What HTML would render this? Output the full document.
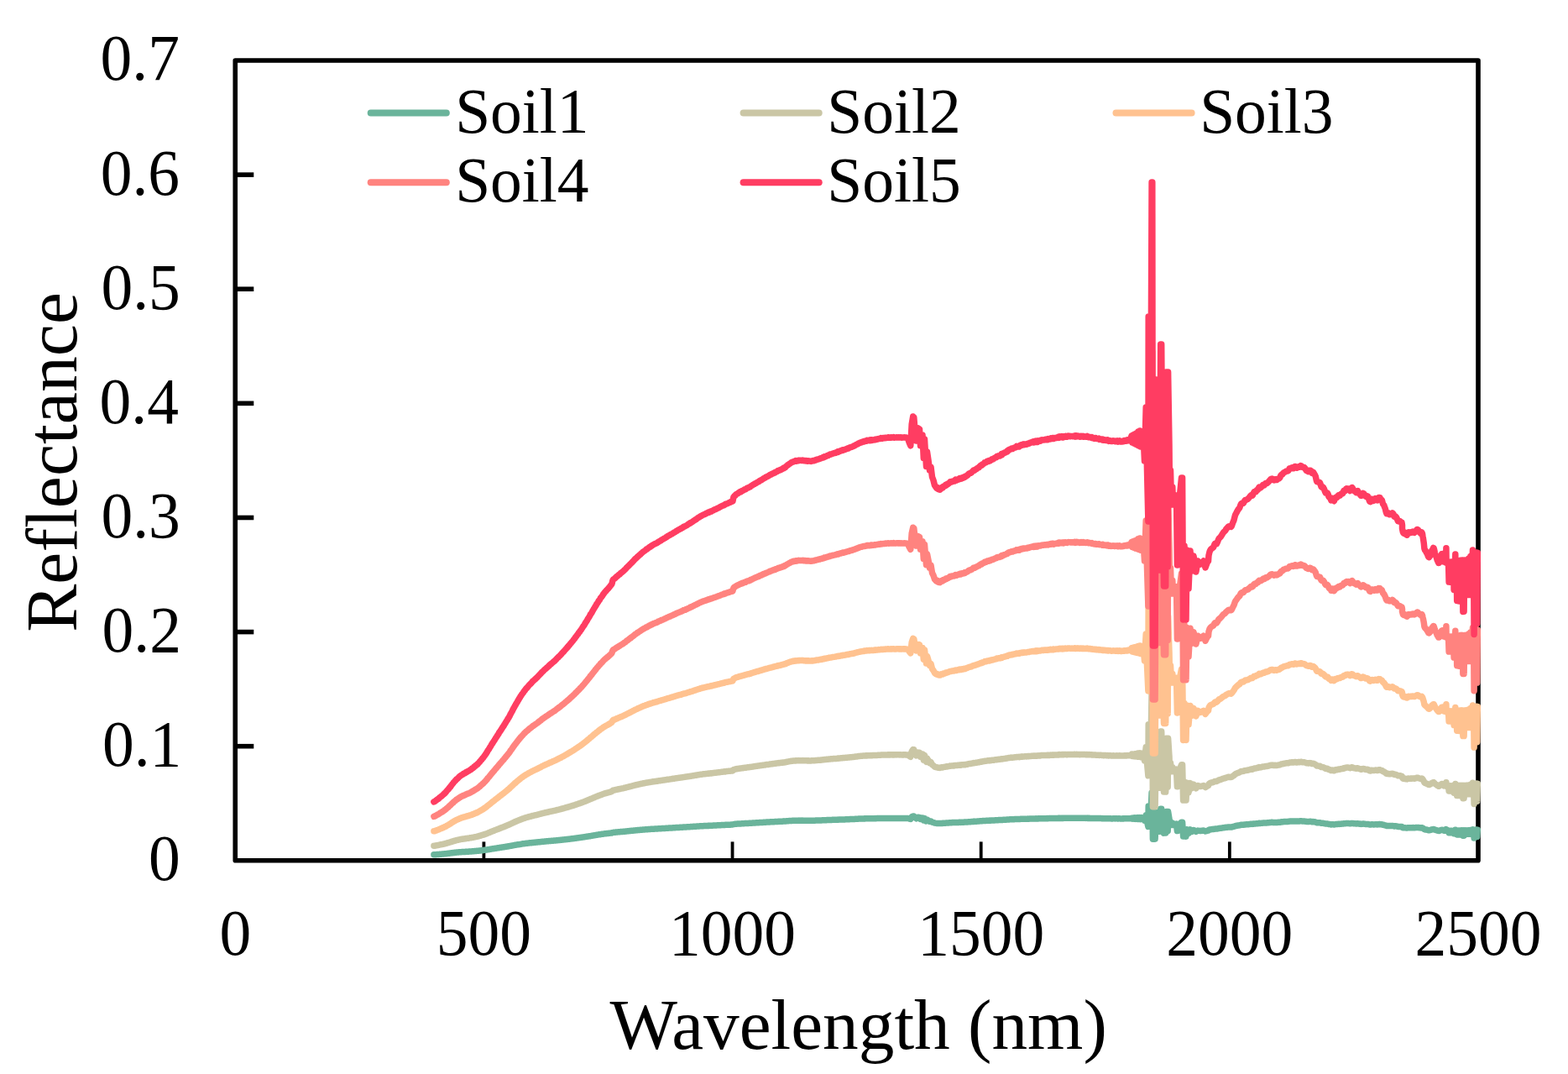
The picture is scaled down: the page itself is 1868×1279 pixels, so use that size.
<!DOCTYPE html><html><head><meta charset="utf-8"><title>Soil reflectance</title><style>html,body{margin:0;padding:0;background:#fff;overflow:hidden}svg{display:block}</style></head><body><svg width="1868" height="1279" viewBox="0 0 1868 1279"><rect x="0" y="0" width="1868" height="1279" fill="#fff"/><rect x="280.25" y="72.0" width="1480.75" height="952.80" fill="none" stroke="#000" stroke-width="5.6" stroke-linejoin="round"/><line x1="280.25" y1="888.69" x2="302.3" y2="888.69" stroke="#000" stroke-width="5.6"/><line x1="280.25" y1="752.57" x2="302.3" y2="752.57" stroke="#000" stroke-width="5.6"/><line x1="280.25" y1="616.46" x2="302.3" y2="616.46" stroke="#000" stroke-width="5.6"/><line x1="280.25" y1="480.34" x2="302.3" y2="480.34" stroke="#000" stroke-width="5.6"/><line x1="280.25" y1="344.23" x2="302.3" y2="344.23" stroke="#000" stroke-width="5.6"/><line x1="280.25" y1="208.11" x2="302.3" y2="208.11" stroke="#000" stroke-width="5.6"/><line x1="576.40" y1="1024.8" x2="576.40" y2="1002.4" stroke="#000" stroke-width="3.8"/><line x1="872.55" y1="1024.8" x2="872.55" y2="1002.4" stroke="#000" stroke-width="3.8"/><line x1="1168.70" y1="1024.8" x2="1168.70" y2="1002.4" stroke="#000" stroke-width="3.8"/><line x1="1464.85" y1="1024.8" x2="1464.85" y2="1002.4" stroke="#000" stroke-width="3.8"/><line x1="441.7" y1="134.6" x2="531.8" y2="134.6" stroke="#6AB49B" stroke-width="8" stroke-linecap="round"/><line x1="885.6" y1="134.6" x2="975.7" y2="134.6" stroke="#CAC6A5" stroke-width="8" stroke-linecap="round"/><line x1="1329.5" y1="134.6" x2="1419.6" y2="134.6" stroke="#FFC290" stroke-width="8" stroke-linecap="round"/><line x1="441.7" y1="217.3" x2="531.8" y2="217.3" stroke="#FF837F" stroke-width="8" stroke-linecap="round"/><line x1="885.6" y1="217.3" x2="975.7" y2="217.3" stroke="#FF3D62" stroke-width="8" stroke-linecap="round"/><path d="M516.9 1017.8L517.2 1017.8L517.7 1017.8L518.2 1017.7L518.7 1017.7L519.3 1017.7L520.0 1017.6L520.6 1017.6L521.3 1017.5L522.0 1017.5L522.6 1017.4L523.2 1017.4L523.8 1017.3L524.4 1017.2L525.0 1017.2L525.6 1017.2L526.2 1017.1L526.7 1017.1L527.3 1017.0L527.9 1017.0L528.4 1016.9L529.0 1016.9L529.5 1016.8L530.0 1016.8L530.6 1016.7L531.2 1016.7L531.8 1016.6L532.3 1016.5L532.9 1016.4L533.4 1016.4L534.0 1016.3L534.5 1016.3L535.0 1016.2L535.6 1016.1L536.1 1016.1L536.7 1016.0L537.2 1015.9L537.8 1015.8L538.3 1015.8L538.9 1015.7L539.4 1015.6L539.9 1015.6L540.5 1015.5L541.0 1015.4L541.6 1015.4L542.1 1015.3L542.7 1015.3L543.2 1015.2L543.8 1015.1L544.3 1015.1L544.8 1015.0L545.4 1015.0L545.9 1015.0L546.5 1014.9L547.0 1014.8L547.6 1014.8L548.2 1014.8L548.8 1014.7L549.3 1014.7L549.9 1014.6L550.4 1014.6L551.0 1014.5L551.6 1014.5L552.2 1014.5L552.8 1014.4L553.4 1014.4L553.9 1014.4L554.5 1014.4L555.0 1014.3L555.6 1014.3L556.2 1014.3L556.8 1014.2L557.3 1014.2L557.9 1014.2L558.4 1014.1L559.0 1014.1L559.5 1014.0L560.0 1014.0L560.6 1014.0L561.1 1013.9L561.7 1013.9L562.2 1013.9L562.7 1013.8L563.3 1013.8L563.8 1013.8L564.4 1013.7L564.9 1013.6L565.5 1013.6L566.0 1013.6L566.6 1013.5L567.2 1013.5L567.8 1013.4L568.3 1013.3L568.9 1013.3L569.4 1013.3L570.0 1013.2L570.5 1013.1L571.1 1013.1L571.6 1013.0L572.2 1013.0L572.7 1012.9L573.3 1012.8L573.8 1012.8L574.4 1012.7L574.9 1012.6L575.5 1012.6L576.0 1012.5L576.6 1012.4L577.1 1012.3L577.7 1012.3L578.2 1012.2L578.7 1012.1L579.3 1012.1L579.8 1011.9L580.3 1011.9L580.8 1011.8L581.4 1011.7L581.9 1011.6L582.5 1011.5L583.0 1011.4L583.5 1011.4L584.0 1011.3L584.5 1011.2L585.0 1011.1L585.5 1011.0L586.1 1010.9L586.8 1010.8L587.5 1010.7L588.0 1010.6L588.5 1010.6L589.0 1010.5L589.6 1010.4L590.2 1010.3L590.8 1010.2L591.4 1010.1L592.0 1010.0L592.6 1009.9L593.2 1009.8L593.9 1009.7L594.5 1009.6L595.1 1009.5L595.7 1009.4L596.3 1009.3L596.9 1009.2L597.5 1009.1L598.0 1009.1L598.6 1009.0L599.2 1008.9L599.8 1008.8L600.4 1008.7L600.9 1008.6L601.5 1008.5L602.1 1008.4L602.7 1008.3L603.3 1008.2L603.8 1008.1L604.4 1008.1L605.0 1007.9L605.6 1007.8L606.2 1007.8L606.8 1007.6L607.4 1007.5L608.0 1007.4L608.6 1007.3L609.2 1007.2L609.8 1007.1L610.4 1007.0L611.0 1006.8L611.5 1006.8L612.1 1006.6L612.7 1006.5L613.3 1006.4L613.8 1006.3L614.4 1006.2L615.0 1006.1L615.6 1006.0L616.2 1005.9L616.7 1005.8L617.3 1005.7L617.8 1005.7L618.4 1005.6L618.9 1005.4L619.5 1005.4L620.1 1005.2L620.7 1005.2L621.3 1005.1L621.8 1005.0L622.4 1004.9L623.0 1004.8L623.5 1004.8L624.1 1004.7L624.7 1004.6L625.3 1004.5L625.8 1004.4L626.4 1004.4L627.0 1004.3L627.6 1004.3L628.2 1004.2L628.9 1004.1L629.5 1004.0L630.1 1004.0L630.7 1003.9L631.2 1003.8L631.8 1003.8L632.4 1003.7L633.0 1003.7L633.5 1003.6L634.1 1003.5L634.7 1003.4L635.3 1003.4L635.9 1003.4L636.5 1003.3L637.1 1003.2L637.7 1003.2L638.3 1003.1L638.9 1003.1L639.5 1003.0L640.1 1003.0L640.7 1002.9L641.3 1002.8L641.9 1002.8L642.5 1002.7L643.0 1002.7L643.6 1002.6L644.2 1002.6L644.8 1002.5L645.4 1002.4L646.0 1002.3L646.6 1002.3L647.2 1002.2L647.7 1002.2L648.3 1002.1L648.9 1002.1L649.5 1002.0L650.1 1002.0L650.7 1001.9L651.3 1001.8L651.9 1001.8L652.5 1001.8L653.0 1001.7L653.6 1001.6L654.2 1001.6L654.8 1001.5L655.4 1001.5L656.0 1001.4L656.6 1001.4L657.2 1001.3L657.7 1001.3L658.3 1001.2L658.9 1001.2L659.5 1001.1L660.1 1001.1L660.7 1001.0L661.3 1001.0L661.9 1000.9L662.5 1000.9L663.1 1000.8L663.7 1000.7L664.3 1000.7L664.9 1000.6L665.5 1000.5L666.1 1000.5L666.7 1000.4L667.3 1000.4L667.8 1000.3L668.4 1000.3L669.0 1000.2L669.5 1000.1L670.1 1000.0L670.7 1000.0L671.3 1000.0L671.9 999.9L672.5 999.8L673.1 999.7L673.7 999.7L674.2 999.6L674.8 999.5L675.4 999.5L675.9 999.4L676.5 999.4L677.1 999.3L677.7 999.2L678.2 999.2L678.8 999.1L679.4 999.0L680.0 998.9L680.5 998.9L681.1 998.8L681.7 998.7L682.3 998.7L682.9 998.6L683.4 998.5L684.0 998.4L684.6 998.4L685.2 998.3L685.8 998.2L686.3 998.1L686.9 998.1L687.5 998.0L688.1 997.9L688.7 997.8L689.3 997.7L689.9 997.6L690.5 997.6L691.1 997.5L691.7 997.4L692.3 997.3L692.9 997.2L693.5 997.1L694.0 997.1L694.6 996.9L695.2 996.9L695.8 996.8L696.3 996.7L696.9 996.6L697.5 996.5L698.1 996.4L698.7 996.3L699.3 996.2L699.8 996.1L700.4 996.0L701.0 995.9L701.5 995.9L702.1 995.8L702.7 995.7L703.2 995.5L703.8 995.5L704.4 995.4L705.0 995.3L705.5 995.2L706.1 995.1L706.7 995.0L707.3 994.8L707.8 994.8L708.4 994.7L709.0 994.6L709.6 994.5L710.1 994.4L710.7 994.3L711.3 994.2L711.9 994.1L712.5 994.0L713.0 993.9L713.6 993.8L714.2 993.8L714.8 993.7L715.3 993.6L715.9 993.5L716.5 993.4L717.1 993.3L717.6 993.3L718.2 993.2L718.8 993.1L719.4 993.0L720.0 992.9L720.6 992.8L721.3 992.8L721.9 992.7L722.5 992.6L723.2 992.6L723.8 992.5L724.4 992.4L724.9 992.4L725.4 992.3L725.9 992.2L726.3 992.2L727.1 992.1L727.7 992.0L728.1 992.0L728.5 991.9L728.8 991.9L729.3 991.7L729.6 991.6L730.0 991.4L730.4 991.4L730.8 991.3L731.5 991.3L731.9 991.3L732.3 991.2L732.7 991.2L733.2 991.1L733.7 991.1L734.4 991.0L735.1 991.0L735.5 990.9L736.0 990.9L736.6 990.8L737.1 990.8L737.7 990.7L738.3 990.7L738.9 990.6L739.5 990.6L740.2 990.5L740.8 990.5L741.4 990.4L742.0 990.4L742.6 990.3L743.2 990.3L743.7 990.2L744.3 990.2L744.8 990.1L745.4 990.1L745.9 990.0L746.5 989.9L747.0 989.9L747.6 989.8L748.2 989.8L748.8 989.7L749.4 989.6L750.1 989.6L750.6 989.5L751.1 989.5L751.7 989.4L752.2 989.3L752.8 989.3L753.3 989.3L753.9 989.2L754.5 989.1L755.1 989.1L755.7 989.0L756.3 988.9L756.9 988.9L757.5 988.8L758.2 988.8L758.8 988.7L759.4 988.6L760.1 988.6L760.6 988.5L761.2 988.5L761.8 988.4L762.3 988.4L762.9 988.3L763.5 988.3L764.1 988.2L764.7 988.2L765.3 988.1L765.9 988.1L766.5 988.0L767.1 988.0L767.7 987.9L768.3 987.9L769.0 987.8L769.6 987.8L770.2 987.7L770.8 987.7L771.4 987.7L772.0 987.6L772.6 987.6L773.2 987.5L773.8 987.5L774.4 987.5L775.0 987.4L775.6 987.3L776.2 987.3L776.8 987.3L777.4 987.2L778.0 987.2L778.6 987.2L779.1 987.2L779.7 987.1L780.3 987.1L780.9 987.1L781.5 987.0L782.1 987.0L782.7 987.0L783.3 986.9L783.9 986.9L784.5 986.8L785.1 986.8L785.7 986.8L786.3 986.7L786.9 986.7L787.5 986.7L788.1 986.6L788.7 986.6L789.3 986.6L789.9 986.5L790.5 986.5L791.1 986.5L791.6 986.4L792.2 986.4L792.8 986.4L793.4 986.3L794.0 986.3L794.6 986.2L795.2 986.2L795.8 986.2L796.4 986.1L797.0 986.1L797.6 986.1L798.2 986.0L798.8 986.0L799.4 986.0L800.0 985.9L800.6 985.9L801.2 985.9L801.8 985.8L802.4 985.8L803.0 985.7L803.6 985.7L804.2 985.7L804.8 985.6L805.4 985.6L806.0 985.5L806.6 985.5L807.2 985.5L807.7 985.4L808.3 985.4L808.9 985.4L809.5 985.4L810.1 985.3L810.7 985.3L811.3 985.3L811.8 985.2L812.4 985.2L813.0 985.2L813.5 985.1L814.1 985.1L814.6 985.0L815.2 985.0L815.8 985.0L816.3 985.0L816.9 984.9L817.5 984.9L818.0 984.9L818.6 984.8L819.2 984.8L819.8 984.8L820.4 984.7L821.0 984.7L821.6 984.7L822.2 984.6L822.7 984.6L823.3 984.6L823.9 984.5L824.4 984.5L825.0 984.5L825.6 984.4L826.2 984.3L826.8 984.3L827.3 984.3L827.9 984.3L828.5 984.2L829.1 984.2L829.7 984.1L830.3 984.1L830.9 984.0L831.5 984.0L832.1 984.0L832.7 983.9L833.3 983.9L833.9 983.8L834.5 983.8L835.1 983.8L835.7 983.8L836.3 983.7L836.9 983.7L837.5 983.7L838.1 983.6L838.7 983.6L839.2 983.6L839.8 983.5L840.4 983.5L841.0 983.5L841.6 983.5L842.2 983.4L842.8 983.4L843.4 983.4L843.9 983.3L844.5 983.4L845.1 983.3L845.7 983.3L846.3 983.2L846.9 983.2L847.5 983.2L848.1 983.2L848.6 983.2L849.2 983.1L849.8 983.1L850.4 983.1L851.0 983.0L851.6 983.0L852.2 983.0L852.8 983.0L853.4 982.9L854.0 982.9L854.7 982.8L855.3 982.8L855.9 982.8L856.5 982.8L857.1 982.7L857.8 982.7L858.4 982.7L859.0 982.6L859.6 982.6L860.1 982.6L860.7 982.6L861.3 982.5L861.8 982.5L862.4 982.5L862.9 982.4L863.4 982.4L863.9 982.4L864.4 982.3L865.1 982.3L865.9 982.3L866.6 982.3L867.3 982.2L868.0 982.2L868.6 982.2L869.2 982.2L869.8 982.2L870.4 982.1L870.9 982.1L871.4 982.1L871.8 982.0L872.2 982.0L872.6 982.0L872.9 982.0L873.9 981.5L874.2 981.5L874.5 981.5L874.9 981.4L875.3 981.4L875.9 981.3L876.6 981.2L877.4 981.2L878.5 981.1L878.9 981.1L879.3 981.1L879.8 981.0L880.3 981.0L880.8 981.0L881.4 980.9L881.9 980.9L882.5 980.9L883.1 980.9L883.7 980.8L884.3 980.8L885.0 980.7L885.6 980.7L886.2 980.7L886.9 980.6L887.5 980.6L888.2 980.6L888.9 980.5L889.5 980.5L890.1 980.4L890.8 980.4L891.4 980.4L892.0 980.4L892.6 980.3L893.2 980.3L893.8 980.3L894.4 980.2L895.0 980.2L895.5 980.2L896.1 980.1L896.7 980.1L897.3 980.0L897.9 980.0L898.5 980.0L899.1 979.9L899.7 979.9L900.2 979.9L900.8 979.8L901.4 979.8L902.0 979.8L902.6 979.7L903.2 979.7L903.8 979.7L904.4 979.6L904.9 979.6L905.5 979.5L906.1 979.5L906.7 979.5L907.3 979.5L907.9 979.4L908.5 979.4L909.1 979.4L909.7 979.3L910.3 979.3L910.9 979.2L911.5 979.2L912.1 979.2L912.7 979.1L913.3 979.1L913.9 979.1L914.5 979.0L915.1 979.0L915.7 979.0L916.2 978.9L916.8 978.9L917.4 978.9L918.0 978.8L918.5 978.8L919.1 978.8L919.6 978.8L920.2 978.7L920.7 978.7L921.4 978.7L922.0 978.7L922.7 978.6L923.4 978.6L924.1 978.5L924.8 978.5L925.4 978.5L926.1 978.5L926.7 978.4L927.4 978.3L928.0 978.4L928.6 978.3L929.2 978.3L929.7 978.3L930.2 978.2L930.7 978.2L931.2 978.2L931.6 978.2L932.0 978.2L933.0 978.1L933.5 978.1L933.7 978.0L934.0 978.1L934.8 978.0L935.2 978.0L935.6 978.0L936.1 977.9L936.6 977.9L937.2 977.8L937.8 977.8L938.3 977.7L938.9 977.7L939.6 977.6L940.2 977.6L940.8 977.5L941.4 977.5L942.0 977.5L942.6 977.4L943.2 977.4L943.8 977.4L944.3 977.3L944.9 977.3L945.5 977.3L946.1 977.3L946.6 977.3L947.2 977.2L947.8 977.2L948.4 977.2L948.9 977.2L949.5 977.2L950.1 977.2L950.6 977.2L951.2 977.1L951.7 977.2L952.3 977.2L952.9 977.1L953.5 977.2L954.1 977.1L954.6 977.2L955.2 977.1L955.8 977.2L956.3 977.1L956.9 977.2L957.5 977.2L958.1 977.2L958.7 977.2L959.3 977.2L959.8 977.2L960.4 977.2L960.9 977.2L961.5 977.2L962.0 977.2L962.6 977.2L963.1 977.2L963.7 977.2L964.3 977.2L964.8 977.2L965.4 977.2L966.0 977.3L966.6 977.2L967.3 977.2L967.9 977.2L968.4 977.2L969.0 977.2L969.6 977.2L970.1 977.2L970.7 977.2L971.3 977.1L971.9 977.1L972.5 977.1L973.1 977.1L973.7 977.0L974.4 977.0L975.0 977.0L975.6 977.0L976.2 976.9L976.8 976.9L977.4 976.9L977.9 976.9L978.5 976.9L979.1 976.9L979.7 976.8L980.3 976.8L980.8 976.8L981.4 976.8L982.0 976.7L982.6 976.7L983.1 976.7L983.7 976.7L984.3 976.7L984.8 976.6L985.4 976.6L985.9 976.6L986.5 976.6L987.1 976.5L987.6 976.5L988.2 976.5L988.8 976.4L989.4 976.4L990.0 976.4L990.6 976.4L991.2 976.4L991.8 976.3L992.4 976.3L993.0 976.3L993.6 976.3L994.2 976.3L994.8 976.3L995.4 976.3L996.0 976.2L996.6 976.2L997.2 976.2L997.8 976.1L998.4 976.2L998.9 976.1L999.5 976.1L1000.1 976.1L1000.6 976.0L1001.2 976.0L1001.8 976.0L1002.4 976.0L1002.9 976.0L1003.5 976.0L1004.1 975.9L1004.7 975.9L1005.2 975.9L1005.8 975.9L1006.4 975.9L1006.9 975.9L1007.5 975.8L1008.1 975.8L1008.6 975.8L1009.2 975.8L1009.8 975.7L1010.4 975.7L1011.0 975.7L1011.6 975.7L1012.1 975.6L1012.7 975.6L1013.3 975.6L1013.9 975.6L1014.4 975.6L1015.0 975.5L1015.5 975.5L1016.1 975.5L1016.6 975.5L1017.1 975.4L1017.8 975.4L1018.4 975.4L1019.0 975.3L1019.6 975.3L1020.2 975.3L1020.8 975.2L1021.4 975.2L1021.9 975.2L1022.5 975.1L1023.1 975.1L1023.6 975.1L1024.2 975.0L1024.8 975.1L1025.4 975.0L1026.0 975.0L1026.6 975.0L1027.1 975.0L1027.7 974.9L1028.3 974.9L1028.9 974.9L1029.5 974.9L1030.1 974.8L1030.7 974.9L1031.3 974.8L1031.9 974.8L1032.5 974.8L1033.0 974.8L1033.6 974.8L1034.2 974.8L1034.7 974.8L1035.3 974.7L1035.9 974.8L1036.4 974.8L1037.0 974.7L1037.6 974.8L1038.2 974.7L1038.8 974.8L1039.4 974.7L1040.0 974.7L1040.6 974.7L1041.2 974.7L1041.8 974.7L1042.4 974.6L1042.9 974.7L1043.5 974.7L1044.1 974.6L1044.7 974.6L1045.3 974.6L1045.9 974.6L1046.6 974.6L1047.2 974.6L1047.8 974.6L1048.4 974.6L1049.0 974.6L1049.6 974.5L1050.2 974.5L1050.8 974.5L1051.4 974.5L1051.9 974.5L1052.5 974.5L1053.1 974.5L1053.6 974.5L1054.2 974.5L1054.7 974.5L1055.3 974.4L1055.9 974.5L1056.4 974.4L1057.0 974.4L1057.6 974.4L1058.1 974.4L1058.7 974.4L1059.3 974.4L1059.8 974.4L1060.4 974.4L1061.0 974.4L1061.5 974.4L1062.1 974.4L1062.7 974.4L1063.2 974.4L1063.8 974.4L1064.4 974.4L1065.0 974.4L1065.5 974.4L1066.1 974.4L1066.7 974.4L1067.3 974.4L1067.8 974.4L1068.4 974.4L1069.0 974.4L1069.5 974.4L1070.1 974.4L1070.7 974.4L1071.3 974.4L1071.9 974.4L1072.6 974.4L1073.2 974.4L1073.9 974.4L1074.5 974.4L1075.2 974.4L1075.8 974.4L1076.4 974.4L1077.0 974.4L1077.6 974.4L1078.1 974.4L1078.6 974.4L1079.0 974.4L1079.4 974.4L1079.7 974.4L1081.5 974.5L1083.2 975.0L1084.8 975.4L1086.2 972.8L1087.7 971.9L1088.8 972.0L1090.2 973.8L1091.6 974.8L1092.6 973.5L1094.0 973.3L1095.5 973.4L1096.5 975.4L1097.5 974.1L1099.0 974.1L1100.3 976.9L1101.5 974.6L1102.5 976.3L1103.5 977.9L1104.5 976.1L1106.0 977.1L1107.5 978.3L1109.0 977.9L1110.5 979.1L1112.0 979.5L1113.5 980.1L1115.5 980.4L1116.5 980.4L1116.8 980.5L1117.1 980.5L1117.7 980.6L1118.6 980.6L1119.0 980.6L1119.5 980.6L1120.0 980.6L1120.5 980.5L1121.1 980.5L1121.7 980.4L1122.4 980.4L1123.0 980.4L1123.7 980.2L1124.3 980.3L1125.0 980.3L1125.6 980.2L1126.1 980.2L1126.7 980.1L1127.2 980.1L1127.8 980.1L1128.3 980.0L1128.8 980.0L1129.4 980.0L1130.0 979.9L1130.5 979.9L1131.1 979.8L1131.7 979.7L1132.3 979.8L1132.9 979.7L1133.5 979.7L1134.0 979.6L1134.6 979.6L1135.2 979.6L1135.8 979.6L1136.3 979.6L1136.9 979.6L1137.5 979.5L1138.1 979.4L1138.8 979.5L1139.4 979.5L1140.0 979.5L1140.5 979.5L1141.1 979.4L1141.7 979.4L1142.3 979.4L1142.8 979.3L1143.4 979.3L1144.0 979.3L1144.6 979.4L1145.2 979.3L1145.7 979.2L1146.3 979.2L1146.8 979.2L1147.4 979.2L1147.9 979.2L1148.5 979.1L1149.0 979.1L1149.6 979.1L1150.1 979.0L1150.7 979.0L1151.3 979.0L1151.9 979.0L1152.5 978.9L1153.1 978.9L1153.7 978.8L1154.3 978.7L1154.9 978.7L1155.5 978.7L1156.1 978.7L1156.7 978.6L1157.3 978.6L1157.9 978.5L1158.5 978.5L1159.1 978.4L1159.7 978.3L1160.3 978.4L1161.0 978.3L1161.6 978.3L1162.2 978.2L1162.8 978.2L1163.4 978.2L1164.0 978.1L1164.6 978.1L1165.2 978.0L1165.8 978.0L1166.3 978.0L1166.9 977.9L1167.5 977.8L1168.1 977.8L1168.6 977.7L1169.1 977.8L1169.7 977.7L1170.2 977.6L1170.7 977.6L1171.3 977.6L1171.9 977.5L1172.5 977.5L1173.0 977.4L1173.5 977.4L1174.1 977.4L1174.6 977.4L1175.2 977.3L1175.8 977.3L1176.4 977.3L1176.9 977.2L1177.5 977.2L1178.1 977.2L1178.7 977.1L1179.3 977.1L1179.8 977.2L1180.4 977.1L1181.0 977.1L1181.6 977.0L1182.2 977.0L1182.8 977.0L1183.4 977.0L1184.0 976.9L1184.6 976.9L1185.2 976.9L1185.8 976.8L1186.4 976.8L1187.0 976.8L1187.6 976.7L1188.2 976.7L1188.8 976.7L1189.4 976.6L1190.0 976.6L1190.6 976.6L1191.2 976.6L1191.8 976.5L1192.4 976.5L1193.0 976.4L1193.6 976.5L1194.2 976.4L1194.8 976.4L1195.4 976.3L1196.0 976.3L1196.6 976.2L1197.2 976.2L1197.8 976.2L1198.4 976.2L1199.0 976.1L1199.6 976.0L1200.2 976.1L1200.8 976.0L1201.4 975.9L1202.0 975.9L1202.6 975.9L1203.2 975.8L1203.8 975.8L1204.4 975.8L1205.0 975.7L1205.6 975.7L1206.2 975.8L1206.8 975.7L1207.4 975.7L1208.0 975.7L1208.6 975.6L1209.2 975.6L1209.8 975.6L1210.4 975.6L1211.0 975.5L1211.6 975.5L1212.2 975.5L1212.7 975.5L1213.3 975.4L1213.9 975.5L1214.4 975.5L1215.0 975.4L1215.5 975.4L1216.1 975.3L1216.7 975.3L1217.2 975.3L1217.8 975.3L1218.4 975.3L1218.9 975.2L1219.5 975.2L1220.1 975.3L1220.7 975.2L1221.3 975.2L1221.9 975.2L1222.5 975.2L1223.1 975.2L1223.7 975.2L1224.3 975.1L1224.9 975.1L1225.5 975.2L1226.1 975.1L1226.7 975.1L1227.3 975.1L1227.9 975.0L1228.5 975.0L1229.0 975.0L1229.6 974.9L1230.2 975.0L1230.8 974.9L1231.3 975.0L1231.9 975.0L1232.5 974.9L1233.1 975.0L1233.8 974.9L1234.4 974.8L1235.1 975.0L1235.6 974.9L1236.1 974.9L1236.7 974.8L1237.2 974.9L1237.8 974.8L1238.3 974.8L1238.9 974.8L1239.5 974.8L1240.1 974.7L1240.7 974.7L1241.3 974.7L1241.9 974.7L1242.5 974.7L1243.0 974.7L1243.6 974.7L1244.2 974.7L1244.8 974.7L1245.4 974.7L1246.0 974.7L1246.6 974.7L1247.1 974.6L1247.7 974.6L1248.3 974.7L1248.9 974.6L1249.5 974.6L1250.1 974.6L1250.6 974.6L1251.2 974.6L1251.8 974.5L1252.4 974.6L1253.0 974.6L1253.6 974.5L1254.2 974.6L1254.7 974.5L1255.3 974.6L1255.9 974.5L1256.5 974.5L1257.1 974.5L1257.6 974.5L1258.2 974.5L1258.8 974.4L1259.4 974.5L1259.9 974.4L1260.5 974.4L1261.1 974.3L1261.7 974.4L1262.3 974.4L1262.8 974.3L1263.4 974.4L1264.0 974.4L1264.6 974.4L1265.1 974.3L1265.7 974.4L1266.3 974.3L1266.9 974.4L1267.5 974.3L1268.0 974.3L1268.6 974.3L1269.2 974.3L1269.8 974.3L1270.4 974.3L1271.0 974.3L1271.5 974.3L1272.1 974.3L1272.7 974.2L1273.3 974.3L1273.9 974.3L1274.5 974.2L1275.1 974.3L1275.6 974.3L1276.2 974.3L1276.8 974.3L1277.4 974.3L1278.0 974.3L1278.5 974.3L1279.1 974.3L1279.7 974.2L1280.3 974.2L1280.9 974.3L1281.4 974.3L1282.0 974.3L1282.6 974.2L1283.2 974.3L1283.7 974.3L1284.3 974.2L1284.9 974.3L1285.5 974.3L1286.0 974.3L1286.6 974.3L1287.2 974.3L1287.8 974.2L1288.4 974.3L1289.0 974.3L1289.6 974.3L1290.2 974.3L1290.8 974.3L1291.4 974.3L1292.0 974.3L1292.6 974.3L1293.2 974.3L1293.8 974.4L1294.4 974.3L1295.0 974.3L1295.5 974.4L1296.1 974.4L1296.6 974.3L1297.1 974.4L1297.6 974.3L1298.3 974.4L1299.0 974.4L1299.6 974.4L1300.2 974.5L1300.8 974.4L1301.3 974.5L1301.9 974.5L1302.4 974.5L1302.9 974.5L1303.5 974.5L1304.0 974.5L1304.6 974.5L1305.2 974.5L1305.8 974.5L1306.3 974.6L1306.9 974.6L1307.5 974.6L1308.0 974.6L1308.6 974.6L1309.2 974.5L1309.8 974.6L1310.3 974.6L1310.9 974.6L1311.5 974.6L1312.1 974.6L1312.7 974.7L1313.2 974.7L1313.8 974.6L1314.4 974.7L1315.0 974.7L1315.6 974.7L1316.2 974.7L1316.7 974.7L1317.3 974.7L1317.9 974.8L1318.5 974.8L1319.1 974.7L1319.7 974.8L1320.3 974.7L1320.8 974.8L1321.4 974.8L1322.0 974.8L1322.6 974.8L1323.2 974.8L1323.8 974.9L1324.3 974.9L1324.9 974.9L1325.5 974.9L1326.1 974.8L1326.7 974.8L1327.2 974.8L1327.8 974.8L1328.4 974.9L1329.0 974.8L1329.5 974.8L1330.1 974.8L1330.7 974.8L1331.2 974.9L1331.8 974.9L1332.4 974.9L1333.0 974.8L1333.6 974.8L1334.2 974.9L1334.9 974.9L1335.5 974.9L1336.1 974.9L1336.7 974.9L1337.3 974.9L1337.9 974.8L1338.4 974.9L1338.9 974.9L1339.4 974.8L1340.2 974.8L1340.8 974.8L1341.4 974.8L1341.8 974.8L1342.3 974.8L1342.9 974.7L1343.5 974.8L1344.1 974.8L1344.7 974.8L1345.3 974.7L1345.8 974.7L1346.3 974.8L1346.6 974.7L1348.0 974.2L1349.0 975.0L1350.0 974.1L1351.0 975.1L1352.0 974.0L1353.0 975.2L1354.0 973.9L1355.0 975.3L1356.0 973.7L1357.0 975.4L1358.0 973.6L1359.0 975.5L1360.0 973.7L1361.0 975.3L1362.0 973.9L1363.5 977.2L1365.2 970.8L1366.5 978.3L1367.9 984.4L1368.2 960.0L1369.5 972.3L1370.5 982.3L1372.1 944.0L1372.8 944.0L1373.4 999.2L1374.5 982.3L1375.0 999.2L1376.1 999.2L1377.5 967.5L1378.5 987.3L1379.5 969.3L1381.3 990.2L1382.7 963.3L1383.7 963.3L1385.0 982.3L1386.5 992.1L1387.5 967.3L1388.7 992.1L1389.7 966.6L1390.5 982.3L1391.2 989.8L1391.6 966.6L1393.0 975.2L1393.6 982.4L1394.5 978.3L1395.5 982.4L1396.8 980.3L1397.6 982.4L1398.6 981.3L1399.6 982.4L1401.5 981.3L1402.4 989.6L1403.0 989.6L1404.5 982.3L1407.5 979.2L1408.6 979.2L1409.6 996.1L1411.0 987.3L1413.0 996.1L1414.0 987.8L1416.0 992.4L1418.0 987.9L1420.0 990.3L1422.0 988.5L1424.9 990.4L1427.0 989.1L1430.0 989.5L1433.8 989.1L1436.0 989.9L1438.2 989.3L1439.5 989.1L1439.7 988.9L1440.0 988.4L1440.9 988.1L1441.3 988.0L1441.8 987.8L1442.3 987.8L1442.9 987.7L1443.5 987.6L1444.2 987.6L1444.9 987.6L1445.6 987.5L1446.2 987.3L1446.9 987.2L1447.5 987.1L1448.1 987.1L1448.7 987.1L1449.3 987.1L1449.9 987.0L1450.5 986.9L1451.1 986.7L1451.7 986.5L1452.3 986.4L1452.9 986.4L1453.5 986.3L1454.1 986.3L1454.7 986.2L1455.3 986.1L1455.9 986.0L1456.6 985.9L1457.2 985.8L1457.8 985.7L1458.4 985.6L1459.0 985.6L1459.5 985.5L1460.1 985.4L1460.6 985.3L1461.3 985.3L1461.9 985.2L1462.5 985.1L1463.1 985.1L1463.6 985.0L1464.1 985.0L1464.6 985.0L1465.0 985.0L1465.7 985.0L1466.3 985.1L1466.8 985.0L1467.2 985.0L1467.7 984.9L1468.0 984.8L1468.5 984.6L1468.9 984.5L1469.4 984.4L1469.9 984.3L1470.5 984.1L1471.0 983.9L1471.5 983.7L1472.0 983.6L1472.6 983.5L1473.2 983.3L1473.8 983.2L1474.3 983.1L1474.8 983.0L1475.3 983.0L1475.8 982.9L1476.3 982.9L1476.9 982.8L1477.5 982.6L1478.2 982.4L1478.7 982.3L1479.3 982.3L1479.8 982.2L1480.4 982.2L1481.0 982.3L1481.6 982.2L1482.2 982.1L1482.9 981.9L1483.5 981.9L1484.1 981.9L1484.7 981.8L1485.3 981.8L1485.9 981.8L1486.5 981.8L1487.1 981.7L1487.7 981.6L1488.3 981.5L1488.9 981.5L1489.5 981.4L1490.1 981.3L1490.7 981.3L1491.3 981.3L1491.8 981.4L1492.4 981.3L1492.9 981.2L1493.4 981.0L1493.9 980.9L1494.5 980.9L1495.0 980.9L1495.5 980.9L1496.1 980.9L1496.7 980.8L1497.3 980.7L1497.9 980.7L1498.4 980.7L1499.0 980.6L1499.5 980.4L1500.1 980.3L1500.7 980.4L1501.3 980.4L1501.9 980.4L1502.6 980.3L1503.2 980.3L1503.8 980.2L1504.4 980.1L1505.0 980.0L1505.5 980.0L1506.1 980.1L1506.6 980.1L1507.2 980.0L1507.8 979.9L1508.4 979.9L1508.9 979.9L1509.4 979.9L1510.0 979.8L1510.5 979.8L1511.0 979.7L1511.5 979.7L1512.1 979.6L1512.6 979.5L1513.2 979.5L1513.8 979.4L1514.3 979.4L1514.9 979.3L1515.5 979.3L1516.1 979.4L1516.7 979.4L1517.3 979.5L1517.9 979.5L1518.5 979.5L1519.1 979.4L1519.7 979.4L1520.3 979.5L1520.9 979.5L1521.5 979.4L1522.1 979.4L1522.7 979.3L1523.2 979.3L1523.8 979.3L1524.4 979.2L1525.0 979.2L1525.6 979.0L1526.2 978.9L1526.7 978.8L1527.3 978.9L1527.9 978.8L1528.5 978.7L1529.1 978.6L1529.7 978.6L1530.3 978.6L1530.9 978.5L1531.5 978.5L1532.1 978.5L1532.6 978.4L1533.2 978.4L1533.8 978.4L1534.4 978.4L1535.0 978.3L1535.6 978.2L1536.2 978.1L1536.8 978.1L1537.4 978.1L1538.0 978.1L1538.5 978.0L1539.1 978.0L1539.7 978.0L1540.3 978.1L1540.9 978.1L1541.5 978.1L1542.0 978.0L1542.6 977.9L1543.2 977.9L1543.8 978.0L1544.4 978.0L1545.0 978.0L1545.6 978.0L1546.2 977.9L1546.8 977.9L1547.3 977.9L1547.9 978.0L1548.5 977.9L1549.1 977.8L1549.7 977.8L1550.3 977.8L1550.9 977.9L1551.5 978.0L1552.1 978.0L1552.7 978.0L1553.3 978.0L1553.9 978.0L1554.6 978.1L1555.2 978.2L1555.8 978.3L1556.4 978.4L1557.0 978.4L1557.6 978.4L1558.1 978.4L1558.7 978.5L1559.2 978.4L1559.9 978.4L1560.6 978.3L1561.2 978.3L1561.9 978.4L1562.5 978.5L1563.0 978.7L1563.6 978.7L1564.1 978.6L1564.6 978.6L1565.3 978.7L1565.8 978.8L1566.3 978.8L1566.8 978.9L1567.3 979.1L1567.9 979.3L1568.4 979.6L1568.9 979.7L1569.4 979.7L1569.9 979.7L1570.5 979.7L1571.1 979.8L1571.8 979.8L1572.5 979.8L1573.0 979.9L1573.5 980.1L1574.0 980.3L1574.6 980.3L1575.2 980.3L1575.8 980.3L1576.4 980.4L1577.0 980.5L1577.6 980.6L1578.2 980.8L1578.8 980.9L1579.4 981.0L1580.0 981.0L1580.6 981.0L1581.2 981.0L1581.7 981.1L1582.3 981.2L1582.9 981.4L1583.5 981.6L1584.0 981.5L1584.6 981.6L1585.2 981.7L1585.8 981.9L1586.3 981.9L1586.9 981.8L1587.5 981.7L1588.1 981.8L1588.7 981.9L1589.3 982.0L1589.9 981.9L1590.5 981.7L1591.1 981.6L1591.7 981.5L1592.3 981.6L1592.9 981.6L1593.4 981.5L1594.0 981.4L1594.5 981.3L1595.0 981.3L1595.6 981.4L1596.2 981.3L1596.6 981.3L1597.0 981.2L1597.5 981.2L1598.0 981.1L1598.5 981.1L1599.2 981.1L1600.0 981.0L1600.4 980.9L1600.9 980.8L1601.5 980.7L1602.0 980.8L1602.6 980.8L1603.2 980.6L1603.8 980.5L1604.4 980.5L1605.1 980.5L1605.7 980.5L1606.4 980.5L1607.1 980.6L1607.7 980.7L1608.4 980.8L1609.0 980.7L1609.6 980.5L1610.2 980.4L1610.8 980.4L1611.3 980.4L1612.0 980.6L1612.6 980.7L1613.3 980.8L1613.9 980.8L1614.5 980.8L1615.1 980.9L1615.7 981.0L1616.3 980.9L1616.9 980.8L1617.5 980.8L1618.0 980.9L1618.5 981.0L1619.0 981.0L1619.5 981.1L1620.0 981.1L1620.7 981.3L1621.3 981.4L1621.8 981.3L1622.3 981.3L1622.8 981.2L1623.3 981.1L1623.8 981.1L1624.4 981.1L1625.0 981.1L1625.5 981.2L1626.0 981.3L1626.5 981.4L1627.0 981.4L1627.6 981.5L1628.2 981.4L1628.7 981.4L1629.3 981.4L1629.9 981.5L1630.5 981.7L1631.2 981.9L1631.8 982.0L1632.5 982.1L1633.0 982.0L1633.6 981.8L1634.2 981.8L1634.8 981.8L1635.4 981.8L1636.0 981.9L1636.7 981.9L1637.3 981.9L1638.0 981.8L1638.6 981.7L1639.2 981.7L1639.8 981.8L1640.4 981.9L1641.0 981.9L1641.5 981.8L1642.0 981.7L1642.5 981.6L1643.3 981.6L1644.0 981.6L1644.7 981.8L1645.3 981.8L1645.8 981.8L1646.3 981.9L1646.7 982.0L1647.2 982.2L1647.6 982.3L1648.2 982.4L1648.5 982.4L1648.8 982.5L1649.2 982.6L1650.0 982.8L1650.4 982.9L1650.9 983.1L1651.4 983.3L1652.0 983.5L1652.6 983.4L1653.2 983.4L1653.9 983.4L1654.5 983.5L1655.2 983.6L1655.8 983.6L1656.5 983.5L1657.0 983.5L1657.6 983.5L1658.2 983.5L1658.8 983.4L1659.4 983.5L1660.0 983.5L1660.5 983.7L1661.1 983.9L1661.6 983.9L1662.1 983.8L1662.7 983.8L1663.2 983.9L1663.8 984.0L1664.4 984.1L1665.0 984.3L1665.6 984.4L1666.3 984.4L1666.9 984.4L1667.5 984.4L1668.1 984.4L1668.7 984.5L1669.2 984.5L1669.6 984.5L1670.0 984.6L1670.5 984.8L1670.5 985.3L1671.3 985.7L1671.7 985.8L1672.1 985.8L1672.6 985.8L1673.1 985.8L1673.6 985.7L1674.2 985.8L1674.9 985.9L1675.5 986.0L1676.2 986.0L1676.8 985.9L1677.5 985.7L1678.1 985.7L1678.8 985.8L1679.4 985.8L1680.0 985.7L1680.6 985.7L1681.2 985.7L1681.8 985.7L1682.4 985.7L1683.1 985.6L1683.7 985.6L1684.3 985.7L1684.9 985.8L1685.5 985.7L1686.1 985.6L1686.7 985.6L1687.3 985.5L1687.8 985.4L1688.3 985.4L1688.8 985.4L1689.5 985.4L1690.2 985.5L1690.8 985.7L1691.4 985.7L1692.0 985.8L1692.5 985.9L1692.9 985.9L1693.4 985.7L1693.8 985.7L1694.5 985.9L1695.0 986.2L1695.5 986.5L1695.9 986.7L1696.3 987.0L1696.7 987.4L1696.9 987.6L1697.6 987.9L1698.0 987.9L1698.5 987.9L1699.0 988.1L1699.6 988.1L1700.2 988.3L1700.8 988.4L1701.4 988.6L1702.0 988.7L1702.6 988.7L1703.1 988.6L1703.7 988.5L1704.2 988.4L1704.8 988.2L1705.3 988.0L1705.8 987.9L1706.4 987.8L1707.0 987.7L1707.6 987.6L1708.1 987.6L1708.7 987.8L1709.3 988.1L1709.9 988.3L1710.5 988.5L1711.1 988.6L1711.7 988.8L1712.2 989.0L1712.8 989.1L1713.3 989.3L1713.8 989.4L1714.5 989.4L1715.1 989.2L1715.7 988.9L1716.3 988.7L1716.8 988.5L1717.2 988.4L1717.6 988.3L1718.3 988.3L1718.7 988.4L1719.0 988.5L1719.5 988.8L1720.1 989.2L1720.7 989.1L1721.3 989.2L1721.9 989.1L1722.5 989.3L1722.9 987.6L1723.1 989.1L1723.7 989.3L1724.3 989.2L1724.9 989.4L1725.5 989.2L1726.1 991.6L1726.7 989.2L1727.3 991.6L1727.9 989.3L1728.5 991.6L1729.1 989.2L1729.7 991.6L1730.3 989.3L1730.9 991.6L1731.5 989.2L1732.1 992.6L1732.7 989.2L1733.3 992.6L1733.8 988.3L1733.9 989.1L1734.5 992.6L1735.1 989.2L1735.7 993.9L1736.3 989.1L1736.9 993.9L1737.5 989.1L1738.1 993.9L1738.7 989.1L1739.3 993.9L1739.9 989.0L1740.5 993.9L1741.1 989.0L1741.7 993.8L1742.3 989.0L1742.9 995.2L1743.5 989.1L1744.1 995.2L1744.7 989.0L1745.3 993.1L1745.9 989.0L1746.5 993.1L1747.1 989.0L1747.7 993.2L1748.3 989.0L1748.9 993.1L1749.5 988.8L1750.1 993.2L1750.7 988.8L1751.3 993.1L1751.9 988.6L1752.5 993.2L1753.1 988.5L1753.7 993.2L1754.3 988.4L1754.5 987.8L1754.9 993.1L1755.5 988.3L1756.1 997.9L1756.7 988.2L1757.3 996.6L1757.9 988.2L1758.5 996.5L1759.1 988.1L1759.7 996.6L1760.3 988.2" fill="none" stroke="#6AB49B" stroke-width="7.5" stroke-linejoin="round" stroke-linecap="round"/><path d="M516.9 1007.3L517.2 1007.3L517.7 1007.3L518.2 1007.1L518.7 1007.1L519.3 1006.9L520.0 1006.8L520.6 1006.7L521.3 1006.5L522.0 1006.5L522.6 1006.4L523.2 1006.2L523.8 1006.0L524.4 1005.9L525.0 1005.8L525.6 1005.7L526.2 1005.6L526.7 1005.5L527.3 1005.4L527.9 1005.2L528.4 1005.1L529.0 1005.0L529.5 1004.8L530.0 1004.8L530.6 1004.6L531.2 1004.4L531.8 1004.2L532.3 1004.1L532.9 1003.9L533.4 1003.8L534.0 1003.6L534.5 1003.5L535.0 1003.3L535.6 1003.1L536.1 1002.9L536.7 1002.8L537.2 1002.6L537.8 1002.4L538.3 1002.3L538.9 1002.0L539.4 1001.9L539.9 1001.8L540.5 1001.5L541.0 1001.4L541.6 1001.3L542.1 1001.1L542.7 1001.0L543.2 1000.8L543.8 1000.6L544.3 1000.6L544.8 1000.4L545.4 1000.3L545.9 1000.2L546.5 1000.0L547.0 999.9L547.6 999.7L548.2 999.7L548.8 999.5L549.3 999.4L549.9 999.3L550.4 999.2L551.0 999.2L551.6 999.1L552.2 998.9L552.8 998.9L553.4 998.9L553.9 998.8L554.5 998.7L555.0 998.5L555.6 998.4L556.2 998.4L556.8 998.3L557.3 998.2L557.9 998.2L558.4 998.1L559.0 998.0L559.5 997.9L560.0 997.8L560.6 997.8L561.1 997.7L561.7 997.6L562.2 997.5L562.7 997.3L563.3 997.3L563.8 997.2L564.4 997.1L564.9 996.9L565.5 996.8L566.0 996.7L566.6 996.5L567.2 996.5L567.8 996.4L568.3 996.2L568.9 996.1L569.4 996.0L570.0 995.8L570.5 995.7L571.1 995.5L571.6 995.3L572.2 995.2L572.7 995.0L573.3 994.8L573.8 994.7L574.4 994.5L574.9 994.3L575.5 994.2L576.0 994.1L576.6 993.8L577.1 993.6L577.7 993.5L578.2 993.3L578.7 993.1L579.3 993.0L579.8 992.7L580.3 992.5L580.8 992.2L581.4 992.0L581.9 991.8L582.5 991.6L583.0 991.4L583.5 991.2L584.0 991.0L584.5 990.8L585.0 990.6L585.5 990.3L586.1 990.1L586.8 989.9L587.5 989.6L588.0 989.4L588.5 989.2L589.0 989.0L589.6 988.7L590.2 988.5L590.8 988.3L591.4 988.0L592.0 987.8L592.6 987.6L593.2 987.3L593.9 987.1L594.5 986.8L595.1 986.6L595.7 986.4L596.3 986.1L596.9 985.9L597.5 985.7L598.0 985.5L598.6 985.2L599.2 985.0L599.8 984.9L600.4 984.6L600.9 984.3L601.5 984.1L602.1 983.9L602.7 983.6L603.3 983.3L603.8 983.1L604.4 983.0L605.0 982.6L605.6 982.4L606.2 982.2L606.8 981.9L607.4 981.7L608.0 981.3L608.6 981.0L609.2 980.8L609.8 980.5L610.4 980.2L611.0 979.9L611.5 979.7L612.1 979.3L612.7 979.1L613.3 978.8L613.8 978.6L614.4 978.4L615.0 978.1L615.6 977.8L616.2 977.6L616.7 977.3L617.3 977.1L617.8 976.9L618.4 976.7L618.9 976.4L619.5 976.3L620.1 975.9L620.7 975.8L621.3 975.5L621.8 975.3L622.4 975.1L623.0 974.9L623.5 974.7L624.1 974.5L624.7 974.3L625.3 974.2L625.8 973.9L626.4 973.7L627.0 973.5L627.6 973.4L628.2 973.2L628.9 973.1L629.5 972.8L630.1 972.7L630.7 972.5L631.2 972.4L631.8 972.3L632.4 972.0L633.0 972.0L633.5 971.8L634.1 971.6L634.7 971.4L635.3 971.4L635.9 971.2L636.5 971.0L637.1 970.9L637.7 970.8L638.3 970.7L638.9 970.4L639.5 970.4L640.1 970.2L640.7 970.1L641.3 969.9L641.9 969.7L642.5 969.6L643.0 969.4L643.6 969.3L644.2 969.2L644.8 969.0L645.4 968.8L646.0 968.7L646.6 968.5L647.2 968.4L647.7 968.3L648.3 968.1L648.9 968.0L649.5 967.8L650.1 967.7L650.7 967.6L651.3 967.4L651.9 967.3L652.5 967.2L653.0 967.1L653.6 966.9L654.2 966.8L654.8 966.6L655.4 966.5L656.0 966.3L656.6 966.3L657.2 966.1L657.7 966.0L658.3 965.9L658.9 965.7L659.5 965.6L660.1 965.5L660.7 965.4L661.3 965.2L661.9 965.1L662.5 964.9L663.1 964.8L663.7 964.6L664.3 964.4L664.9 964.4L665.5 964.1L666.1 964.0L666.7 963.9L667.3 963.7L667.8 963.6L668.4 963.4L669.0 963.3L669.5 963.1L670.1 962.9L670.7 962.8L671.3 962.7L671.9 962.5L672.5 962.3L673.1 962.1L673.7 961.9L674.2 961.8L674.8 961.6L675.4 961.5L675.9 961.3L676.5 961.2L677.1 961.0L677.7 960.8L678.2 960.7L678.8 960.5L679.4 960.2L680.0 960.1L680.5 960.0L681.1 959.8L681.7 959.6L682.3 959.4L682.9 959.3L683.4 959.1L684.0 958.9L684.6 958.7L685.2 958.5L685.8 958.2L686.3 958.1L686.9 957.9L687.5 957.7L688.1 957.5L688.7 957.4L689.3 957.0L689.9 956.9L690.5 956.8L691.1 956.4L691.7 956.3L692.3 956.1L692.9 955.8L693.5 955.6L694.0 955.4L694.6 955.2L695.2 955.0L695.8 954.8L696.3 954.6L696.9 954.3L697.5 954.1L698.1 953.8L698.7 953.6L699.3 953.4L699.8 953.1L700.4 952.8L701.0 952.6L701.5 952.5L702.1 952.2L702.7 951.9L703.2 951.6L703.8 951.4L704.4 951.2L705.0 951.0L705.5 950.7L706.1 950.5L706.7 950.2L707.3 949.9L707.8 949.8L708.4 949.5L709.0 949.2L709.6 949.0L710.1 948.8L710.7 948.5L711.3 948.3L711.9 948.1L712.5 947.9L713.0 947.6L713.6 947.4L714.2 947.2L714.8 947.0L715.3 946.7L715.9 946.5L716.5 946.4L717.1 946.1L717.6 946.0L718.2 945.7L718.8 945.5L719.4 945.3L720.0 945.0L720.6 944.9L721.3 944.7L721.9 944.6L722.5 944.3L723.2 944.2L723.8 944.0L724.4 943.9L724.9 943.7L725.4 943.6L725.9 943.4L726.3 943.3L727.1 943.1L727.7 942.9L728.1 942.7L728.5 942.6L728.8 942.5L729.3 942.1L729.6 941.7L730.0 941.4L730.4 941.2L730.8 941.1L731.5 941.0L731.9 940.9L732.3 940.8L732.7 940.7L733.2 940.6L733.7 940.5L734.4 940.3L735.1 940.2L735.5 940.1L736.0 940.1L736.6 939.9L737.1 939.7L737.7 939.6L738.3 939.6L738.9 939.4L739.5 939.2L740.2 939.1L740.8 939.0L741.4 938.9L742.0 938.7L742.6 938.7L743.2 938.5L743.7 938.3L744.3 938.2L744.8 938.1L745.4 938.0L745.9 937.8L746.5 937.6L747.0 937.5L747.6 937.4L748.2 937.2L748.8 937.1L749.4 936.9L750.1 936.8L750.6 936.6L751.1 936.5L751.7 936.4L752.2 936.2L752.8 936.0L753.3 936.0L753.9 935.7L754.5 935.6L755.1 935.5L755.7 935.3L756.3 935.1L756.9 935.0L757.5 934.8L758.2 934.7L758.8 934.6L759.4 934.4L760.1 934.3L760.6 934.1L761.2 934.0L761.8 933.9L762.3 933.7L762.9 933.6L763.5 933.5L764.1 933.3L764.7 933.2L765.3 933.1L765.9 933.0L766.5 932.8L767.1 932.7L767.7 932.7L768.3 932.5L769.0 932.4L769.6 932.3L770.2 932.1L770.8 932.1L771.4 932.0L772.0 931.9L772.6 931.7L773.2 931.6L773.8 931.5L774.4 931.5L775.0 931.4L775.6 931.2L776.2 931.1L776.8 931.1L777.4 930.9L778.0 930.8L778.6 930.8L779.1 930.7L779.7 930.6L780.3 930.5L780.9 930.5L781.5 930.4L782.1 930.3L782.7 930.3L783.3 930.2L783.9 930.0L784.5 929.9L785.1 929.8L785.7 929.7L786.3 929.7L786.9 929.6L787.5 929.5L788.1 929.3L788.7 929.3L789.3 929.2L789.9 929.1L790.5 929.0L791.1 929.0L791.6 928.8L792.2 928.8L792.8 928.7L793.4 928.6L794.0 928.5L794.6 928.4L795.2 928.3L795.8 928.2L796.4 928.2L797.0 928.0L797.6 928.0L798.2 927.9L798.8 927.7L799.4 927.7L800.0 927.6L800.6 927.5L801.2 927.5L801.8 927.3L802.4 927.2L803.0 927.2L803.6 927.1L804.2 927.0L804.8 926.9L805.4 926.8L806.0 926.7L806.6 926.6L807.2 926.5L807.7 926.4L808.3 926.4L808.9 926.3L809.5 926.2L810.1 926.1L810.7 926.0L811.3 926.0L811.8 925.8L812.4 925.8L813.0 925.7L813.5 925.6L814.1 925.5L814.6 925.4L815.2 925.4L815.8 925.3L816.3 925.3L816.9 925.1L817.5 925.1L818.0 925.0L818.6 924.9L819.2 924.8L819.8 924.7L820.4 924.6L821.0 924.5L821.6 924.5L822.2 924.3L822.7 924.3L823.3 924.3L823.9 924.1L824.4 924.0L825.0 923.9L825.6 923.8L826.2 923.7L826.8 923.6L827.3 923.5L827.9 923.4L828.5 923.3L829.1 923.3L829.7 923.2L830.3 923.0L830.9 922.9L831.5 922.8L832.1 922.8L832.7 922.6L833.3 922.5L833.9 922.4L834.5 922.3L835.1 922.3L835.7 922.2L836.3 922.1L836.9 922.0L837.5 921.9L838.1 921.8L838.7 921.8L839.2 921.8L839.8 921.7L840.4 921.5L841.0 921.6L841.6 921.4L842.2 921.4L842.8 921.3L843.4 921.2L843.9 921.1L844.5 921.2L845.1 921.1L845.7 920.9L846.3 920.9L846.9 920.8L847.5 920.9L848.1 920.7L848.6 920.7L849.2 920.6L849.8 920.5L850.4 920.4L851.0 920.4L851.6 920.3L852.2 920.3L852.8 920.2L853.4 920.1L854.0 920.0L854.7 919.9L855.3 919.9L855.9 919.8L856.5 919.8L857.1 919.7L857.8 919.6L858.4 919.5L859.0 919.4L859.6 919.3L860.1 919.2L860.7 919.2L861.3 919.1L861.8 919.1L862.4 919.0L862.9 918.9L863.4 918.8L863.9 918.9L864.4 918.7L865.1 918.6L865.9 918.6L866.6 918.5L867.3 918.4L868.0 918.3L868.6 918.3L869.2 918.2L869.8 918.2L870.4 918.0L870.9 918.0L871.4 918.0L871.8 917.9L872.2 917.9L872.6 917.9L872.9 917.8L873.9 916.6L874.2 916.5L874.5 916.5L874.9 916.3L875.3 916.2L875.9 916.1L876.6 915.9L877.4 915.7L878.5 915.5L878.9 915.6L879.3 915.4L879.8 915.4L880.3 915.3L880.8 915.2L881.4 915.1L881.9 915.0L882.5 915.0L883.1 914.9L883.7 914.7L884.3 914.8L885.0 914.6L885.6 914.6L886.2 914.5L886.9 914.3L887.5 914.3L888.2 914.3L888.9 914.1L889.5 914.0L890.1 913.9L890.8 913.8L891.4 913.8L892.0 913.8L892.6 913.6L893.2 913.6L893.8 913.5L894.4 913.3L895.0 913.3L895.5 913.2L896.1 913.1L896.7 913.0L897.3 912.9L897.9 912.9L898.5 912.8L899.1 912.6L899.7 912.6L900.2 912.5L900.8 912.4L901.4 912.3L902.0 912.2L902.6 912.1L903.2 912.1L903.8 912.0L904.4 911.9L904.9 911.8L905.5 911.7L906.1 911.6L906.7 911.6L907.3 911.5L907.9 911.3L908.5 911.3L909.1 911.2L909.7 911.0L910.3 911.0L910.9 910.9L911.5 910.9L912.1 910.7L912.7 910.6L913.3 910.6L913.9 910.5L914.5 910.4L915.1 910.4L915.7 910.2L916.2 910.2L916.8 910.1L917.4 909.9L918.0 909.9L918.5 909.9L919.1 909.8L919.6 909.7L920.2 909.7L920.7 909.5L921.4 909.5L922.0 909.5L922.7 909.3L923.4 909.3L924.1 909.1L924.8 909.1L925.4 909.0L926.1 908.9L926.7 908.8L927.4 908.6L928.0 908.7L928.6 908.6L929.2 908.5L929.7 908.5L930.2 908.4L930.7 908.3L931.2 908.3L931.6 908.2L932.0 908.2L933.0 908.0L933.5 908.0L933.7 907.9L934.0 908.0L934.8 907.8L935.2 907.8L935.6 907.8L936.1 907.6L936.6 907.5L937.2 907.3L937.8 907.2L938.3 907.1L938.9 907.0L939.6 906.9L940.2 906.7L940.8 906.6L941.4 906.6L942.0 906.4L942.6 906.3L943.2 906.3L943.8 906.2L944.3 906.1L944.9 906.1L945.5 906.0L946.1 905.9L946.6 906.0L947.2 905.9L947.8 905.8L948.4 905.9L948.9 905.8L949.5 905.8L950.1 905.8L950.6 905.7L951.2 905.6L951.7 905.7L952.3 905.7L952.9 905.7L953.5 905.7L954.1 905.7L954.6 905.7L955.2 905.7L955.8 905.7L956.3 905.6L956.9 905.7L957.5 905.8L958.1 905.8L958.7 905.7L959.3 905.7L959.8 905.8L960.4 905.8L960.9 905.8L961.5 905.9L962.0 905.8L962.6 905.9L963.1 905.8L963.7 905.9L964.3 905.9L964.8 905.9L965.4 905.9L966.0 906.0L966.6 905.8L967.3 905.8L967.9 905.8L968.4 905.8L969.0 905.8L969.6 905.8L970.1 905.7L970.7 905.7L971.3 905.5L971.9 905.6L972.5 905.4L973.1 905.4L973.7 905.4L974.4 905.3L975.0 905.3L975.6 905.2L976.2 905.2L976.8 905.2L977.4 905.2L977.9 905.0L978.5 905.0L979.1 905.0L979.7 904.9L980.3 904.8L980.8 904.8L981.4 904.8L982.0 904.6L982.6 904.6L983.1 904.5L983.7 904.5L984.3 904.4L984.8 904.3L985.4 904.3L985.9 904.2L986.5 904.2L987.1 904.1L987.6 904.0L988.2 904.0L988.8 903.9L989.4 903.9L990.0 903.8L990.6 903.8L991.2 903.7L991.8 903.7L992.4 903.6L993.0 903.6L993.6 903.5L994.2 903.5L994.8 903.5L995.4 903.4L996.0 903.4L996.6 903.2L997.2 903.2L997.8 903.1L998.4 903.2L998.9 903.0L999.5 903.0L1000.1 903.0L1000.6 902.9L1001.2 902.9L1001.8 902.8L1002.4 902.7L1002.9 902.7L1003.5 902.7L1004.1 902.5L1004.7 902.6L1005.2 902.5L1005.8 902.5L1006.4 902.4L1006.9 902.4L1007.5 902.3L1008.1 902.3L1008.6 902.2L1009.2 902.2L1009.8 902.1L1010.4 902.0L1011.0 902.1L1011.6 902.0L1012.1 901.9L1012.7 901.8L1013.3 901.7L1013.9 901.7L1014.4 901.7L1015.0 901.6L1015.5 901.6L1016.1 901.5L1016.6 901.5L1017.1 901.4L1017.8 901.3L1018.4 901.3L1019.0 901.1L1019.6 901.1L1020.2 901.0L1020.8 900.9L1021.4 900.9L1021.9 900.8L1022.5 900.6L1023.1 900.6L1023.6 900.5L1024.2 900.4L1024.8 900.4L1025.4 900.3L1026.0 900.3L1026.6 900.3L1027.1 900.2L1027.7 900.1L1028.3 900.1L1028.9 900.0L1029.5 900.1L1030.1 899.9L1030.7 900.0L1031.3 899.8L1031.9 899.9L1032.5 899.9L1033.0 899.7L1033.6 899.7L1034.2 899.8L1034.7 899.7L1035.3 899.7L1035.9 899.8L1036.4 899.7L1037.0 899.6L1037.6 899.7L1038.2 899.6L1038.8 899.7L1039.4 899.6L1040.0 899.6L1040.6 899.6L1041.2 899.6L1041.8 899.5L1042.4 899.4L1042.9 899.5L1043.5 899.5L1044.1 899.4L1044.7 899.4L1045.3 899.4L1045.9 899.3L1046.6 899.2L1047.2 899.2L1047.8 899.3L1048.4 899.2L1049.0 899.2L1049.6 899.0L1050.2 899.1L1050.8 899.1L1051.4 899.1L1051.9 899.0L1052.5 899.0L1053.1 899.0L1053.6 899.0L1054.2 898.9L1054.7 899.0L1055.3 898.9L1055.9 898.9L1056.4 898.9L1057.0 898.9L1057.6 898.9L1058.1 898.8L1058.7 898.9L1059.3 898.9L1059.8 898.8L1060.4 898.9L1061.0 898.9L1061.5 898.8L1062.1 898.8L1062.7 898.9L1063.2 898.9L1063.8 898.8L1064.4 898.7L1065.0 898.9L1065.5 898.9L1066.1 898.8L1066.7 898.8L1067.3 898.9L1067.8 898.8L1068.4 898.8L1069.0 898.8L1069.5 898.8L1070.1 898.8L1070.7 898.8L1071.3 898.9L1071.9 898.8L1072.6 898.9L1073.2 898.8L1073.9 898.9L1074.5 898.9L1075.2 898.9L1075.8 898.8L1076.4 898.9L1077.0 898.9L1077.6 898.8L1078.1 898.8L1078.6 898.9L1079.0 898.8L1079.4 898.9L1079.7 898.9L1081.5 899.1L1083.2 900.3L1084.8 901.3L1086.2 894.8L1087.7 892.6L1088.8 892.8L1090.2 897.3L1091.6 899.8L1092.6 896.6L1094.0 896.1L1095.5 896.3L1096.5 901.3L1097.5 898.1L1099.0 898.1L1100.3 905.0L1101.5 899.3L1102.5 903.6L1103.5 907.4L1104.5 903.1L1106.0 905.6L1107.5 908.6L1109.0 907.6L1110.5 910.6L1112.0 911.6L1113.5 913.1L1115.5 913.8L1116.5 913.7L1116.8 913.9L1117.1 914.2L1117.7 914.2L1118.6 914.3L1119.0 914.3L1119.5 914.2L1120.0 914.4L1120.5 913.9L1121.1 914.0L1121.7 913.8L1122.4 913.9L1123.0 913.9L1123.7 913.4L1124.3 913.5L1125.0 913.4L1125.6 913.3L1126.1 913.2L1126.7 912.9L1127.2 913.1L1127.8 913.0L1128.3 912.8L1128.8 912.7L1129.4 912.7L1130.0 912.5L1130.5 912.5L1131.1 912.3L1131.7 912.1L1132.3 912.2L1132.9 912.1L1133.5 912.1L1134.0 911.9L1134.6 911.9L1135.2 911.9L1135.8 911.8L1136.3 911.9L1136.9 911.9L1137.5 911.6L1138.1 911.4L1138.8 911.6L1139.4 911.6L1140.0 911.5L1140.5 911.5L1141.1 911.3L1141.7 911.2L1142.3 911.3L1142.8 911.1L1143.4 911.0L1144.0 911.0L1144.6 911.2L1145.2 911.1L1145.7 910.8L1146.3 910.8L1146.8 910.8L1147.4 910.7L1147.9 910.8L1148.5 910.7L1149.0 910.5L1149.6 910.7L1150.1 910.4L1150.7 910.4L1151.3 910.3L1151.9 910.2L1152.5 910.2L1153.1 910.0L1153.7 909.7L1154.3 909.6L1154.9 909.6L1155.5 909.5L1156.1 909.5L1156.7 909.4L1157.3 909.3L1157.9 909.1L1158.5 909.0L1159.1 908.9L1159.7 908.6L1160.3 908.7L1161.0 908.6L1161.6 908.5L1162.2 908.4L1162.8 908.3L1163.4 908.2L1164.0 908.1L1164.6 908.0L1165.2 907.9L1165.8 907.8L1166.3 907.8L1166.9 907.5L1167.5 907.4L1168.1 907.2L1168.6 907.1L1169.1 907.2L1169.7 907.1L1170.2 906.9L1170.7 906.8L1171.3 906.8L1171.9 906.6L1172.5 906.6L1173.0 906.3L1173.5 906.3L1174.1 906.3L1174.6 906.3L1175.2 906.1L1175.8 906.0L1176.4 905.9L1176.9 905.8L1177.5 905.8L1178.1 905.9L1178.7 905.6L1179.3 905.6L1179.8 905.7L1180.4 905.6L1181.0 905.5L1181.6 905.3L1182.2 905.3L1182.8 905.3L1183.4 905.2L1184.0 905.2L1184.6 905.0L1185.2 904.9L1185.8 904.8L1186.4 904.8L1187.0 904.8L1187.6 904.5L1188.2 904.5L1188.8 904.5L1189.4 904.3L1190.0 904.3L1190.6 904.3L1191.2 904.3L1191.8 904.1L1192.4 904.0L1193.0 903.8L1193.6 904.0L1194.2 903.8L1194.8 903.7L1195.4 903.5L1196.0 903.5L1196.6 903.4L1197.2 903.4L1197.8 903.3L1198.4 903.2L1199.0 903.1L1199.6 902.9L1200.2 903.0L1200.8 902.7L1201.4 902.5L1202.0 902.6L1202.6 902.5L1203.2 902.4L1203.8 902.3L1204.4 902.3L1205.0 902.1L1205.6 902.2L1206.2 902.2L1206.8 902.1L1207.4 902.0L1208.0 901.9L1208.6 901.9L1209.2 901.8L1209.8 901.8L1210.4 901.7L1211.0 901.5L1211.6 901.6L1212.2 901.5L1212.7 901.6L1213.3 901.4L1213.9 901.4L1214.4 901.6L1215.0 901.2L1215.5 901.2L1216.1 901.1L1216.7 901.0L1217.2 901.0L1217.8 901.2L1218.4 901.0L1218.9 900.9L1219.5 900.9L1220.1 901.0L1220.7 900.8L1221.3 900.8L1221.9 900.8L1222.5 900.9L1223.1 900.9L1223.7 900.8L1224.3 900.6L1224.9 900.6L1225.5 900.7L1226.1 900.6L1226.7 900.4L1227.3 900.5L1227.9 900.4L1228.5 900.4L1229.0 900.3L1229.6 900.2L1230.2 900.2L1230.8 900.1L1231.3 900.3L1231.9 900.2L1232.5 900.0L1233.1 900.2L1233.8 900.2L1234.4 899.9L1235.1 900.2L1235.6 900.1L1236.1 900.1L1236.7 899.8L1237.2 900.0L1237.8 899.9L1238.3 899.9L1238.9 899.8L1239.5 899.9L1240.1 899.6L1240.7 899.6L1241.3 899.6L1241.9 899.6L1242.5 899.6L1243.0 899.6L1243.6 899.6L1244.2 899.5L1244.8 899.4L1245.4 899.4L1246.0 899.5L1246.6 899.5L1247.1 899.4L1247.7 899.3L1248.3 899.5L1248.9 899.3L1249.5 899.4L1250.1 899.4L1250.6 899.2L1251.2 899.3L1251.8 899.1L1252.4 899.3L1253.0 899.2L1253.6 899.0L1254.2 899.2L1254.7 899.0L1255.3 899.2L1255.9 899.0L1256.5 899.0L1257.1 899.0L1257.6 898.9L1258.2 899.0L1258.8 898.9L1259.4 899.0L1259.9 898.9L1260.5 898.9L1261.1 898.6L1261.7 898.9L1262.3 898.8L1262.8 898.6L1263.4 898.7L1264.0 898.7L1264.6 898.8L1265.1 898.6L1265.7 898.8L1266.3 898.6L1266.9 898.8L1267.5 898.6L1268.0 898.6L1268.6 898.5L1269.2 898.5L1269.8 898.6L1270.4 898.6L1271.0 898.7L1271.5 898.6L1272.1 898.5L1272.7 898.4L1273.3 898.4L1273.9 898.4L1274.5 898.4L1275.1 898.5L1275.6 898.5L1276.2 898.5L1276.8 898.5L1277.4 898.5L1278.0 898.5L1278.5 898.5L1279.1 898.5L1279.7 898.4L1280.3 898.3L1280.9 898.6L1281.4 898.5L1282.0 898.6L1282.6 898.3L1283.2 898.5L1283.7 898.5L1284.3 898.4L1284.9 898.5L1285.5 898.6L1286.0 898.6L1286.6 898.7L1287.2 898.4L1287.8 898.4L1288.4 898.6L1289.0 898.6L1289.6 898.6L1290.2 898.4L1290.8 898.6L1291.4 898.6L1292.0 898.6L1292.6 898.6L1293.2 898.6L1293.8 898.7L1294.4 898.6L1295.0 898.5L1295.5 898.7L1296.1 898.7L1296.6 898.7L1297.1 898.8L1297.6 898.6L1298.3 898.7L1299.0 898.7L1299.6 898.8L1300.2 898.9L1300.8 898.8L1301.3 899.0L1301.9 899.0L1302.4 899.0L1302.9 899.0L1303.5 899.1L1304.0 899.0L1304.6 899.0L1305.2 899.0L1305.8 899.2L1306.3 899.3L1306.9 899.2L1307.5 899.2L1308.0 899.2L1308.6 899.3L1309.2 899.2L1309.8 899.4L1310.3 899.3L1310.9 899.3L1311.5 899.3L1312.1 899.4L1312.7 899.5L1313.2 899.6L1313.8 899.4L1314.4 899.6L1315.0 899.7L1315.6 899.6L1316.2 899.5L1316.7 899.6L1317.3 899.6L1317.9 899.8L1318.5 899.7L1319.1 899.6L1319.7 899.8L1320.3 899.7L1320.8 899.9L1321.4 899.7L1322.0 899.8L1322.6 899.8L1323.2 899.8L1323.8 900.0L1324.3 900.0L1324.9 900.0L1325.5 900.0L1326.1 899.8L1326.7 899.9L1327.2 899.9L1327.8 899.9L1328.4 900.0L1329.0 899.9L1329.5 899.9L1330.1 899.9L1330.7 899.8L1331.2 900.1L1331.8 900.1L1332.4 900.0L1333.0 899.9L1333.6 899.8L1334.2 900.0L1334.9 900.1L1335.5 900.0L1336.1 900.1L1336.7 900.1L1337.3 900.1L1337.9 899.9L1338.4 900.0L1338.9 900.0L1339.4 899.8L1340.2 899.9L1340.8 899.7L1341.4 899.8L1341.8 899.9L1342.3 899.7L1342.9 899.6L1343.5 899.8L1344.1 899.7L1344.7 899.8L1345.3 899.5L1345.8 899.6L1346.3 899.7L1346.6 899.7L1348.0 898.3L1349.0 900.3L1350.0 898.1L1351.0 900.6L1352.0 897.8L1353.0 900.8L1354.0 897.6L1355.0 901.1L1356.0 897.1L1357.0 901.3L1358.0 896.8L1359.0 901.6L1360.0 897.1L1361.0 901.1L1362.0 897.6L1363.5 905.8L1365.2 889.8L1366.5 908.6L1367.9 923.8L1368.2 862.8L1369.5 893.6L1370.5 918.6L1372.1 822.8L1372.8 822.8L1373.4 960.8L1374.5 918.6L1375.0 960.8L1376.1 960.8L1377.5 881.6L1378.5 931.1L1379.5 886.1L1381.3 938.3L1382.7 871.1L1383.7 871.1L1385.0 918.6L1386.5 943.1L1387.5 881.1L1388.7 943.1L1389.7 879.3L1390.5 918.6L1391.2 937.3L1391.6 879.3L1393.0 900.8L1393.6 918.8L1394.5 908.6L1395.5 918.8L1396.8 913.6L1397.6 918.8L1398.6 916.1L1399.6 918.8L1401.5 916.1L1402.4 936.8L1403.0 936.8L1404.5 918.6L1407.5 910.8L1408.6 910.8L1409.6 953.1L1411.0 931.1L1413.0 953.1L1414.0 932.3L1416.0 943.8L1418.0 932.6L1420.0 938.6L1422.0 934.1L1424.9 938.8L1427.0 935.6L1430.0 936.6L1433.8 935.6L1436.0 937.6L1438.2 936.1L1439.5 935.6L1439.7 935.0L1440.0 933.9L1440.9 933.0L1441.3 932.7L1441.8 932.4L1442.3 932.2L1442.9 932.1L1443.5 931.9L1444.2 931.8L1444.9 931.7L1445.6 931.5L1446.2 931.1L1446.9 930.7L1447.5 930.4L1448.1 930.5L1448.7 930.6L1449.3 930.5L1449.9 930.2L1450.5 929.9L1451.1 929.5L1451.7 929.1L1452.3 928.9L1452.9 928.7L1453.5 928.6L1454.1 928.4L1454.7 928.2L1455.3 928.0L1455.9 927.7L1456.6 927.4L1457.2 927.2L1457.8 927.0L1458.4 926.9L1459.0 926.8L1459.5 926.6L1460.1 926.4L1460.6 926.2L1461.3 926.0L1461.9 925.8L1462.5 925.6L1463.1 925.4L1463.6 925.3L1464.1 925.3L1464.6 925.3L1465.0 925.4L1465.7 925.4L1466.3 925.5L1466.8 925.4L1467.2 925.3L1467.7 925.0L1468.0 924.7L1468.5 924.4L1468.9 924.1L1469.4 923.8L1469.9 923.5L1470.5 923.0L1471.0 922.4L1471.5 922.0L1472.0 921.7L1472.6 921.4L1473.2 921.2L1473.8 920.9L1474.3 920.6L1474.8 920.4L1475.3 920.2L1475.8 920.1L1476.3 920.0L1476.9 919.7L1477.5 919.2L1478.2 918.8L1478.7 918.6L1479.3 918.5L1479.8 918.4L1480.4 918.4L1481.0 918.4L1481.6 918.3L1482.2 917.9L1482.9 917.7L1483.5 917.5L1484.1 917.5L1484.7 917.4L1485.3 917.4L1485.9 917.3L1486.5 917.2L1487.1 917.0L1487.7 916.9L1488.3 916.7L1488.9 916.5L1489.5 916.3L1490.1 916.1L1490.7 916.0L1491.3 916.1L1491.8 916.2L1492.4 916.0L1492.9 915.7L1493.4 915.4L1493.9 915.1L1494.5 915.0L1495.0 915.0L1495.5 915.1L1496.1 915.0L1496.7 914.7L1497.3 914.5L1497.9 914.4L1498.4 914.5L1499.0 914.3L1499.5 913.8L1500.1 913.6L1500.7 913.7L1501.3 913.9L1501.9 913.8L1502.6 913.6L1503.2 913.5L1503.8 913.3L1504.4 913.0L1505.0 912.9L1505.5 912.9L1506.1 913.0L1506.6 912.9L1507.2 912.7L1507.8 912.4L1508.4 912.5L1508.9 912.5L1509.4 912.5L1510.0 912.3L1510.5 912.2L1511.0 912.1L1511.5 912.0L1512.1 911.8L1512.6 911.6L1513.2 911.4L1513.8 911.3L1514.3 911.2L1514.9 911.2L1515.5 911.1L1516.1 911.2L1516.7 911.3L1517.3 911.5L1517.9 911.6L1518.5 911.5L1519.1 911.3L1519.7 911.3L1520.3 911.5L1520.9 911.5L1521.5 911.4L1522.1 911.2L1522.7 911.1L1523.2 911.1L1523.8 911.0L1524.4 910.9L1525.0 910.7L1525.6 910.3L1526.2 910.0L1526.7 909.9L1527.3 909.9L1527.9 909.8L1528.5 909.5L1529.1 909.3L1529.7 909.3L1530.3 909.2L1530.9 909.1L1531.5 909.0L1532.1 908.9L1532.6 908.8L1533.2 908.8L1533.8 908.8L1534.4 908.8L1535.0 908.7L1535.6 908.4L1536.2 908.1L1536.8 908.0L1537.4 908.0L1538.0 908.1L1538.5 907.9L1539.1 907.8L1539.7 907.8L1540.3 908.0L1540.9 908.0L1541.5 907.9L1542.0 907.7L1542.6 907.4L1543.2 907.5L1543.8 907.7L1544.4 907.9L1545.0 907.9L1545.6 907.7L1546.2 907.6L1546.8 907.5L1547.3 907.6L1547.9 907.7L1548.5 907.7L1549.1 907.4L1549.7 907.2L1550.3 907.3L1550.9 907.6L1551.5 907.7L1552.1 907.7L1552.7 907.7L1553.3 907.7L1553.9 907.8L1554.6 908.0L1555.2 908.2L1555.8 908.5L1556.4 908.7L1557.0 908.8L1557.6 908.8L1558.1 908.9L1558.7 909.0L1559.2 908.8L1559.9 908.7L1560.6 908.6L1561.2 908.7L1561.9 908.9L1562.5 909.2L1563.0 909.5L1563.6 909.5L1564.1 909.3L1564.6 909.2L1565.3 909.5L1565.8 909.7L1566.3 909.9L1566.8 910.2L1567.3 910.4L1567.9 911.1L1568.4 911.7L1568.9 912.0L1569.4 912.0L1569.9 912.0L1570.5 912.1L1571.1 912.2L1571.8 912.2L1572.5 912.3L1573.0 912.6L1573.5 913.1L1574.0 913.5L1574.6 913.6L1575.2 913.5L1575.8 913.6L1576.4 913.7L1577.0 914.0L1577.6 914.2L1578.2 914.7L1578.8 915.1L1579.4 915.4L1580.0 915.4L1580.6 915.4L1581.2 915.3L1581.7 915.5L1582.3 915.8L1582.9 916.4L1583.5 916.7L1584.0 916.6L1584.6 916.7L1585.2 917.1L1585.8 917.6L1586.3 917.5L1586.9 917.2L1587.5 917.0L1588.1 917.2L1588.7 917.7L1589.3 917.8L1589.9 917.5L1590.5 917.0L1591.1 916.7L1591.7 916.6L1592.3 916.7L1592.9 916.7L1593.4 916.5L1594.0 916.2L1594.5 916.1L1595.0 916.1L1595.6 916.2L1596.2 916.2L1596.6 916.0L1597.0 915.8L1597.5 915.7L1598.0 915.6L1598.5 915.5L1599.2 915.6L1600.0 915.4L1600.4 915.1L1600.9 914.7L1601.5 914.6L1602.0 914.7L1602.6 914.7L1603.2 914.3L1603.8 914.1L1604.4 914.0L1605.1 914.1L1605.7 914.1L1606.4 914.1L1607.1 914.2L1607.7 914.5L1608.4 914.7L1609.0 914.5L1609.6 914.1L1610.2 913.8L1610.8 913.7L1611.3 913.9L1612.0 914.2L1612.6 914.6L1613.3 914.7L1613.9 914.8L1614.5 914.8L1615.1 915.1L1615.7 915.2L1616.3 915.1L1616.9 914.8L1617.5 914.7L1618.0 915.0L1618.5 915.3L1619.0 915.4L1619.5 915.4L1620.0 915.7L1620.7 916.0L1621.3 916.2L1621.8 916.2L1622.3 916.0L1622.8 915.7L1623.3 915.6L1623.8 915.4L1624.4 915.5L1625.0 915.7L1625.5 915.8L1626.0 916.0L1626.5 916.2L1627.0 916.4L1627.6 916.5L1628.2 916.4L1628.7 916.3L1629.3 916.3L1629.9 916.5L1630.5 917.0L1631.2 917.6L1631.8 917.9L1632.5 918.0L1633.0 917.7L1633.6 917.3L1634.2 917.2L1634.8 917.2L1635.4 917.4L1636.0 917.5L1636.7 917.6L1637.3 917.5L1638.0 917.3L1638.6 917.0L1639.2 917.1L1639.8 917.3L1640.4 917.5L1641.0 917.6L1641.5 917.4L1642.0 917.1L1642.5 916.7L1643.3 916.7L1644.0 916.8L1644.7 917.2L1645.3 917.4L1645.8 917.4L1646.3 917.4L1646.7 917.8L1647.2 918.4L1647.6 918.6L1648.2 918.9L1648.5 918.9L1648.8 919.0L1649.2 919.4L1650.0 919.8L1650.4 920.1L1650.9 920.7L1651.4 921.2L1652.0 921.5L1652.6 921.4L1653.2 921.3L1653.9 921.3L1654.5 921.6L1655.2 921.8L1655.8 921.8L1656.5 921.6L1657.0 921.6L1657.6 921.6L1658.2 921.5L1658.8 921.3L1659.4 921.5L1660.0 921.6L1660.5 922.1L1661.1 922.4L1661.6 922.4L1662.1 922.3L1662.7 922.4L1663.2 922.5L1663.8 922.7L1664.4 923.1L1665.0 923.5L1665.6 923.8L1666.3 923.8L1666.9 923.8L1667.5 923.7L1668.1 923.8L1668.7 924.0L1669.2 924.1L1669.6 924.2L1670.0 924.2L1670.5 924.9L1670.5 926.0L1671.3 926.9L1671.7 927.2L1672.1 927.3L1672.6 927.4L1673.1 927.3L1673.6 927.1L1674.2 927.3L1674.9 927.7L1675.5 927.8L1676.2 927.9L1676.8 927.5L1677.5 927.1L1678.1 927.1L1678.8 927.2L1679.4 927.3L1680.0 927.1L1680.6 927.0L1681.2 927.1L1681.8 927.2L1682.4 927.0L1683.1 926.9L1683.7 926.9L1684.3 927.1L1684.9 927.2L1685.5 927.1L1686.1 926.9L1686.7 926.7L1687.3 926.6L1687.8 926.3L1688.3 926.2L1688.8 926.2L1689.5 926.4L1690.2 926.7L1690.8 927.0L1691.4 927.1L1692.0 927.3L1692.5 927.4L1692.9 927.5L1693.4 927.2L1693.8 927.1L1694.5 927.5L1695.0 928.3L1695.5 929.0L1695.9 929.7L1696.3 930.4L1696.7 931.4L1696.9 931.9L1697.6 932.5L1698.0 932.5L1698.5 932.7L1699.0 933.0L1699.6 933.2L1700.2 933.4L1700.8 933.8L1701.4 934.2L1702.0 934.4L1702.6 934.5L1703.1 934.3L1703.7 934.1L1704.2 933.7L1704.8 933.3L1705.3 932.8L1705.8 932.5L1706.4 932.3L1707.0 932.0L1707.6 931.7L1708.1 931.8L1708.7 932.3L1709.3 933.1L1709.9 933.6L1710.5 934.0L1711.1 934.4L1711.7 934.9L1712.2 935.3L1712.8 935.6L1713.3 935.9L1713.8 936.2L1714.5 936.2L1715.1 935.7L1715.7 935.1L1716.3 934.6L1716.8 934.1L1717.2 933.8L1717.6 933.5L1718.3 933.5L1718.7 933.7L1719.0 934.1L1719.5 934.7L1720.1 935.8L1720.7 935.4L1721.3 935.7L1721.9 935.7L1722.5 936.2L1722.9 931.8L1723.1 935.6L1723.7 936.0L1724.3 935.8L1724.9 936.2L1725.5 935.9L1726.1 941.9L1726.7 935.9L1727.3 941.9L1727.9 936.0L1728.5 941.9L1729.1 935.9L1729.7 941.8L1730.3 936.0L1730.9 941.8L1731.5 935.8L1732.1 944.2L1732.7 935.8L1733.3 944.2L1733.8 933.6L1733.9 935.6L1734.5 944.2L1735.1 935.7L1735.7 947.5L1736.3 935.5L1736.9 947.5L1737.5 935.5L1738.1 947.6L1738.7 935.6L1739.3 947.5L1739.9 935.4L1740.5 947.6L1741.1 935.4L1741.7 947.4L1742.3 935.4L1742.9 950.7L1743.5 935.5L1744.1 950.7L1744.7 935.4L1745.3 945.6L1745.9 935.4L1746.5 945.6L1747.1 935.3L1747.7 945.7L1748.3 935.2L1748.9 945.5L1749.5 934.9L1750.1 945.7L1750.7 934.7L1751.3 945.6L1751.9 934.2L1752.5 945.7L1753.1 934.0L1753.7 945.7L1754.3 933.8L1754.5 932.3L1754.9 945.5L1755.5 933.5L1756.1 957.5L1756.7 933.4L1757.3 954.3L1757.9 933.2L1758.5 954.1L1759.1 933.1L1759.7 954.2L1760.3 933.2" fill="none" stroke="#CAC6A5" stroke-width="7.5" stroke-linejoin="round" stroke-linecap="round"/><path d="M516.9 989.8L517.2 989.8L517.7 989.7L518.2 989.5L518.7 989.3L519.3 989.1L520.0 988.9L520.6 988.6L521.3 988.2L522.0 988.2L522.6 987.9L523.2 987.7L523.8 987.3L524.4 987.0L525.0 986.8L525.6 986.6L526.2 986.4L526.7 986.1L527.3 985.9L527.9 985.6L528.4 985.4L529.0 985.1L529.5 984.8L530.0 984.7L530.6 984.3L531.2 984.1L531.8 983.6L532.3 983.3L532.9 983.0L533.4 982.7L534.0 982.5L534.5 982.1L535.0 981.8L535.6 981.4L536.1 981.1L536.7 980.8L537.2 980.3L537.8 980.0L538.3 979.7L538.9 979.2L539.4 979.0L539.9 978.8L540.5 978.2L541.0 978.0L541.6 977.7L542.1 977.3L542.7 977.1L543.2 976.8L543.8 976.4L544.3 976.3L544.8 976.0L545.4 975.8L545.9 975.6L546.5 975.3L547.0 975.0L547.6 974.7L548.2 974.6L548.8 974.3L549.3 974.1L549.9 973.8L550.4 973.7L551.0 973.5L551.6 973.5L552.2 973.1L552.8 972.9L553.4 972.9L553.9 972.8L554.5 972.6L555.0 972.3L555.6 972.1L556.2 972.1L556.8 971.8L557.3 971.6L557.9 971.6L558.4 971.4L559.0 971.2L559.5 971.0L560.0 970.9L560.6 970.8L561.1 970.5L561.7 970.3L562.2 970.2L562.7 969.8L563.3 969.8L563.8 969.6L564.4 969.3L564.9 968.9L565.5 968.8L566.0 968.7L566.6 968.2L567.2 968.1L567.8 968.0L568.3 967.5L568.9 967.5L569.4 967.1L570.0 966.8L570.5 966.5L571.1 966.2L571.6 965.9L572.2 965.7L572.7 965.2L573.3 964.9L573.8 964.7L574.4 964.3L574.9 963.9L575.5 963.7L576.0 963.4L576.6 962.9L577.1 962.4L577.7 962.2L578.2 961.8L578.7 961.4L579.3 961.1L579.8 960.5L580.3 960.2L580.8 959.6L581.4 959.2L581.9 958.9L582.5 958.4L583.0 958.0L583.5 957.6L584.0 957.2L584.5 956.8L585.0 956.4L585.5 955.9L586.1 955.4L586.8 954.9L587.5 954.3L588.0 954.0L588.5 953.6L589.0 953.3L589.6 952.7L590.2 952.2L590.8 951.7L591.4 951.3L592.0 950.9L592.6 950.3L593.2 949.9L593.9 949.5L594.5 948.7L595.1 948.3L595.7 947.9L596.3 947.5L596.9 947.0L597.5 946.5L598.0 946.1L598.6 945.7L599.2 945.2L599.8 944.9L600.4 944.3L600.9 943.8L601.5 943.4L602.1 942.9L602.7 942.5L603.3 941.9L603.8 941.5L604.4 941.1L605.0 940.5L605.6 940.0L606.2 939.6L606.8 939.0L607.4 938.5L608.0 937.7L608.6 937.3L609.2 936.7L609.8 936.2L610.4 935.7L611.0 934.9L611.5 934.6L612.1 933.9L612.7 933.5L613.3 932.8L613.8 932.5L614.4 932.0L615.0 931.4L615.6 930.9L616.2 930.4L616.7 929.9L617.3 929.4L617.8 929.1L618.4 928.6L618.9 928.0L619.5 927.7L620.1 927.0L620.7 926.7L621.3 926.2L621.8 925.8L622.4 925.5L623.0 925.0L623.5 924.7L624.1 924.1L624.7 923.8L625.3 923.5L625.8 923.0L626.4 922.7L627.0 922.3L627.6 922.1L628.2 921.7L628.9 921.4L629.5 920.8L630.1 920.6L630.7 920.2L631.2 920.0L631.8 919.7L632.4 919.3L633.0 919.1L633.5 918.8L634.1 918.4L634.7 918.0L635.3 918.0L635.9 917.6L636.5 917.2L637.1 917.0L637.7 916.7L638.3 916.5L638.9 916.1L639.5 915.9L640.1 915.7L640.7 915.4L641.3 914.9L641.9 914.6L642.5 914.4L643.0 914.1L643.6 913.8L644.2 913.6L644.8 913.1L645.4 912.7L646.0 912.5L646.6 912.1L647.2 912.0L647.7 911.7L648.3 911.4L648.9 911.1L649.5 910.9L650.1 910.6L650.7 910.4L651.3 910.0L651.9 909.8L652.5 909.6L653.0 909.4L653.6 908.9L654.2 908.8L654.8 908.3L655.4 908.1L656.0 907.8L656.6 907.8L657.2 907.4L657.7 907.2L658.3 906.9L658.9 906.7L659.5 906.4L660.1 906.2L660.7 906.0L661.3 905.6L661.9 905.3L662.5 905.1L663.1 904.7L663.7 904.3L664.3 904.1L664.9 903.9L665.5 903.4L666.1 903.2L666.7 903.0L667.3 902.7L667.8 902.3L668.4 902.1L669.0 901.8L669.5 901.4L670.1 901.0L670.7 900.8L671.3 900.6L671.9 900.1L672.5 899.8L673.1 899.5L673.7 899.1L674.2 898.9L674.8 898.5L675.4 898.3L675.9 897.7L676.5 897.6L677.1 897.2L677.7 896.7L678.2 896.6L678.8 896.2L679.4 895.7L680.0 895.4L680.5 895.2L681.1 894.7L681.7 894.5L682.3 894.1L682.9 893.7L683.4 893.3L684.0 893.0L684.6 892.6L685.2 892.2L685.8 891.6L686.3 891.5L686.9 891.1L687.5 890.6L688.1 890.2L688.7 889.9L689.3 889.3L689.9 889.0L690.5 888.7L691.1 888.1L691.7 887.8L692.3 887.4L692.9 886.8L693.5 886.5L694.0 886.1L694.6 885.5L695.2 885.1L695.8 884.7L696.3 884.4L696.9 883.8L697.5 883.3L698.1 882.8L698.7 882.3L699.3 882.0L699.8 881.4L700.4 880.9L701.0 880.4L701.5 880.1L702.1 879.6L702.7 879.1L703.2 878.4L703.8 878.1L704.4 877.6L705.0 877.2L705.5 876.6L706.1 876.1L706.7 875.7L707.3 875.0L707.8 874.7L708.4 874.2L709.0 873.6L709.6 873.3L710.1 872.9L710.7 872.2L711.3 871.8L711.9 871.4L712.5 870.9L713.0 870.4L713.6 869.9L714.2 869.7L714.8 869.2L715.3 868.6L715.9 868.1L716.5 867.9L717.1 867.5L717.6 867.1L718.2 866.7L718.8 866.1L719.4 865.8L720.0 865.3L720.6 865.0L721.3 864.7L721.9 864.3L722.5 863.9L723.2 863.6L723.8 863.3L724.4 862.9L724.9 862.7L725.4 862.3L725.9 862.0L726.3 861.9L727.1 861.3L727.7 860.9L728.1 860.7L728.5 860.5L728.8 860.1L729.3 859.4L729.6 858.6L730.0 857.9L730.4 857.6L730.8 857.3L731.5 857.2L731.9 857.1L732.3 856.9L732.7 856.6L733.2 856.5L733.7 856.2L734.4 855.8L735.1 855.7L735.5 855.4L736.0 855.3L736.6 854.9L737.1 854.6L737.7 854.5L738.3 854.4L738.9 854.0L739.5 853.7L740.2 853.4L740.8 853.3L741.4 853.0L742.0 852.7L742.6 852.5L743.2 852.2L743.7 851.9L744.3 851.6L744.8 851.4L745.4 851.1L745.9 850.9L746.5 850.4L747.0 850.2L747.6 850.0L748.2 849.6L748.8 849.4L749.4 849.0L750.1 848.7L750.6 848.4L751.1 848.3L751.7 847.9L752.2 847.5L752.8 847.3L753.3 847.1L753.9 846.7L754.5 846.4L755.1 846.1L755.7 845.8L756.3 845.4L756.9 845.2L757.5 844.9L758.2 844.6L758.8 844.3L759.4 843.9L760.1 843.7L760.6 843.5L761.2 843.2L761.8 842.9L762.3 842.7L762.9 842.5L763.5 842.1L764.1 841.9L764.7 841.7L765.3 841.3L765.9 841.2L766.5 840.8L767.1 840.7L767.7 840.5L768.3 840.3L769.0 840.0L769.6 839.7L770.2 839.4L770.8 839.4L771.4 839.1L772.0 838.9L772.6 838.6L773.2 838.4L773.8 838.1L774.4 838.1L775.0 837.9L775.6 837.5L776.2 837.5L776.8 837.4L777.4 837.0L778.0 836.8L778.6 836.7L779.1 836.6L779.7 836.3L780.3 836.3L780.9 836.1L781.5 836.0L782.1 835.8L782.7 835.7L783.3 835.5L783.9 835.2L784.5 835.0L785.1 834.8L785.7 834.6L786.3 834.5L786.9 834.4L787.5 834.2L788.1 833.9L788.7 833.7L789.3 833.6L789.9 833.5L790.5 833.3L791.1 833.1L791.6 832.9L792.2 832.8L792.8 832.6L793.4 832.4L794.0 832.2L794.6 832.0L795.2 831.7L795.8 831.6L796.4 831.5L797.0 831.2L797.6 831.2L798.2 831.0L798.8 830.7L799.4 830.6L800.0 830.4L800.6 830.3L801.2 830.1L801.8 829.9L802.4 829.6L803.0 829.5L803.6 829.3L804.2 829.2L804.8 829.0L805.4 828.8L806.0 828.5L806.6 828.4L807.2 828.2L807.7 828.0L808.3 827.9L808.9 827.7L809.5 827.6L810.1 827.4L810.7 827.2L811.3 827.2L811.8 826.9L812.4 826.8L813.0 826.6L813.5 826.5L814.1 826.1L814.6 826.0L815.2 826.0L815.8 825.8L816.3 825.8L816.9 825.5L817.5 825.4L818.0 825.2L818.6 825.0L819.2 824.8L819.8 824.6L820.4 824.5L821.0 824.2L821.6 824.2L822.2 823.8L822.7 823.7L823.3 823.7L823.9 823.4L824.4 823.2L825.0 823.1L825.6 822.8L826.2 822.5L826.8 822.4L827.3 822.3L827.9 822.1L828.5 821.8L829.1 821.7L829.7 821.5L830.3 821.2L830.9 821.0L831.5 820.8L832.1 820.7L832.7 820.4L833.3 820.3L833.9 820.0L834.5 819.8L835.1 819.7L835.7 819.6L836.3 819.3L836.9 819.1L837.5 819.1L838.1 818.9L838.7 818.8L839.2 818.7L839.8 818.5L840.4 818.3L841.0 818.3L841.6 818.1L842.2 818.0L842.8 817.8L843.4 817.7L843.9 817.4L844.5 817.6L845.1 817.4L845.7 817.1L846.3 817.0L846.9 816.8L847.5 816.9L848.1 816.7L848.6 816.6L849.2 816.4L849.8 816.3L850.4 816.1L851.0 816.0L851.6 815.8L852.2 815.7L852.8 815.6L853.4 815.4L854.0 815.2L854.7 815.0L855.3 815.0L855.9 814.7L856.5 814.7L857.1 814.5L857.8 814.3L858.4 814.1L859.0 813.9L859.6 813.8L860.1 813.7L860.7 813.6L861.3 813.4L861.8 813.3L862.4 813.3L862.9 813.0L863.4 812.9L863.9 812.9L864.4 812.5L865.1 812.4L865.9 812.3L866.6 812.2L867.3 812.0L868.0 811.9L868.6 811.8L869.2 811.6L869.8 811.6L870.4 811.2L870.9 811.2L871.4 811.2L871.8 811.0L872.2 811.0L872.6 811.0L872.9 810.9L873.9 808.4L874.2 808.2L874.5 808.1L874.9 807.8L875.3 807.6L875.9 807.5L876.6 806.9L877.4 806.7L878.5 806.3L878.9 806.3L879.3 806.1L879.8 806.0L880.3 805.7L880.8 805.6L881.4 805.5L881.9 805.2L882.5 805.3L883.1 805.1L883.7 804.7L884.3 804.7L885.0 804.5L885.6 804.4L886.2 804.2L886.9 803.9L887.5 803.8L888.2 803.8L888.9 803.4L889.5 803.2L890.1 803.0L890.8 802.9L891.4 802.8L892.0 802.8L892.6 802.5L893.2 802.3L893.8 802.3L894.4 801.9L895.0 801.7L895.5 801.6L896.1 801.5L896.7 801.2L897.3 801.0L897.9 800.9L898.5 800.7L899.1 800.4L899.7 800.3L900.2 800.1L900.8 800.0L901.4 799.8L902.0 799.6L902.6 799.4L903.2 799.4L903.8 799.2L904.4 798.9L904.9 798.8L905.5 798.5L906.1 798.4L906.7 798.3L907.3 798.2L907.9 797.9L908.5 797.7L909.1 797.6L909.7 797.3L910.3 797.2L910.9 797.0L911.5 796.9L912.1 796.6L912.7 796.4L913.3 796.4L913.9 796.2L914.5 796.0L915.1 796.0L915.7 795.7L916.2 795.5L916.8 795.4L917.4 795.1L918.0 795.0L918.5 794.9L919.1 794.9L919.6 794.6L920.2 794.5L920.7 794.3L921.4 794.2L922.0 794.1L922.7 793.8L923.4 793.8L924.1 793.4L924.8 793.3L925.4 793.2L926.1 793.1L926.7 792.7L927.4 792.5L928.0 792.6L928.6 792.5L929.2 792.3L929.7 792.3L930.2 792.0L930.7 791.9L931.2 791.8L931.6 791.7L932.0 791.7L933.0 791.2L933.5 791.2L933.7 791.0L934.0 791.2L934.8 790.8L935.2 790.8L935.6 790.7L936.1 790.3L936.6 790.1L937.2 789.9L937.8 789.6L938.3 789.4L938.9 789.2L939.6 788.9L940.2 788.7L940.8 788.4L941.4 788.3L942.0 788.1L942.6 787.8L943.2 787.8L943.8 787.6L944.3 787.3L944.9 787.5L945.5 787.3L946.1 787.1L946.6 787.2L947.2 787.0L947.8 786.8L948.4 787.0L948.9 786.8L949.5 786.8L950.1 786.7L950.6 786.7L951.2 786.5L951.7 786.7L952.3 786.6L952.9 786.5L953.5 786.6L954.1 786.5L954.6 786.6L955.2 786.5L955.8 786.6L956.3 786.4L956.9 786.6L957.5 786.7L958.1 786.8L958.7 786.7L959.3 786.7L959.8 786.9L960.4 786.7L960.9 786.8L961.5 786.9L962.0 786.8L962.6 787.0L963.1 786.8L963.7 786.9L964.3 786.9L964.8 786.9L965.4 787.0L966.0 787.1L966.6 786.9L967.3 786.8L967.9 786.9L968.4 786.7L969.0 786.8L969.6 786.7L970.1 786.6L970.7 786.6L971.3 786.3L971.9 786.4L972.5 786.1L973.1 786.1L973.7 786.0L974.4 785.9L975.0 785.9L975.6 785.7L976.2 785.5L976.8 785.5L977.4 785.5L977.9 785.3L978.5 785.2L979.1 785.2L979.7 785.0L980.3 784.7L980.8 784.9L981.4 784.8L982.0 784.3L982.6 784.4L983.1 784.3L983.7 784.2L984.3 784.1L984.8 783.9L985.4 783.7L985.9 783.7L986.5 783.7L987.1 783.4L987.6 783.3L988.2 783.2L988.8 783.0L989.4 783.0L990.0 782.9L990.6 782.9L991.2 782.6L991.8 782.5L992.4 782.5L993.0 782.4L993.6 782.2L994.2 782.2L994.8 782.1L995.4 782.1L996.0 782.0L996.6 781.7L997.2 781.6L997.8 781.4L998.4 781.6L998.9 781.3L999.5 781.2L1000.1 781.2L1000.6 780.9L1001.2 781.0L1001.8 780.9L1002.4 780.6L1002.9 780.7L1003.5 780.7L1004.1 780.3L1004.7 780.4L1005.2 780.3L1005.8 780.2L1006.4 780.1L1006.9 780.1L1007.5 779.8L1008.1 779.8L1008.6 779.6L1009.2 779.6L1009.8 779.3L1010.4 779.3L1011.0 779.4L1011.6 779.1L1012.1 779.0L1012.7 778.8L1013.3 778.7L1013.9 778.6L1014.4 778.6L1015.0 778.4L1015.5 778.3L1016.1 778.2L1016.6 778.2L1017.1 777.9L1017.8 777.8L1018.4 777.7L1019.0 777.5L1019.6 777.3L1020.2 777.1L1020.8 777.0L1021.4 776.9L1021.9 776.7L1022.5 776.4L1023.1 776.4L1023.6 776.3L1024.2 776.0L1024.8 776.1L1025.4 775.9L1026.0 775.7L1026.6 775.7L1027.1 775.7L1027.7 775.4L1028.3 775.4L1028.9 775.2L1029.5 775.4L1030.1 775.0L1030.7 775.1L1031.3 774.9L1031.9 774.9L1032.5 775.0L1033.0 774.6L1033.6 774.7L1034.2 774.7L1034.7 774.6L1035.3 774.5L1035.9 774.8L1036.4 774.6L1037.0 774.4L1037.6 774.6L1038.2 774.3L1038.8 774.6L1039.4 774.4L1040.0 774.4L1040.6 774.5L1041.2 774.3L1041.8 774.1L1042.4 774.0L1042.9 774.2L1043.5 774.1L1044.1 773.9L1044.7 774.0L1045.3 773.9L1045.9 773.9L1046.6 773.6L1047.2 773.7L1047.8 773.7L1048.4 773.6L1049.0 773.6L1049.6 773.3L1050.2 773.4L1050.8 773.4L1051.4 773.5L1051.9 773.2L1052.5 773.2L1053.1 773.2L1053.6 773.2L1054.2 773.1L1054.7 773.2L1055.3 773.0L1055.9 773.1L1056.4 773.0L1057.0 773.0L1057.6 772.9L1058.1 772.8L1058.7 773.0L1059.3 773.0L1059.8 772.9L1060.4 772.9L1061.0 773.0L1061.5 772.8L1062.1 772.9L1062.7 772.9L1063.2 772.9L1063.8 772.8L1064.4 772.7L1065.0 773.0L1065.5 772.9L1066.1 772.9L1066.7 772.9L1067.3 772.9L1067.8 772.9L1068.4 772.8L1069.0 772.8L1069.5 772.8L1070.1 772.8L1070.7 772.8L1071.3 773.0L1071.9 772.8L1072.6 773.0L1073.2 772.8L1073.9 772.9L1074.5 773.0L1075.2 772.9L1075.8 772.8L1076.4 772.9L1077.0 772.9L1077.6 772.7L1078.1 772.8L1078.6 772.9L1079.0 772.9L1079.4 772.9L1079.7 773.0L1081.5 773.4L1083.2 775.9L1084.8 777.8L1086.2 764.9L1087.7 760.4L1088.8 760.9L1090.2 769.9L1091.6 774.9L1092.6 768.4L1094.0 767.4L1095.5 767.9L1096.5 777.8L1097.5 771.4L1099.0 771.4L1100.3 785.2L1101.5 773.9L1102.5 782.4L1103.5 790.1L1104.5 781.4L1106.0 786.4L1107.5 792.4L1109.0 790.4L1110.5 796.4L1112.0 798.4L1113.5 801.4L1115.5 802.9L1116.5 802.6L1116.8 803.1L1117.1 803.5L1117.7 803.6L1118.6 803.9L1119.0 803.9L1119.5 803.7L1120.0 803.9L1120.5 803.1L1121.1 803.2L1121.7 802.7L1122.4 803.0L1123.0 803.0L1123.7 802.0L1124.3 802.2L1125.0 802.1L1125.6 801.7L1126.1 801.7L1126.7 801.1L1127.2 801.4L1127.8 801.1L1128.3 800.9L1128.8 800.6L1129.4 800.6L1130.0 800.2L1130.5 800.2L1131.1 799.8L1131.7 799.4L1132.3 799.6L1132.9 799.5L1133.5 799.4L1134.0 799.0L1134.6 799.0L1135.2 799.0L1135.8 798.8L1136.3 798.9L1136.9 798.9L1137.5 798.3L1138.1 798.0L1138.8 798.4L1139.4 798.5L1140.0 798.3L1140.5 798.1L1141.1 797.8L1141.7 797.6L1142.3 797.8L1142.8 797.4L1143.4 797.1L1144.0 797.1L1144.6 797.6L1145.2 797.5L1145.7 796.9L1146.3 796.8L1146.8 796.9L1147.4 796.6L1147.9 796.9L1148.5 796.5L1149.0 796.2L1149.6 796.5L1150.1 796.0L1150.7 796.0L1151.3 795.8L1151.9 795.6L1152.5 795.5L1153.1 795.1L1153.7 794.7L1154.3 794.5L1154.9 794.4L1155.5 794.2L1156.1 794.1L1156.7 793.9L1157.3 793.8L1157.9 793.5L1158.5 793.1L1159.1 792.9L1159.7 792.5L1160.3 792.6L1161.0 792.5L1161.6 792.3L1162.2 791.9L1162.8 791.7L1163.4 791.7L1164.0 791.3L1164.6 791.2L1165.2 791.0L1165.8 790.7L1166.3 790.7L1166.9 790.2L1167.5 790.0L1168.1 789.7L1168.6 789.5L1169.1 789.7L1169.7 789.5L1170.2 789.0L1170.7 788.9L1171.3 788.8L1171.9 788.5L1172.5 788.4L1173.0 787.8L1173.5 787.7L1174.1 787.8L1174.6 787.8L1175.2 787.4L1175.8 787.1L1176.4 787.1L1176.9 786.9L1177.5 786.7L1178.1 787.0L1178.7 786.5L1179.3 786.5L1179.8 786.7L1180.4 786.4L1181.0 786.1L1181.6 785.8L1182.2 785.8L1182.8 785.9L1183.4 785.6L1184.0 785.5L1184.6 785.2L1185.2 785.1L1185.8 784.8L1186.4 784.8L1187.0 784.8L1187.6 784.1L1188.2 784.2L1188.8 784.1L1189.4 783.9L1190.0 783.8L1190.6 783.8L1191.2 783.9L1191.8 783.5L1192.4 783.3L1193.0 782.8L1193.6 783.3L1194.2 782.8L1194.8 782.6L1195.4 782.3L1196.0 782.3L1196.6 781.9L1197.2 782.0L1197.8 781.9L1198.4 781.6L1199.0 781.4L1199.6 781.0L1200.2 781.3L1200.8 780.7L1201.4 780.3L1202.0 780.4L1202.6 780.1L1203.2 779.9L1203.8 779.9L1204.4 779.9L1205.0 779.5L1205.6 779.5L1206.2 779.7L1206.8 779.4L1207.4 779.1L1208.0 779.1L1208.6 778.9L1209.2 778.8L1209.8 778.8L1210.4 778.6L1211.0 778.1L1211.6 778.4L1212.2 778.1L1212.7 778.3L1213.3 778.0L1213.9 778.1L1214.4 778.3L1215.0 777.7L1215.5 777.6L1216.1 777.4L1216.7 777.3L1217.2 777.2L1217.8 777.5L1218.4 777.3L1218.9 776.9L1219.5 776.9L1220.1 777.2L1220.7 776.9L1221.3 776.9L1221.9 776.9L1222.5 777.0L1223.1 777.0L1223.7 776.7L1224.3 776.5L1224.9 776.4L1225.5 776.6L1226.1 776.5L1226.7 776.1L1227.3 776.1L1227.9 776.0L1228.5 775.9L1229.0 775.8L1229.6 775.5L1230.2 775.6L1230.8 775.4L1231.3 775.8L1231.9 775.7L1232.5 775.3L1233.1 775.7L1233.8 775.5L1234.4 775.0L1235.1 775.6L1235.6 775.3L1236.1 775.5L1236.7 774.9L1237.2 775.1L1237.8 775.0L1238.3 774.9L1238.9 774.9L1239.5 774.9L1240.1 774.4L1240.7 774.4L1241.3 774.3L1241.9 774.4L1242.5 774.3L1243.0 774.4L1243.6 774.4L1244.2 774.3L1244.8 774.1L1245.4 774.1L1246.0 774.3L1246.6 774.2L1247.1 774.0L1247.7 773.9L1248.3 774.2L1248.9 773.7L1249.5 773.9L1250.1 773.9L1250.6 773.6L1251.2 773.8L1251.8 773.4L1252.4 773.7L1253.0 773.6L1253.6 773.2L1254.2 773.6L1254.7 773.2L1255.3 773.6L1255.9 773.2L1256.5 773.2L1257.1 773.2L1257.6 773.1L1258.2 773.1L1258.8 772.9L1259.4 773.1L1259.9 772.9L1260.5 772.9L1261.1 772.5L1261.7 773.0L1262.3 772.7L1262.8 772.4L1263.4 772.7L1264.0 772.7L1264.6 772.7L1265.1 772.3L1265.7 772.8L1266.3 772.4L1266.9 772.8L1267.5 772.4L1268.0 772.5L1268.6 772.3L1269.2 772.1L1269.8 772.5L1270.4 772.4L1271.0 772.5L1271.5 772.4L1272.1 772.1L1272.7 771.9L1273.3 772.1L1273.9 772.1L1274.5 772.0L1275.1 772.3L1275.6 772.2L1276.2 772.1L1276.8 772.2L1277.4 772.1L1278.0 772.2L1278.5 772.3L1279.1 772.3L1279.7 772.0L1280.3 771.8L1280.9 772.4L1281.4 772.2L1282.0 772.3L1282.6 771.9L1283.2 772.1L1283.7 772.2L1284.3 771.9L1284.9 772.1L1285.5 772.3L1286.0 772.4L1286.6 772.5L1287.2 772.1L1287.8 772.0L1288.4 772.4L1289.0 772.5L1289.6 772.3L1290.2 772.1L1290.8 772.5L1291.4 772.5L1292.0 772.5L1292.6 772.3L1293.2 772.5L1293.8 772.6L1294.4 772.3L1295.0 772.1L1295.5 772.6L1296.1 772.6L1296.6 772.5L1297.1 772.7L1297.6 772.5L1298.3 772.6L1299.0 772.6L1299.6 772.9L1300.2 773.1L1300.8 772.8L1301.3 773.3L1301.9 773.3L1302.4 773.2L1302.9 773.2L1303.5 773.5L1304.0 773.2L1304.6 773.3L1305.2 773.2L1305.8 773.5L1306.3 773.7L1306.9 773.6L1307.5 773.7L1308.0 773.6L1308.6 773.7L1309.2 773.5L1309.8 774.0L1310.3 773.8L1310.9 773.7L1311.5 773.9L1312.1 773.9L1312.7 774.3L1313.2 774.4L1313.8 774.0L1314.4 774.5L1315.0 774.5L1315.6 774.3L1316.2 774.2L1316.7 774.4L1317.3 774.5L1317.9 774.7L1318.5 774.6L1319.1 774.4L1319.7 774.8L1320.3 774.5L1320.8 775.0L1321.4 774.7L1322.0 774.8L1322.6 774.8L1323.2 774.9L1323.8 775.2L1324.3 775.2L1324.9 775.1L1325.5 775.1L1326.1 774.8L1326.7 775.0L1327.2 775.0L1327.8 774.9L1328.4 775.2L1329.0 775.0L1329.5 775.0L1330.1 775.0L1330.7 774.8L1331.2 775.3L1331.8 775.4L1332.4 775.2L1333.0 775.0L1333.6 774.8L1334.2 775.2L1334.9 775.4L1335.5 775.2L1336.1 775.3L1336.7 775.4L1337.3 775.3L1337.9 775.0L1338.4 775.3L1338.9 775.2L1339.4 774.8L1340.2 774.9L1340.8 774.7L1341.4 774.9L1341.8 774.9L1342.3 774.6L1342.9 774.3L1343.5 774.9L1344.1 774.6L1344.7 774.7L1345.3 774.1L1345.8 774.5L1346.3 774.6L1346.6 774.5L1348.0 771.9L1349.0 775.9L1350.0 771.4L1351.0 776.4L1352.0 770.9L1353.0 776.9L1354.0 770.4L1355.0 777.4L1356.0 769.4L1357.0 777.9L1358.0 768.9L1359.0 778.4L1360.0 769.4L1361.0 777.4L1362.0 770.4L1363.5 786.9L1365.2 754.9L1366.5 792.4L1367.9 822.9L1368.2 700.9L1369.5 762.4L1370.5 812.4L1372.1 620.9L1372.8 620.9L1373.4 896.9L1374.5 812.4L1375.0 896.9L1376.1 896.9L1377.5 738.4L1378.5 837.4L1379.5 747.4L1381.3 851.9L1382.7 717.4L1383.7 717.4L1385.0 812.4L1386.5 861.4L1387.5 737.4L1388.7 861.4L1389.7 733.9L1390.5 812.4L1391.2 849.9L1391.6 733.9L1393.0 776.9L1393.6 812.9L1394.5 792.4L1395.5 812.9L1396.8 802.4L1397.6 812.9L1398.6 807.4L1399.6 812.9L1401.5 807.4L1402.4 848.9L1403.0 848.9L1404.5 812.4L1407.5 796.9L1408.6 796.9L1409.6 881.4L1411.0 837.4L1413.0 881.4L1414.0 839.9L1416.0 862.9L1418.0 840.4L1420.0 852.4L1422.0 843.4L1424.9 852.9L1427.0 846.4L1430.0 848.4L1433.8 846.4L1436.0 850.4L1438.2 847.4L1439.5 846.4L1439.7 845.1L1440.0 843.0L1440.9 841.2L1441.3 840.6L1441.8 840.0L1442.3 839.6L1442.9 839.3L1443.5 839.0L1444.2 838.8L1444.9 838.6L1445.6 838.3L1446.2 837.4L1446.9 836.6L1447.5 836.1L1448.1 836.2L1448.7 836.3L1449.3 836.2L1449.9 835.7L1450.5 835.1L1451.1 834.2L1451.7 833.5L1452.3 832.9L1452.9 832.7L1453.5 832.4L1454.1 832.1L1454.7 831.7L1455.3 831.2L1455.9 830.6L1456.6 830.1L1457.2 829.6L1457.8 829.2L1458.4 829.0L1459.0 828.8L1459.5 828.5L1460.1 828.0L1460.6 827.5L1461.3 827.1L1461.9 826.8L1462.5 826.5L1463.1 826.1L1463.6 825.9L1464.1 825.8L1464.6 825.8L1465.0 825.9L1465.7 825.9L1466.3 826.2L1466.8 826.0L1467.2 825.7L1467.7 825.1L1468.0 824.7L1468.5 824.0L1468.9 823.4L1469.4 822.8L1469.9 822.2L1470.5 821.1L1471.0 820.1L1471.5 819.2L1472.0 818.6L1472.6 818.1L1473.2 817.5L1473.8 816.9L1474.3 816.5L1474.8 816.0L1475.3 815.6L1475.8 815.4L1476.3 815.1L1476.9 814.6L1477.5 813.7L1478.2 812.7L1478.7 812.4L1479.3 812.1L1479.8 812.0L1480.4 812.0L1481.0 812.1L1481.6 811.8L1482.2 811.1L1482.9 810.5L1483.5 810.1L1484.1 810.2L1484.7 810.0L1485.3 809.9L1485.9 809.8L1486.5 809.6L1487.1 809.3L1487.7 808.9L1488.3 808.5L1488.9 808.3L1489.5 807.8L1490.1 807.4L1490.7 807.2L1491.3 807.5L1491.8 807.6L1492.4 807.2L1492.9 806.6L1493.4 806.0L1493.9 805.4L1494.5 805.2L1495.0 805.2L1495.5 805.4L1496.1 805.2L1496.7 804.7L1497.3 804.2L1497.9 804.1L1498.4 804.1L1499.0 803.7L1499.5 802.9L1500.1 802.4L1500.7 802.6L1501.3 802.9L1501.9 802.8L1502.6 802.5L1503.2 802.1L1503.8 801.8L1504.4 801.3L1505.0 801.0L1505.5 801.0L1506.1 801.3L1506.6 801.1L1507.2 800.6L1507.8 800.1L1508.4 800.1L1508.9 800.1L1509.4 800.1L1510.0 799.8L1510.5 799.6L1511.0 799.4L1511.5 799.2L1512.1 798.8L1512.6 798.5L1513.2 798.1L1513.8 797.7L1514.3 797.6L1514.9 797.5L1515.5 797.4L1516.1 797.6L1516.7 797.9L1517.3 798.3L1517.9 798.4L1518.5 798.1L1519.1 797.8L1519.7 797.8L1520.3 798.1L1520.9 798.2L1521.5 798.0L1522.1 797.6L1522.7 797.5L1523.2 797.3L1523.8 797.3L1524.4 797.0L1525.0 796.6L1525.6 795.8L1526.2 795.3L1526.7 795.0L1527.3 795.1L1527.9 794.7L1528.5 794.3L1529.1 793.9L1529.7 793.7L1530.3 793.6L1530.9 793.4L1531.5 793.2L1532.1 793.1L1532.6 792.9L1533.2 792.8L1533.8 792.8L1534.4 792.8L1535.0 792.5L1535.6 792.0L1536.2 791.4L1536.8 791.3L1537.4 791.3L1538.0 791.3L1538.5 790.9L1539.1 790.8L1539.7 790.9L1540.3 791.1L1540.9 791.3L1541.5 791.1L1542.0 790.6L1542.6 790.1L1543.2 790.1L1543.8 790.6L1544.4 790.9L1545.0 791.0L1545.6 790.7L1546.2 790.5L1546.8 790.3L1547.3 790.5L1547.9 790.6L1548.5 790.5L1549.1 790.0L1549.7 789.7L1550.3 789.8L1550.9 790.3L1551.5 790.6L1552.1 790.6L1552.7 790.6L1553.3 790.6L1553.9 790.7L1554.6 791.1L1555.2 791.6L1555.8 792.2L1556.4 792.6L1557.0 792.7L1557.6 792.9L1558.1 793.0L1558.7 793.2L1559.2 792.8L1559.9 792.6L1560.6 792.5L1561.2 792.5L1561.9 792.9L1562.5 793.5L1563.0 794.2L1563.6 794.1L1564.1 793.8L1564.6 793.6L1565.3 794.1L1565.8 794.7L1566.3 795.0L1566.8 795.5L1567.3 796.1L1567.9 797.5L1568.4 798.6L1568.9 799.3L1569.4 799.2L1569.9 799.3L1570.5 799.4L1571.1 799.6L1571.8 799.6L1572.5 799.8L1573.0 800.4L1573.5 801.4L1574.0 802.1L1574.6 802.4L1575.2 802.2L1575.8 802.3L1576.4 802.6L1577.0 803.1L1577.6 803.7L1578.2 804.7L1578.8 805.4L1579.4 805.9L1580.0 805.9L1580.6 806.0L1581.2 805.9L1581.7 806.2L1582.3 806.9L1582.9 808.0L1583.5 808.6L1584.0 808.5L1584.6 808.7L1585.2 809.5L1585.8 810.4L1586.3 810.3L1586.9 809.6L1587.5 809.1L1588.1 809.7L1588.7 810.5L1589.3 810.7L1589.9 810.1L1590.5 809.2L1591.1 808.6L1591.7 808.4L1592.3 808.7L1592.9 808.6L1593.4 808.2L1594.0 807.6L1594.5 807.4L1595.0 807.5L1595.6 807.6L1596.2 807.5L1596.6 807.1L1597.0 806.9L1597.5 806.6L1598.0 806.4L1598.5 806.2L1599.2 806.3L1600.0 806.0L1600.4 805.5L1600.9 804.6L1601.5 804.5L1602.0 804.6L1602.6 804.6L1603.2 803.9L1603.8 803.4L1604.4 803.2L1605.1 803.4L1605.7 803.4L1606.4 803.3L1607.1 803.6L1607.7 804.2L1608.4 804.7L1609.0 804.3L1609.6 803.5L1610.2 802.8L1610.8 802.7L1611.3 803.0L1612.0 803.7L1612.6 804.3L1613.3 804.7L1613.9 804.7L1614.5 804.9L1615.1 805.4L1615.7 805.7L1616.3 805.4L1616.9 804.7L1617.5 804.7L1618.0 805.2L1618.5 805.8L1619.0 806.0L1619.5 806.1L1620.0 806.5L1620.7 807.1L1621.3 807.6L1621.8 807.5L1622.3 807.3L1622.8 806.7L1623.3 806.3L1623.8 806.1L1624.4 806.3L1625.0 806.5L1625.5 806.8L1626.0 807.2L1626.5 807.6L1627.0 808.0L1627.6 808.1L1628.2 808.0L1628.7 807.8L1629.3 807.9L1629.9 808.3L1630.5 809.2L1631.2 810.3L1631.8 811.0L1632.5 811.2L1633.0 810.6L1633.6 809.7L1634.2 809.6L1634.8 809.6L1635.4 809.9L1636.0 810.1L1636.7 810.5L1637.3 810.2L1638.0 809.8L1638.6 809.3L1639.2 809.5L1639.8 809.9L1640.4 810.3L1641.0 810.3L1641.5 810.0L1642.0 809.4L1642.5 808.6L1643.3 808.7L1644.0 808.7L1644.7 809.6L1645.3 810.0L1645.8 810.0L1646.3 810.1L1646.7 810.9L1647.2 811.9L1647.6 812.5L1648.2 812.9L1648.5 813.0L1648.8 813.2L1649.2 813.9L1650.0 814.8L1650.4 815.5L1650.9 816.5L1651.4 817.5L1652.0 818.2L1652.6 818.0L1653.2 817.7L1653.9 817.8L1654.5 818.4L1655.2 818.8L1655.8 818.8L1656.5 818.4L1657.0 818.3L1657.6 818.3L1658.2 818.3L1658.8 817.9L1659.4 818.2L1660.0 818.5L1660.5 819.4L1661.1 820.1L1661.6 820.1L1662.1 819.8L1662.7 819.9L1663.2 820.2L1663.8 820.7L1664.4 821.3L1665.0 822.2L1665.6 822.8L1666.3 822.8L1666.9 822.7L1667.5 822.7L1668.1 822.9L1668.7 823.2L1669.2 823.5L1669.6 823.5L1670.0 823.6L1670.5 825.0L1670.5 827.1L1671.3 829.1L1671.7 829.6L1672.1 829.8L1672.6 830.0L1673.1 829.9L1673.6 829.4L1674.2 829.7L1674.9 830.5L1675.5 830.9L1676.2 831.0L1676.8 830.3L1677.5 829.4L1678.1 829.3L1678.8 829.6L1679.4 829.7L1680.0 829.4L1680.6 829.3L1681.2 829.4L1681.8 829.5L1682.4 829.3L1683.1 829.0L1683.7 829.0L1684.3 829.4L1684.9 829.6L1685.5 829.3L1686.1 829.0L1686.7 828.7L1687.3 828.3L1687.8 827.9L1688.3 827.7L1688.8 827.7L1689.5 828.0L1690.2 828.5L1690.8 829.2L1691.4 829.4L1692.0 829.7L1692.5 830.1L1692.9 830.1L1693.4 829.5L1693.8 829.3L1694.5 830.3L1695.0 831.8L1695.5 833.2L1695.9 834.5L1696.3 835.9L1696.7 838.0L1696.9 839.0L1697.6 840.1L1698.0 840.1L1698.5 840.5L1699.0 841.1L1699.6 841.5L1700.2 842.1L1700.8 842.8L1701.4 843.6L1702.0 844.1L1702.6 844.2L1703.1 843.8L1703.7 843.4L1704.2 842.7L1704.8 841.8L1705.3 840.8L1705.8 840.2L1706.4 839.8L1707.0 839.2L1707.6 838.7L1708.1 838.8L1708.7 839.8L1709.3 841.3L1709.9 842.5L1710.5 843.2L1711.1 844.0L1711.7 845.0L1712.2 845.9L1712.8 846.4L1713.3 847.1L1713.8 847.6L1714.5 847.6L1715.1 846.6L1715.7 845.4L1716.3 844.4L1716.8 843.4L1717.2 842.8L1717.6 842.2L1718.3 842.1L1718.7 842.6L1719.0 843.4L1719.5 844.6L1720.1 846.9L1720.7 846.1L1721.3 846.7L1721.9 846.5L1722.5 847.5L1722.9 838.8L1723.1 846.4L1723.7 847.2L1724.3 846.7L1724.9 847.6L1725.5 847.0L1726.1 859.0L1726.7 846.9L1727.3 859.0L1727.9 847.1L1728.5 859.0L1729.1 847.0L1729.7 858.9L1730.3 847.3L1730.9 858.8L1731.5 846.8L1732.1 863.6L1732.7 846.7L1733.3 863.6L1733.8 842.5L1733.9 846.4L1734.5 863.6L1735.1 846.6L1735.7 870.2L1736.3 846.3L1736.9 870.1L1737.5 846.2L1738.1 870.4L1738.7 846.4L1739.3 870.3L1739.9 846.0L1740.5 870.3L1741.1 846.0L1741.7 870.0L1742.3 845.9L1742.9 876.6L1743.5 846.2L1744.1 876.6L1744.7 845.9L1745.3 866.4L1745.9 846.0L1746.5 866.4L1747.1 845.8L1747.7 866.6L1748.3 845.7L1748.9 866.3L1749.5 845.0L1750.1 866.6L1750.7 844.6L1751.3 866.4L1751.9 843.6L1752.5 866.6L1753.1 843.2L1753.7 866.6L1754.3 842.8L1754.5 839.9L1754.9 866.2L1755.5 842.2L1756.1 890.1L1756.7 842.0L1757.3 883.8L1757.9 841.6L1758.5 883.4L1759.1 841.3L1759.7 883.7L1760.3 841.6" fill="none" stroke="#FFC290" stroke-width="7.5" stroke-linejoin="round" stroke-linecap="round"/><path d="M516.9 972.3L517.2 972.2L517.7 972.2L518.2 971.8L518.7 971.6L519.3 971.2L520.0 970.9L520.6 970.5L521.3 969.9L522.0 969.9L522.6 969.5L523.2 969.1L523.8 968.5L524.4 968.1L525.0 967.9L525.6 967.5L526.2 967.2L526.7 966.8L527.3 966.5L527.9 966.0L528.4 965.7L529.0 965.3L529.5 964.8L530.0 964.7L530.6 964.1L531.2 963.7L531.8 963.0L532.3 962.6L532.9 962.1L533.4 961.7L534.0 961.3L534.5 960.8L535.0 960.2L535.6 959.7L536.1 959.2L536.7 958.8L537.2 958.1L537.8 957.7L538.3 957.2L538.9 956.4L539.4 956.1L539.9 955.8L540.5 954.9L541.0 954.6L541.6 954.2L542.1 953.6L542.7 953.3L543.2 952.8L543.8 952.2L544.3 952.1L544.8 951.7L545.4 951.3L545.9 951.0L546.5 950.5L547.0 950.1L547.6 949.6L548.2 949.5L548.8 949.0L549.3 948.7L549.9 948.4L550.4 948.1L551.0 947.9L551.6 947.8L552.2 947.2L552.8 947.0L553.4 947.0L553.9 946.8L554.5 946.5L555.0 946.0L555.6 945.7L556.2 945.7L556.8 945.3L557.3 945.0L557.9 945.0L558.4 944.8L559.0 944.4L559.5 944.2L560.0 943.9L560.6 943.8L561.1 943.4L561.7 943.1L562.2 942.8L562.7 942.3L563.3 942.3L563.8 942.0L564.4 941.6L564.9 941.0L565.5 940.8L566.0 940.6L566.6 940.0L567.2 939.8L567.8 939.5L568.3 938.9L568.9 938.8L569.4 938.3L570.0 937.8L570.5 937.4L571.1 937.0L571.6 936.4L572.2 936.1L572.7 935.4L573.3 934.9L573.8 934.6L574.4 934.0L574.9 933.4L575.5 933.1L576.0 932.7L576.6 931.9L577.1 931.3L577.7 930.9L578.2 930.3L578.7 929.7L579.3 929.3L579.8 928.4L580.3 928.0L580.8 927.0L581.4 926.4L581.9 925.9L582.5 925.3L583.0 924.6L583.5 924.0L584.0 923.3L584.5 922.7L585.0 922.2L585.5 921.4L586.1 920.7L586.8 920.0L587.5 919.1L588.0 918.6L588.5 918.0L589.0 917.5L589.6 916.6L590.2 915.9L590.8 915.2L591.4 914.5L592.0 913.9L592.6 913.1L593.2 912.4L593.9 911.8L594.5 910.7L595.1 910.1L595.7 909.5L596.3 908.8L596.9 908.1L597.5 907.4L598.0 906.8L598.6 906.1L599.2 905.3L599.8 905.0L600.4 904.1L600.9 903.3L601.5 902.7L602.1 902.0L602.7 901.3L603.3 900.4L603.8 899.8L604.4 899.3L605.0 898.3L605.6 897.7L606.2 897.0L606.8 896.2L607.4 895.4L608.0 894.2L608.6 893.5L609.2 892.7L609.8 891.9L610.4 891.1L611.0 890.0L611.5 889.5L612.1 888.4L612.7 887.8L613.3 886.8L613.8 886.3L614.4 885.6L615.0 884.7L615.6 883.9L616.2 883.2L616.7 882.4L617.3 881.7L617.8 881.2L618.4 880.4L618.9 879.6L619.5 879.2L620.1 878.1L620.7 877.7L621.3 876.9L621.8 876.3L622.4 875.8L623.0 875.2L623.5 874.6L624.1 873.8L624.7 873.2L625.3 872.9L625.8 872.2L626.4 871.6L627.0 871.0L627.6 870.7L628.2 870.1L628.9 869.7L629.5 868.9L630.1 868.4L630.7 867.8L631.2 867.6L631.8 867.2L632.4 866.5L633.0 866.3L633.5 865.8L634.1 865.2L634.7 864.6L635.3 864.6L635.9 864.0L636.5 863.5L637.1 863.1L637.7 862.7L638.3 862.4L638.9 861.7L639.5 861.5L640.1 861.1L640.7 860.6L641.3 860.0L641.9 859.5L642.5 859.3L643.0 858.7L643.6 858.3L644.2 858.0L644.8 857.3L645.4 856.7L646.0 856.4L646.6 855.8L647.2 855.7L647.7 855.2L648.3 854.6L648.9 854.3L649.5 853.9L650.1 853.4L650.7 853.2L651.3 852.6L651.9 852.3L652.5 852.0L653.0 851.6L653.6 851.0L654.2 850.8L654.8 850.1L655.4 849.8L656.0 849.3L656.6 849.3L657.2 848.7L657.7 848.4L658.3 848.0L658.9 847.6L659.5 847.2L660.1 846.9L660.7 846.6L661.3 846.0L661.9 845.6L662.5 845.2L663.1 844.7L663.7 844.1L664.3 843.7L664.9 843.5L665.5 842.7L666.1 842.4L666.7 842.1L667.3 841.6L667.8 841.1L668.4 840.7L669.0 840.2L669.5 839.6L670.1 839.1L670.7 838.8L671.3 838.4L671.9 837.8L672.5 837.3L673.1 836.8L673.7 836.2L674.2 835.9L674.8 835.3L675.4 835.0L675.9 834.2L676.5 834.0L677.1 833.4L677.7 832.7L678.2 832.5L678.8 831.9L679.4 831.1L680.0 830.7L680.5 830.3L681.1 829.7L681.7 829.3L682.3 828.7L682.9 828.2L683.4 827.6L684.0 827.1L684.6 826.5L685.2 825.9L685.8 825.0L686.3 824.8L686.9 824.2L687.5 823.5L688.1 822.8L688.7 822.5L689.3 821.5L689.9 821.1L690.5 820.6L691.1 819.7L691.7 819.2L692.3 818.7L692.9 817.9L693.5 817.3L694.0 816.7L694.6 815.9L695.2 815.3L695.8 814.7L696.3 814.1L696.9 813.3L697.5 812.6L698.1 811.8L698.7 811.1L699.3 810.5L699.8 809.7L700.4 808.9L701.0 808.2L701.5 807.8L702.1 807.0L702.7 806.2L703.2 805.2L703.8 804.7L704.4 804.0L705.0 803.4L705.5 802.5L706.1 801.8L706.7 801.1L707.3 800.1L707.8 799.7L708.4 798.9L709.0 798.0L709.6 797.5L710.1 796.9L710.7 795.8L711.3 795.2L711.9 794.6L712.5 794.0L713.0 793.2L713.6 792.5L714.2 792.1L714.8 791.4L715.3 790.5L715.9 789.8L716.5 789.5L717.1 788.8L717.6 788.3L718.2 787.6L718.8 786.8L719.4 786.4L720.0 785.5L720.6 785.1L721.3 784.6L721.9 784.1L722.5 783.4L723.2 783.0L723.8 782.5L724.4 782.0L724.9 781.6L725.4 781.1L725.9 780.6L726.3 780.4L727.1 779.6L727.7 779.0L728.1 778.6L728.5 778.3L728.8 777.8L729.3 776.7L729.6 775.4L730.0 774.5L730.4 773.9L730.8 773.6L731.5 773.4L731.9 773.2L732.3 772.9L732.7 772.6L733.2 772.3L733.7 771.8L734.4 771.3L735.1 771.1L735.5 770.7L736.0 770.6L736.6 770.0L737.1 769.6L737.7 769.3L738.3 769.2L738.9 768.6L739.5 768.1L740.2 767.8L740.8 767.5L741.4 767.1L742.0 766.6L742.6 766.4L743.2 765.9L743.7 765.4L744.3 765.1L744.8 764.8L745.4 764.3L745.9 763.9L746.5 763.2L747.0 762.9L747.6 762.6L748.2 762.0L748.8 761.7L749.4 761.1L750.1 760.7L750.6 760.2L751.1 760.0L751.7 759.5L752.2 758.9L752.8 758.5L753.3 758.3L753.9 757.6L754.5 757.3L755.1 756.8L755.7 756.3L756.3 755.7L756.9 755.4L757.5 754.9L758.2 754.5L758.8 754.1L759.4 753.5L760.1 753.2L760.6 752.8L761.2 752.4L761.8 752.0L762.3 751.6L762.9 751.3L763.5 750.8L764.1 750.4L764.7 750.1L765.3 749.6L765.9 749.3L766.5 748.8L767.1 748.6L767.7 748.4L768.3 748.0L769.0 747.6L769.6 747.2L770.2 746.7L770.8 746.8L771.4 746.3L772.0 746.0L772.6 745.5L773.2 745.2L773.8 744.8L774.4 744.8L775.0 744.5L775.6 743.9L776.2 743.8L776.8 743.6L777.4 743.1L778.0 742.8L778.6 742.7L779.1 742.4L779.7 742.1L780.3 742.0L780.9 741.8L781.5 741.6L782.1 741.3L782.7 741.2L783.3 740.9L783.9 740.3L784.5 740.2L785.1 739.8L785.7 739.6L786.3 739.4L786.9 739.1L787.5 738.9L788.1 738.4L788.7 738.2L789.3 738.1L789.9 737.8L790.5 737.5L791.1 737.3L791.6 736.9L792.2 736.8L792.8 736.5L793.4 736.2L794.0 735.9L794.6 735.6L795.2 735.2L795.8 735.0L796.4 734.9L797.0 734.4L797.6 734.3L798.2 734.1L798.8 733.6L799.4 733.5L800.0 733.2L800.6 733.0L801.2 732.8L801.8 732.4L802.4 732.1L803.0 731.9L803.6 731.6L804.2 731.4L804.8 731.1L805.4 730.7L806.0 730.4L806.6 730.2L807.2 729.9L807.7 729.6L808.3 729.5L808.9 729.2L809.5 729.0L810.1 728.8L810.7 728.4L811.3 728.4L811.8 727.9L812.4 727.8L813.0 727.5L813.5 727.3L814.1 726.8L814.6 726.7L815.2 726.5L815.8 726.3L816.3 726.3L816.9 725.8L817.5 725.7L818.0 725.4L818.6 725.2L819.2 724.9L819.8 724.5L820.4 724.3L821.0 723.9L821.6 723.9L822.2 723.3L822.7 723.2L823.3 723.2L823.9 722.6L824.4 722.4L825.0 722.2L825.6 721.8L826.2 721.4L826.8 721.2L827.3 721.0L827.9 720.7L828.5 720.2L829.1 720.2L829.7 719.9L830.3 719.4L830.9 719.1L831.5 718.8L832.1 718.7L832.7 718.1L833.3 718.0L833.9 717.6L834.5 717.3L835.1 717.2L835.7 717.0L836.3 716.6L836.9 716.3L837.5 716.2L838.1 715.9L838.7 715.7L839.2 715.7L839.8 715.4L840.4 715.0L841.0 715.1L841.6 714.7L842.2 714.6L842.8 714.2L843.4 714.1L843.9 713.7L844.5 714.0L845.1 713.7L845.7 713.2L846.3 713.0L846.9 712.8L847.5 713.0L848.1 712.6L848.6 712.4L849.2 712.2L849.8 712.0L850.4 711.7L851.0 711.6L851.6 711.2L852.2 711.2L852.8 711.0L853.4 710.8L854.0 710.5L854.7 710.1L855.3 710.0L855.9 709.7L856.5 709.7L857.1 709.4L857.8 709.1L858.4 708.8L859.0 708.5L859.6 708.3L860.1 708.1L860.7 708.0L861.3 707.8L861.8 707.6L862.4 707.5L862.9 707.0L863.4 706.9L863.9 707.0L864.4 706.4L865.1 706.3L865.9 706.1L866.6 705.9L867.3 705.7L868.0 705.4L868.6 705.3L869.2 705.0L869.8 704.9L870.4 704.5L870.9 704.4L871.4 704.4L871.8 704.1L872.2 704.0L872.6 704.1L872.9 703.9L873.9 700.1L874.2 700.0L874.5 699.8L874.9 699.2L875.3 699.1L875.9 698.8L876.6 698.0L877.4 697.6L878.5 697.0L878.9 697.1L879.3 696.7L879.8 696.6L880.3 696.2L880.8 696.0L881.4 695.8L881.9 695.3L882.5 695.5L883.1 695.2L883.7 694.6L884.3 694.7L885.0 694.3L885.6 694.2L886.2 693.9L886.9 693.4L887.5 693.3L888.2 693.3L888.9 692.7L889.5 692.4L890.1 692.1L890.8 691.9L891.4 691.8L892.0 691.8L892.6 691.3L893.2 691.1L893.8 691.0L894.4 690.4L895.0 690.2L895.5 690.1L896.1 689.8L896.7 689.3L897.3 689.0L897.9 689.0L898.5 688.7L899.1 688.2L899.7 688.1L900.2 687.8L900.8 687.7L901.4 687.3L902.0 687.0L902.6 686.7L903.2 686.7L903.8 686.5L904.4 686.0L904.9 685.9L905.5 685.4L906.1 685.2L906.7 685.1L907.3 684.9L907.9 684.4L908.5 684.2L909.1 684.0L909.7 683.5L910.3 683.4L910.9 683.1L911.5 683.0L912.1 682.5L912.7 682.2L913.3 682.2L913.9 682.0L914.5 681.6L915.1 681.5L915.7 681.1L916.2 680.9L916.8 680.8L917.4 680.2L918.0 680.1L918.5 680.0L919.1 679.9L919.6 679.5L920.2 679.4L920.7 679.0L921.4 678.9L922.0 678.8L922.7 678.2L923.4 678.3L924.1 677.7L924.8 677.6L925.4 677.3L926.1 677.2L926.7 676.7L927.4 676.3L928.0 676.5L928.6 676.3L929.2 676.0L929.7 676.0L930.2 675.6L930.7 675.4L931.2 675.4L931.6 675.1L932.0 675.1L933.0 674.4L933.5 674.4L933.7 674.1L934.0 674.4L934.8 673.8L935.2 673.8L935.6 673.7L936.1 673.1L936.6 672.8L937.2 672.4L937.8 672.0L938.3 671.7L938.9 671.5L939.6 671.0L940.2 670.6L940.8 670.3L941.4 670.1L942.0 669.7L942.6 669.4L943.2 669.2L943.8 668.9L944.3 668.6L944.9 668.8L945.5 668.5L946.1 668.2L946.6 668.3L947.2 668.1L947.8 667.8L948.4 668.1L948.9 667.8L949.5 667.9L950.1 667.7L950.6 667.6L951.2 667.3L951.7 667.6L952.3 667.5L952.9 667.4L953.5 667.5L954.1 667.4L954.6 667.5L955.2 667.4L955.8 667.5L956.3 667.2L956.9 667.5L957.5 667.7L958.1 667.8L958.7 667.6L959.3 667.6L959.8 667.9L960.4 667.7L960.9 667.8L961.5 668.0L962.0 667.8L962.6 668.0L963.1 667.8L963.7 668.0L964.3 668.0L964.8 668.0L965.4 668.2L966.0 668.3L966.6 667.9L967.3 667.9L967.9 667.9L968.4 667.7L969.0 667.8L969.6 667.7L970.1 667.5L970.7 667.4L971.3 667.0L971.9 667.2L972.5 666.7L973.1 666.7L973.7 666.6L974.4 666.4L975.0 666.4L975.6 666.1L976.2 665.9L976.8 665.9L977.4 665.9L977.9 665.5L978.5 665.4L979.1 665.3L979.7 665.0L980.3 664.7L980.8 664.9L981.4 664.8L982.0 664.1L982.6 664.2L983.1 664.0L983.7 663.9L984.3 663.7L984.8 663.4L985.4 663.2L985.9 663.1L986.5 663.1L987.1 662.7L987.6 662.5L988.2 662.5L988.8 662.0L989.4 662.1L990.0 661.9L990.6 661.9L991.2 661.6L991.8 661.4L992.4 661.3L993.0 661.2L993.6 660.9L994.2 660.9L994.8 660.8L995.4 660.7L996.0 660.6L996.6 660.1L997.2 660.0L997.8 659.7L998.4 660.0L998.9 659.5L999.5 659.5L1000.1 659.4L1000.6 659.0L1001.2 659.1L1001.8 658.9L1002.4 658.5L1002.9 658.6L1003.5 658.6L1004.1 658.0L1004.7 658.3L1005.2 658.0L1005.8 657.9L1006.4 657.7L1006.9 657.7L1007.5 657.3L1008.1 657.3L1008.6 657.0L1009.2 657.0L1009.8 656.6L1010.4 656.5L1011.0 656.6L1011.6 656.3L1012.1 656.0L1012.7 655.7L1013.3 655.6L1013.9 655.6L1014.4 655.5L1015.0 655.3L1015.5 655.1L1016.1 654.9L1016.6 654.9L1017.1 654.5L1017.8 654.2L1018.4 654.2L1019.0 653.8L1019.6 653.6L1020.2 653.3L1020.8 653.1L1021.4 653.0L1021.9 652.7L1022.5 652.3L1023.1 652.3L1023.6 652.0L1024.2 651.7L1024.8 651.7L1025.4 651.4L1026.0 651.2L1026.6 651.2L1027.1 651.1L1027.7 650.7L1028.3 650.7L1028.9 650.4L1029.5 650.6L1030.1 650.2L1030.7 650.3L1031.3 649.9L1031.9 650.0L1032.5 650.1L1033.0 649.5L1033.6 649.6L1034.2 649.7L1034.7 649.5L1035.3 649.4L1035.9 649.7L1036.4 649.4L1037.0 649.2L1037.6 649.5L1038.2 649.1L1038.8 649.4L1039.4 649.1L1040.0 649.2L1040.6 649.3L1041.2 649.1L1041.8 648.8L1042.4 648.7L1042.9 649.0L1043.5 648.8L1044.1 648.5L1044.7 648.6L1045.3 648.5L1045.9 648.4L1046.6 648.0L1047.2 648.1L1047.8 648.2L1048.4 648.0L1049.0 648.0L1049.6 647.5L1050.2 647.7L1050.8 647.7L1051.4 647.8L1051.9 647.4L1052.5 647.4L1053.1 647.4L1053.6 647.5L1054.2 647.2L1054.7 647.4L1055.3 647.1L1055.9 647.2L1056.4 647.1L1057.0 647.1L1057.6 647.0L1058.1 646.8L1058.7 647.2L1059.3 647.0L1059.8 646.9L1060.4 647.0L1061.0 647.1L1061.5 646.8L1062.1 646.9L1062.7 647.0L1063.2 647.0L1063.8 646.9L1064.4 646.6L1065.0 647.1L1065.5 647.0L1066.1 646.9L1066.7 646.9L1067.3 647.0L1067.8 646.9L1068.4 646.8L1069.0 646.8L1069.5 646.9L1070.1 646.9L1070.7 646.8L1071.3 647.0L1071.9 646.8L1072.6 647.0L1073.2 646.8L1073.9 647.0L1074.5 647.1L1075.2 647.0L1075.8 646.9L1076.4 647.0L1077.0 647.0L1077.6 646.7L1078.1 646.9L1078.6 647.0L1079.0 646.9L1079.4 647.0L1079.7 647.0L1081.5 647.7L1083.2 651.5L1084.8 654.3L1086.2 635.0L1087.7 628.2L1088.8 629.0L1090.2 642.5L1091.6 650.0L1092.6 640.2L1094.0 638.7L1095.5 639.5L1096.5 654.3L1097.5 644.7L1099.0 644.7L1100.3 665.4L1101.5 648.5L1102.5 661.2L1103.5 672.8L1104.5 659.7L1106.0 667.2L1107.5 676.2L1109.0 673.2L1110.5 682.2L1112.0 685.2L1113.5 689.7L1115.5 692.0L1116.5 691.5L1116.8 692.2L1117.1 692.9L1117.7 693.1L1118.6 693.4L1119.0 693.4L1119.5 693.1L1120.0 693.5L1120.5 692.2L1121.1 692.4L1121.7 691.7L1122.4 692.1L1123.0 692.0L1123.7 690.6L1124.3 690.9L1125.0 690.7L1125.6 690.2L1126.1 690.1L1126.7 689.2L1127.2 689.7L1127.8 689.3L1128.3 688.9L1128.8 688.5L1129.4 688.5L1130.0 687.9L1130.5 687.8L1131.1 687.4L1131.7 686.7L1132.3 687.0L1132.9 686.8L1133.5 686.7L1134.0 686.1L1134.6 686.1L1135.2 686.1L1135.8 685.8L1136.3 686.0L1136.9 686.0L1137.5 685.1L1138.1 684.7L1138.8 685.3L1139.4 685.3L1140.0 685.0L1140.5 684.8L1141.1 684.3L1141.7 684.1L1142.3 684.3L1142.8 683.7L1143.4 683.3L1144.0 683.3L1144.6 684.0L1145.2 683.8L1145.7 682.9L1146.3 682.8L1146.8 682.9L1147.4 682.5L1147.9 682.9L1148.5 682.4L1149.0 681.9L1149.6 682.4L1150.1 681.7L1150.7 681.7L1151.3 681.3L1151.9 681.0L1152.5 680.9L1153.1 680.3L1153.7 679.6L1154.3 679.3L1154.9 679.1L1155.5 678.9L1156.1 678.8L1156.7 678.5L1157.3 678.3L1157.9 677.8L1158.5 677.3L1159.1 677.0L1159.7 676.3L1160.3 676.5L1161.0 676.3L1161.6 676.0L1162.2 675.5L1162.8 675.2L1163.4 675.1L1164.0 674.6L1164.6 674.5L1165.2 674.1L1165.8 673.7L1166.3 673.7L1166.9 672.9L1167.5 672.6L1168.1 672.1L1168.6 671.8L1169.1 672.1L1169.7 671.8L1170.2 671.0L1170.7 670.9L1171.3 670.7L1171.9 670.3L1172.5 670.2L1173.0 669.3L1173.5 669.2L1174.1 669.3L1174.6 669.3L1175.2 668.8L1175.8 668.3L1176.4 668.2L1176.9 667.9L1177.5 667.7L1178.1 668.1L1178.7 667.3L1179.3 667.3L1179.8 667.6L1180.4 667.2L1181.0 666.8L1181.6 666.3L1182.2 666.3L1182.8 666.4L1183.4 665.9L1184.0 665.9L1184.6 665.4L1185.2 665.2L1185.8 664.8L1186.4 664.8L1187.0 664.8L1187.6 663.8L1188.2 664.0L1188.8 663.8L1189.4 663.4L1190.0 663.2L1190.6 663.3L1191.2 663.4L1191.8 662.8L1192.4 662.5L1193.0 661.8L1193.6 662.5L1194.2 661.8L1194.8 661.5L1195.4 661.0L1196.0 661.0L1196.6 660.5L1197.2 660.5L1197.8 660.4L1198.4 660.0L1199.0 659.8L1199.6 659.2L1200.2 659.5L1200.8 658.6L1201.4 658.0L1202.0 658.2L1202.6 657.8L1203.2 657.5L1203.8 657.4L1204.4 657.4L1205.0 656.8L1205.6 656.9L1206.2 657.1L1206.8 656.7L1207.4 656.3L1208.0 656.2L1208.6 656.0L1209.2 655.8L1209.8 655.9L1210.4 655.5L1211.0 654.8L1211.6 655.2L1212.2 654.8L1212.7 655.1L1213.3 654.6L1213.9 654.7L1214.4 655.1L1215.0 654.1L1215.5 654.0L1216.1 653.8L1216.7 653.5L1217.2 653.4L1217.8 653.9L1218.4 653.5L1218.9 653.0L1219.5 653.0L1220.1 653.4L1220.7 652.9L1221.3 652.9L1221.9 652.9L1222.5 653.1L1223.1 653.1L1223.7 652.7L1224.3 652.3L1224.9 652.2L1225.5 652.5L1226.1 652.3L1226.7 651.7L1227.3 651.8L1227.9 651.6L1228.5 651.5L1229.0 651.2L1229.6 650.9L1230.2 651.1L1230.8 650.7L1231.3 651.4L1231.9 651.1L1232.5 650.5L1233.1 651.1L1233.8 650.9L1234.4 650.1L1235.1 651.0L1235.6 650.6L1236.1 650.8L1236.7 649.9L1237.2 650.3L1237.8 650.1L1238.3 650.0L1238.9 649.9L1239.5 650.0L1240.1 649.2L1240.7 649.2L1241.3 649.1L1241.9 649.2L1242.5 649.1L1243.0 649.3L1243.6 649.1L1244.2 649.0L1244.8 648.7L1245.4 648.7L1246.0 649.0L1246.6 648.9L1247.1 648.6L1247.7 648.4L1248.3 648.8L1248.9 648.2L1249.5 648.5L1250.1 648.5L1250.6 648.1L1251.2 648.3L1251.8 647.7L1252.4 648.2L1253.0 647.9L1253.6 647.4L1254.2 647.9L1254.7 647.4L1255.3 648.0L1255.9 647.4L1256.5 647.4L1257.1 647.5L1257.6 647.2L1258.2 647.3L1258.8 647.0L1259.4 647.3L1259.9 647.0L1260.5 647.0L1261.1 646.3L1261.7 647.1L1262.3 646.7L1262.8 646.2L1263.4 646.6L1264.0 646.6L1264.6 646.7L1265.1 646.1L1265.7 646.7L1266.3 646.2L1266.9 646.8L1267.5 646.1L1268.0 646.3L1268.6 646.0L1269.2 645.8L1269.8 646.3L1270.4 646.3L1271.0 646.4L1271.5 646.2L1272.1 645.8L1272.7 645.5L1273.3 645.7L1273.9 645.7L1274.5 645.7L1275.1 646.0L1275.6 645.9L1276.2 645.8L1276.8 645.9L1277.4 645.8L1278.0 645.9L1278.5 646.0L1279.1 646.0L1279.7 645.6L1280.3 645.4L1280.9 646.2L1281.4 645.8L1282.0 646.1L1282.6 645.4L1283.2 645.8L1283.7 645.9L1284.3 645.5L1284.9 645.8L1285.5 646.1L1286.0 646.2L1286.6 646.4L1287.2 645.7L1287.8 645.6L1288.4 646.2L1289.0 646.3L1289.6 646.1L1290.2 645.7L1290.8 646.3L1291.4 646.3L1292.0 646.3L1292.6 646.1L1293.2 646.3L1293.8 646.5L1294.4 646.1L1295.0 645.8L1295.5 646.4L1296.1 646.5L1296.6 646.4L1297.1 646.7L1297.6 646.3L1298.3 646.5L1299.0 646.6L1299.6 646.9L1300.2 647.2L1300.8 646.8L1301.3 647.5L1301.9 647.5L1302.4 647.4L1302.9 647.4L1303.5 647.8L1304.0 647.4L1304.6 647.5L1305.2 647.4L1305.8 647.9L1306.3 648.2L1306.9 648.0L1307.5 648.1L1308.0 648.0L1308.6 648.2L1309.2 647.9L1309.8 648.6L1310.3 648.3L1310.9 648.2L1311.5 648.4L1312.1 648.5L1312.7 649.0L1313.2 649.2L1313.8 648.6L1314.4 649.3L1315.0 649.4L1315.6 649.1L1316.2 648.9L1316.7 649.2L1317.3 649.3L1317.9 649.7L1318.5 649.6L1319.1 649.2L1319.7 649.8L1320.3 649.4L1320.8 650.1L1321.4 649.6L1322.0 649.8L1322.6 649.8L1323.2 649.9L1323.8 650.4L1324.3 650.3L1324.9 650.3L1325.5 650.3L1326.1 649.8L1326.7 650.1L1327.2 650.1L1327.8 650.0L1328.4 650.5L1329.0 650.1L1329.5 650.2L1330.1 650.1L1330.7 649.8L1331.2 650.6L1331.8 650.8L1332.4 650.4L1333.0 650.1L1333.6 649.9L1334.2 650.4L1334.9 650.7L1335.5 650.4L1336.1 650.6L1336.7 650.7L1337.3 650.6L1337.9 650.1L1338.4 650.5L1338.9 650.4L1339.4 649.8L1340.2 650.0L1340.8 649.6L1341.4 649.9L1341.8 650.0L1342.3 649.5L1342.9 649.1L1343.5 649.9L1344.1 649.5L1344.7 649.7L1345.3 648.8L1345.8 649.3L1346.3 649.4L1346.6 649.4L1348.0 645.5L1349.0 651.5L1350.0 644.7L1351.0 652.2L1352.0 644.0L1353.0 653.0L1354.0 643.2L1355.0 653.7L1356.0 641.7L1357.0 654.5L1358.0 641.0L1359.0 655.2L1360.0 641.7L1361.0 653.7L1362.0 643.2L1363.5 668.0L1365.2 620.0L1366.5 676.2L1367.9 722.0L1368.2 539.0L1369.5 631.2L1370.5 706.2L1372.1 419.0L1372.8 419.0L1373.4 833.0L1374.5 706.2L1375.0 833.0L1376.1 833.0L1377.5 595.2L1378.5 743.7L1379.5 608.7L1381.3 765.5L1382.7 563.7L1383.7 563.7L1385.0 706.2L1386.5 779.7L1387.5 593.7L1388.7 779.7L1389.7 588.5L1390.5 706.2L1391.2 762.5L1391.6 588.5L1393.0 653.0L1393.6 707.0L1394.5 676.2L1395.5 707.0L1396.8 691.2L1397.6 707.0L1398.6 698.7L1399.6 707.0L1401.5 698.7L1402.4 761.0L1403.0 761.0L1404.5 706.2L1407.5 683.0L1408.6 683.0L1409.6 809.7L1411.0 743.7L1413.0 809.7L1414.0 747.5L1416.0 782.0L1418.0 748.2L1420.0 766.2L1422.0 752.7L1424.9 767.0L1427.0 757.2L1430.0 760.2L1433.8 757.2L1436.0 763.2L1438.2 758.7L1439.5 757.3L1439.7 755.3L1440.0 752.2L1440.9 749.3L1441.3 748.5L1441.8 747.7L1442.3 747.1L1442.9 746.6L1443.5 746.1L1444.2 745.7L1444.9 745.5L1445.6 745.0L1446.2 743.7L1446.9 742.4L1447.5 741.7L1448.1 741.9L1448.7 742.1L1449.3 741.9L1449.9 741.1L1450.5 740.2L1451.1 739.0L1451.7 737.8L1452.3 737.0L1452.9 736.6L1453.5 736.3L1454.1 735.7L1454.7 735.1L1455.3 734.4L1455.9 733.6L1456.6 732.7L1457.2 732.0L1457.8 731.4L1458.4 731.0L1459.0 730.7L1459.5 730.3L1460.1 729.6L1460.6 728.9L1461.3 728.3L1461.9 727.8L1462.5 727.3L1463.1 726.7L1463.6 726.4L1464.1 726.2L1464.6 726.3L1465.0 726.5L1465.7 726.5L1466.3 726.8L1466.8 726.6L1467.2 726.2L1467.7 725.3L1468.0 724.6L1468.5 723.6L1468.9 722.7L1469.4 721.8L1469.9 720.9L1470.5 719.3L1471.0 717.7L1471.5 716.4L1472.0 715.5L1472.6 714.7L1473.2 713.9L1473.8 713.0L1474.3 712.3L1474.8 711.6L1475.3 711.0L1475.8 710.6L1476.3 710.3L1476.9 709.5L1477.5 708.1L1478.2 706.7L1478.7 706.2L1479.3 705.8L1479.8 705.6L1480.4 705.6L1481.0 705.7L1481.6 705.3L1482.2 704.2L1482.9 703.4L1483.5 702.8L1484.1 702.9L1484.7 702.6L1485.3 702.5L1485.9 702.2L1486.5 702.0L1487.1 701.5L1487.7 701.0L1488.3 700.4L1488.9 700.0L1489.5 699.3L1490.1 698.7L1490.7 698.4L1491.3 698.8L1491.8 698.9L1492.4 698.5L1492.9 697.5L1493.4 696.6L1493.9 695.8L1494.5 695.3L1495.0 695.4L1495.5 695.7L1496.1 695.5L1496.7 694.6L1497.3 693.9L1497.9 693.7L1498.4 693.8L1499.0 693.2L1499.5 691.9L1500.1 691.3L1500.7 691.5L1501.3 692.0L1501.9 691.7L1502.6 691.3L1503.2 690.8L1503.8 690.3L1504.4 689.5L1505.0 689.1L1505.5 689.1L1506.1 689.5L1506.6 689.2L1507.2 688.5L1507.8 687.7L1508.4 687.8L1508.9 687.8L1509.4 687.8L1510.0 687.4L1510.5 687.1L1511.0 686.8L1511.5 686.4L1512.1 685.8L1512.6 685.3L1513.2 684.7L1513.8 684.2L1514.3 684.0L1514.9 683.9L1515.5 683.8L1516.1 684.0L1516.7 684.4L1517.3 685.0L1517.9 685.2L1518.5 684.8L1519.1 684.2L1519.7 684.2L1520.3 684.8L1520.9 684.9L1521.5 684.6L1522.1 684.0L1522.7 683.8L1523.2 683.6L1523.8 683.5L1524.4 683.1L1525.0 682.5L1525.6 681.3L1526.2 680.5L1526.7 680.2L1527.3 680.2L1527.9 679.7L1528.5 679.0L1529.1 678.4L1529.7 678.2L1530.3 677.9L1530.9 677.8L1531.5 677.4L1532.1 677.2L1532.6 676.9L1533.2 676.9L1533.8 676.8L1534.4 676.9L1535.0 676.4L1535.6 675.6L1536.2 674.6L1536.8 674.5L1537.4 674.5L1538.0 674.6L1538.5 674.0L1539.1 673.8L1539.7 673.9L1540.3 674.3L1540.9 674.5L1541.5 674.2L1542.0 673.5L1542.6 672.7L1543.2 672.8L1543.8 673.5L1544.4 674.0L1545.0 674.1L1545.6 673.6L1546.2 673.3L1546.8 673.0L1547.3 673.3L1547.9 673.5L1548.5 673.4L1549.1 672.6L1549.7 672.1L1550.3 672.3L1550.9 673.1L1551.5 673.5L1552.1 673.5L1552.7 673.4L1553.3 673.5L1553.9 673.7L1554.6 674.3L1555.2 675.1L1555.8 675.9L1556.4 676.5L1557.0 676.7L1557.6 676.9L1558.1 677.2L1558.7 677.4L1559.2 676.8L1559.9 676.4L1560.6 676.3L1561.2 676.4L1561.9 677.0L1562.5 677.9L1563.0 678.8L1563.6 678.8L1564.1 678.3L1564.6 678.0L1565.3 678.8L1565.8 679.6L1566.3 680.1L1566.8 680.9L1567.3 681.7L1567.9 683.8L1568.4 685.4L1568.9 686.5L1569.4 686.5L1569.9 686.5L1570.5 686.8L1571.1 686.9L1571.8 686.9L1572.5 687.3L1573.0 688.2L1573.5 689.8L1574.0 690.8L1574.6 691.3L1575.2 691.0L1575.8 691.1L1576.4 691.4L1577.0 692.3L1577.6 693.1L1578.2 694.6L1578.8 695.7L1579.4 696.5L1580.0 696.5L1580.6 696.6L1581.2 696.4L1581.7 696.9L1582.3 697.9L1582.9 699.6L1583.5 700.4L1584.0 700.3L1584.6 700.6L1585.2 701.8L1585.8 703.2L1586.3 703.0L1586.9 701.9L1587.5 701.3L1588.1 702.1L1588.7 703.4L1589.3 703.7L1589.9 702.8L1590.5 701.4L1591.1 700.6L1591.7 700.3L1592.3 700.6L1592.9 700.4L1593.4 700.0L1594.0 699.0L1594.5 698.6L1595.0 698.8L1595.6 699.1L1596.2 698.9L1596.6 698.3L1597.0 697.9L1597.5 697.5L1598.0 697.2L1598.5 696.9L1599.2 697.1L1600.0 696.6L1600.4 695.8L1600.9 694.5L1601.5 694.3L1602.0 694.5L1602.6 694.5L1603.2 693.4L1603.8 692.7L1604.4 692.5L1605.1 692.7L1605.7 692.8L1606.4 692.6L1607.1 693.0L1607.7 693.9L1608.4 694.6L1609.0 694.0L1609.6 692.8L1610.2 691.8L1610.8 691.6L1611.3 692.1L1612.0 693.1L1612.6 694.1L1613.3 694.6L1613.9 694.7L1614.5 694.9L1615.1 695.7L1615.7 696.1L1616.3 695.6L1616.9 694.7L1617.5 694.6L1618.0 695.4L1618.5 696.3L1619.0 696.5L1619.5 696.7L1620.0 697.4L1620.7 698.3L1621.3 698.9L1621.8 698.9L1622.3 698.5L1622.8 697.6L1623.3 697.1L1623.8 696.7L1624.4 697.0L1625.0 697.4L1625.5 697.9L1626.0 698.4L1626.5 698.9L1627.0 699.6L1627.6 699.8L1628.2 699.6L1628.7 699.3L1629.3 699.4L1629.9 700.0L1630.5 701.5L1631.2 703.1L1631.8 704.1L1632.5 704.4L1633.0 703.4L1633.6 702.2L1634.2 701.9L1634.8 702.0L1635.4 702.5L1636.0 702.8L1636.7 703.3L1637.3 702.9L1638.0 702.3L1638.6 701.5L1639.2 701.8L1639.8 702.4L1640.4 703.0L1641.0 703.1L1641.5 702.6L1642.0 701.7L1642.5 700.5L1643.3 700.6L1644.0 700.7L1644.7 702.0L1645.3 702.6L1645.8 702.6L1646.3 702.7L1646.7 703.9L1647.2 705.5L1647.6 706.3L1648.2 707.0L1648.5 707.2L1648.8 707.3L1649.2 708.5L1650.0 709.8L1650.4 710.8L1650.9 712.4L1651.4 713.9L1652.0 714.9L1652.6 714.6L1653.2 714.2L1653.9 714.2L1654.5 715.2L1655.2 715.7L1655.8 715.8L1656.5 715.2L1657.0 715.1L1657.6 715.1L1658.2 715.0L1658.8 714.4L1659.4 714.8L1660.0 715.3L1660.5 716.8L1661.1 717.7L1661.6 717.7L1662.1 717.2L1662.7 717.5L1663.2 717.9L1663.8 718.6L1664.4 719.6L1665.0 720.9L1665.6 721.7L1666.3 721.8L1666.9 721.7L1667.5 721.6L1668.1 721.9L1668.7 722.4L1669.2 722.8L1669.6 722.9L1670.0 722.9L1670.5 725.2L1670.5 728.3L1671.3 731.2L1671.7 732.0L1672.1 732.3L1672.6 732.6L1673.1 732.4L1673.6 731.7L1674.2 732.2L1674.9 733.4L1675.5 733.9L1676.2 734.1L1676.8 733.0L1677.5 731.7L1678.1 731.6L1678.8 732.0L1679.4 732.2L1680.0 731.8L1680.6 731.5L1681.2 731.6L1681.8 731.9L1682.4 731.5L1683.1 731.0L1683.7 731.1L1684.3 731.7L1684.9 732.0L1685.5 731.6L1686.1 731.0L1686.7 730.6L1687.3 730.1L1687.8 729.4L1688.3 729.1L1688.8 729.1L1689.5 729.6L1690.2 730.4L1690.8 731.3L1691.4 731.7L1692.0 732.2L1692.5 732.7L1692.9 732.8L1693.4 731.9L1693.8 731.6L1694.5 733.0L1695.0 735.3L1695.5 737.3L1695.9 739.4L1696.3 741.5L1696.7 744.6L1696.9 746.1L1697.6 747.8L1698.0 747.8L1698.5 748.4L1699.0 749.3L1699.6 749.9L1700.2 750.7L1700.8 751.7L1701.4 753.0L1702.0 753.7L1702.6 753.9L1703.1 753.3L1703.7 752.7L1704.2 751.6L1704.8 750.3L1705.3 748.7L1705.8 748.0L1706.4 747.3L1707.0 746.5L1707.6 745.6L1708.1 745.8L1708.7 747.4L1709.3 749.6L1709.9 751.3L1710.5 752.4L1711.1 753.6L1711.7 755.1L1712.2 756.4L1712.8 757.3L1713.3 758.2L1713.8 759.1L1714.5 759.0L1715.1 757.6L1715.7 755.7L1716.3 754.2L1716.8 752.7L1717.2 751.7L1717.6 750.9L1718.3 750.8L1718.7 751.6L1719.0 752.7L1719.5 754.6L1720.1 757.9L1720.7 756.7L1721.3 757.6L1721.9 757.4L1722.5 758.9L1722.9 745.7L1723.1 757.2L1723.7 758.5L1724.3 757.7L1724.9 759.0L1725.5 758.1L1726.1 776.0L1726.7 758.0L1727.3 776.1L1727.9 758.3L1728.5 776.1L1729.1 758.0L1729.7 775.9L1730.3 758.5L1730.9 775.8L1731.5 757.9L1732.1 783.1L1732.7 757.7L1733.3 783.0L1733.8 751.3L1733.9 757.2L1734.5 782.9L1735.1 757.6L1735.7 792.8L1736.3 757.0L1736.9 792.8L1737.5 756.9L1738.1 793.2L1738.7 757.2L1739.3 793.0L1739.9 756.6L1740.5 793.1L1741.1 756.6L1741.7 792.6L1742.3 756.5L1742.9 802.5L1743.5 757.0L1744.1 802.4L1744.7 756.5L1745.3 787.1L1745.9 756.6L1746.5 787.2L1747.1 756.3L1747.7 787.5L1748.3 756.1L1748.9 787.0L1749.5 755.1L1750.1 787.5L1750.7 754.5L1751.3 787.2L1751.9 753.0L1752.5 787.5L1753.1 752.4L1753.7 787.5L1754.3 751.9L1754.5 747.5L1754.9 786.9L1755.5 750.8L1756.1 822.8L1756.7 750.6L1757.3 813.3L1757.9 750.0L1758.5 812.7L1759.1 749.6L1759.7 813.1L1760.3 750.0" fill="none" stroke="#FF837F" stroke-width="7.5" stroke-linejoin="round" stroke-linecap="round"/><path d="M516.9 954.9L517.2 954.7L517.7 954.6L518.2 954.2L518.7 953.9L519.3 953.3L520.0 952.9L520.6 952.4L521.3 951.6L522.0 951.5L522.6 951.0L523.2 950.5L523.8 949.7L524.4 949.3L525.0 948.9L525.6 948.4L526.2 948.1L526.7 947.5L527.3 947.1L527.9 946.4L528.4 946.0L529.0 945.5L529.5 944.8L530.0 944.7L530.6 943.9L531.2 943.3L531.8 942.4L532.3 941.8L532.9 941.2L533.4 940.7L534.0 940.1L534.5 939.5L535.0 938.7L535.6 938.0L536.1 937.3L536.7 936.9L537.2 935.8L537.8 935.3L538.3 934.6L538.9 933.6L539.4 933.2L539.9 932.7L540.5 931.6L541.0 931.2L541.6 930.6L542.1 929.9L542.7 929.5L543.2 928.8L543.8 928.0L544.3 927.8L544.8 927.3L545.4 926.8L545.9 926.4L546.5 925.7L547.0 925.2L547.6 924.5L548.2 924.4L548.8 923.7L549.3 923.4L549.9 922.9L550.4 922.6L551.0 922.3L551.6 922.2L552.2 921.3L552.8 921.1L553.4 921.0L553.9 920.9L554.5 920.4L555.0 919.7L555.6 919.3L556.2 919.3L556.8 918.8L557.3 918.4L557.9 918.4L558.4 918.1L559.0 917.6L559.5 917.3L560.0 917.0L560.6 916.8L561.1 916.2L561.7 915.9L562.2 915.5L562.7 914.8L563.3 914.9L563.8 914.4L564.4 913.9L564.9 913.1L565.5 912.8L566.0 912.6L566.6 911.7L567.2 911.4L567.8 911.1L568.3 910.2L568.9 910.2L569.4 909.5L570.0 908.8L570.5 908.3L571.1 907.7L571.6 907.0L572.2 906.5L572.7 905.6L573.3 905.0L573.8 904.6L574.4 903.7L574.9 902.9L575.5 902.5L576.0 901.9L576.6 901.0L577.1 900.1L577.7 899.5L578.2 898.8L578.7 898.0L579.3 897.4L579.8 896.2L580.3 895.7L580.8 894.4L581.4 893.6L581.9 892.9L582.5 892.1L583.0 891.2L583.5 890.3L584.0 889.5L584.5 888.7L585.0 887.9L585.5 886.9L586.1 886.0L586.8 885.0L587.5 883.8L588.0 883.2L588.5 882.3L589.0 881.7L589.6 880.6L590.2 879.6L590.8 878.7L591.4 877.8L592.0 877.0L592.6 875.8L593.2 874.9L593.9 874.2L594.5 872.6L595.1 871.8L595.7 871.1L596.3 870.2L596.9 869.2L597.5 868.2L598.0 867.5L598.6 866.5L599.2 865.5L599.8 865.0L600.4 863.9L600.9 862.8L601.5 862.0L602.1 861.0L602.7 860.1L603.3 858.9L603.8 858.2L604.4 857.4L605.0 856.1L605.6 855.3L606.2 854.4L606.8 853.3L607.4 852.3L608.0 850.7L608.6 849.8L609.2 848.6L609.8 847.6L610.4 846.6L611.0 845.0L611.5 844.4L612.1 842.9L612.7 842.2L613.3 840.9L613.8 840.1L614.4 839.2L615.0 837.9L615.6 837.0L616.2 836.1L616.7 835.0L617.3 834.0L617.8 833.3L618.4 832.3L618.9 831.2L619.5 830.6L620.1 829.2L620.7 828.6L621.3 827.6L621.8 826.8L622.4 826.1L623.0 825.3L623.5 824.6L624.1 823.5L624.7 822.7L625.3 822.3L625.8 821.3L626.4 820.5L627.0 819.7L627.6 819.4L628.2 818.6L628.9 818.0L629.5 816.9L630.1 816.3L630.7 815.5L631.2 815.2L631.8 814.7L632.4 813.7L633.0 813.5L633.5 812.8L634.1 812.1L634.7 811.2L635.3 811.1L635.9 810.3L636.5 809.7L637.1 809.3L637.7 808.7L638.3 808.3L638.9 807.3L639.5 807.1L640.1 806.5L640.7 805.9L641.3 805.1L641.9 804.4L642.5 804.1L643.0 803.3L643.6 802.7L644.2 802.3L644.8 801.5L645.4 800.6L646.0 800.3L646.6 799.5L647.2 799.3L647.7 798.6L648.3 797.9L648.9 797.4L649.5 797.0L650.1 796.3L650.7 796.0L651.3 795.2L651.9 794.8L652.5 794.4L653.0 793.9L653.6 793.1L654.2 792.8L654.8 791.9L655.4 791.5L656.0 790.9L656.6 790.8L657.2 790.0L657.7 789.6L658.3 789.1L658.9 788.6L659.5 788.0L660.1 787.5L660.7 787.2L661.3 786.4L661.9 785.9L662.5 785.4L663.1 784.6L663.7 783.9L664.3 783.4L664.9 783.0L665.5 782.0L666.1 781.6L666.7 781.2L667.3 780.6L667.8 779.9L668.4 779.4L669.0 778.7L669.5 777.9L670.1 777.3L670.7 776.7L671.3 776.3L671.9 775.4L672.5 774.8L673.1 774.1L673.7 773.4L674.2 772.9L674.8 772.1L675.4 771.7L675.9 770.7L676.5 770.4L677.1 769.6L677.7 768.7L678.2 768.4L678.8 767.6L679.4 766.6L680.0 766.1L680.5 765.5L681.1 764.7L681.7 764.1L682.3 763.4L682.9 762.6L683.4 761.8L684.0 761.2L684.6 760.4L685.2 759.6L685.8 758.5L686.3 758.1L686.9 757.4L687.5 756.4L688.1 755.5L688.7 755.1L689.3 753.7L689.9 753.2L690.5 752.6L691.1 751.3L691.7 750.7L692.3 750.0L692.9 748.9L693.5 748.1L694.0 747.3L694.6 746.2L695.2 745.5L695.8 744.7L696.3 743.9L696.9 742.8L697.5 741.8L698.1 740.8L698.7 739.9L699.3 739.1L699.8 738.0L700.4 736.9L701.0 736.0L701.5 735.4L702.1 734.4L702.7 733.3L703.2 732.0L703.8 731.4L704.4 730.4L705.0 729.6L705.5 728.5L706.1 727.4L706.7 726.5L707.3 725.2L707.8 724.6L708.4 723.6L709.0 722.4L709.6 721.8L710.1 720.9L710.7 719.5L711.3 718.7L711.9 717.9L712.5 717.0L713.0 716.0L713.6 715.0L714.2 714.6L714.8 713.6L715.3 712.4L715.9 711.5L716.5 711.1L717.1 710.1L717.6 709.5L718.2 708.5L718.8 707.5L719.4 706.9L720.0 705.8L720.6 705.2L721.3 704.5L721.9 703.9L722.5 703.0L723.2 702.3L723.8 701.7L724.4 701.1L724.9 700.5L725.4 699.9L725.9 699.2L726.3 698.9L727.1 697.8L727.7 697.0L728.1 696.5L728.5 696.1L728.8 695.5L729.3 694.0L729.6 692.3L730.0 691.0L730.4 690.3L730.8 689.8L731.5 689.6L731.9 689.3L732.3 688.9L732.7 688.5L733.2 688.2L733.7 687.5L734.4 686.8L735.1 686.5L735.5 686.0L736.0 685.8L736.6 685.1L737.1 684.5L737.7 684.1L738.3 684.0L738.9 683.2L739.5 682.5L740.2 682.1L740.8 681.7L741.4 681.2L742.0 680.6L742.6 680.2L743.2 679.6L743.7 678.9L744.3 678.5L744.8 678.1L745.4 677.4L745.9 676.9L746.5 676.0L747.0 675.6L747.6 675.1L748.2 674.4L748.8 674.0L749.4 673.3L750.1 672.6L750.6 671.9L751.1 671.7L751.7 671.1L752.2 670.3L752.8 669.8L753.3 669.5L753.9 668.5L754.5 668.1L755.1 667.5L755.7 666.7L756.3 666.0L756.9 665.5L757.5 665.0L758.2 664.5L758.8 663.8L759.4 663.1L760.1 662.6L760.6 662.1L761.2 661.6L761.8 661.1L762.3 660.5L762.9 660.2L763.5 659.4L764.1 659.0L764.7 658.6L765.3 657.9L765.9 657.5L766.5 656.8L767.1 656.5L767.7 656.2L768.3 655.7L769.0 655.2L769.6 654.7L770.2 654.0L770.8 654.1L771.4 653.4L772.0 653.1L772.6 652.4L773.2 652.1L773.8 651.4L774.4 651.4L775.0 651.1L775.6 650.3L776.2 650.2L776.8 649.9L777.4 649.2L778.0 648.8L778.6 648.6L779.1 648.3L779.7 647.9L780.3 647.7L780.9 647.4L781.5 647.2L782.1 646.8L782.7 646.6L783.3 646.2L783.9 645.5L784.5 645.3L785.1 644.8L785.7 644.5L786.3 644.3L786.9 643.9L787.5 643.6L788.1 643.0L788.7 642.7L789.3 642.5L789.9 642.1L790.5 641.7L791.1 641.4L791.6 641.0L792.2 640.8L792.8 640.4L793.4 640.0L794.0 639.5L794.6 639.3L795.2 638.6L795.8 638.4L796.4 638.2L797.0 637.6L797.6 637.5L798.2 637.2L798.8 636.6L799.4 636.4L800.0 636.0L800.6 635.8L801.2 635.4L801.8 635.0L802.4 634.5L803.0 634.2L803.6 633.9L804.2 633.6L804.8 633.2L805.4 632.7L806.0 632.3L806.6 632.1L807.2 631.6L807.7 631.2L808.3 631.0L808.9 630.6L809.5 630.4L810.1 630.1L810.7 629.6L811.3 629.6L811.8 628.9L812.4 628.8L813.0 628.4L813.5 628.2L814.1 627.4L814.6 627.3L815.2 627.1L815.8 626.8L816.3 626.7L816.9 626.2L817.5 626.0L818.0 625.6L818.6 625.3L819.2 624.9L819.8 624.4L820.4 624.2L821.0 623.6L821.6 623.6L822.2 622.8L822.7 622.7L823.3 622.6L823.9 621.9L824.4 621.6L825.0 621.4L825.6 620.8L826.2 620.3L826.8 620.1L827.3 619.7L827.9 619.3L828.5 618.7L829.1 618.7L829.7 618.3L830.3 617.6L830.9 617.2L831.5 616.7L832.1 616.6L832.7 615.9L833.3 615.8L833.9 615.2L834.5 614.8L835.1 614.7L835.7 614.4L836.3 613.9L836.9 613.5L837.5 613.4L838.1 613.0L838.7 612.7L839.2 612.6L839.8 612.3L840.4 611.8L841.0 611.9L841.6 611.3L842.2 611.2L842.8 610.7L843.4 610.6L843.9 610.1L844.5 610.3L845.1 610.0L845.7 609.4L846.3 609.1L846.9 608.8L847.5 609.0L848.1 608.5L848.6 608.3L849.2 608.0L849.8 607.8L850.4 607.3L851.0 607.2L851.6 606.7L852.2 606.6L852.8 606.4L853.4 606.1L854.0 605.7L854.7 605.3L855.3 605.1L855.9 604.7L856.5 604.7L857.1 604.2L857.8 603.8L858.4 603.4L859.0 603.1L859.6 602.8L860.1 602.5L860.7 602.3L861.3 602.1L861.8 601.8L862.4 601.8L862.9 601.1L863.4 601.0L863.9 601.0L864.4 600.2L865.1 600.1L865.9 599.9L866.6 599.5L867.3 599.3L868.0 598.9L868.6 598.7L869.2 598.4L869.8 598.3L870.4 597.7L870.9 597.6L871.4 597.6L871.8 597.3L872.2 597.1L872.6 597.2L872.9 596.9L873.9 591.9L874.2 591.7L874.5 591.5L874.9 590.7L875.3 590.5L875.9 590.2L876.6 589.1L877.4 588.5L878.5 587.8L878.9 587.8L879.3 587.3L879.8 587.2L880.3 586.6L880.8 586.4L881.4 586.1L881.9 585.5L882.5 585.8L883.1 585.4L883.7 584.6L884.3 584.7L885.0 584.2L885.6 584.0L886.2 583.6L886.9 582.9L887.5 582.8L888.2 582.8L888.9 582.1L889.5 581.6L890.1 581.2L890.8 580.9L891.4 580.8L892.0 580.7L892.6 580.2L893.2 579.8L893.8 579.8L894.4 579.0L895.0 578.6L895.5 578.5L896.1 578.1L896.7 577.5L897.3 577.1L897.9 577.0L898.5 576.7L899.1 576.0L899.7 575.9L900.2 575.5L900.8 575.3L901.4 574.8L902.0 574.5L902.6 574.1L903.2 574.0L903.8 573.7L904.4 573.0L904.9 572.9L905.5 572.2L906.1 572.1L906.7 571.8L907.3 571.6L907.9 571.0L908.5 570.7L909.1 570.4L909.7 569.7L910.3 569.7L910.9 569.2L911.5 569.0L912.1 568.4L912.7 567.9L913.3 568.0L913.9 567.7L914.5 567.2L915.1 567.1L915.7 566.6L916.2 566.2L916.8 566.1L917.4 565.4L918.0 565.2L918.5 565.1L919.1 564.9L919.6 564.4L920.2 564.2L920.7 563.8L921.4 563.6L922.0 563.5L922.7 562.7L923.4 562.9L924.1 562.0L924.8 561.8L925.4 561.5L926.1 561.4L926.7 560.6L927.4 560.2L928.0 560.4L928.6 560.1L929.2 559.8L929.7 559.8L930.2 559.2L930.7 559.0L931.2 558.9L931.6 558.6L932.0 558.6L933.0 557.6L933.5 557.6L933.7 557.3L934.0 557.6L934.8 556.8L935.2 556.8L935.6 556.6L936.1 555.9L936.6 555.4L937.2 554.9L937.8 554.4L938.3 553.9L938.9 553.7L939.6 553.1L940.2 552.6L940.8 552.1L941.4 551.8L942.0 551.4L942.6 550.9L943.2 550.7L943.8 550.3L944.3 549.9L944.9 550.1L945.5 549.7L946.1 549.3L946.6 549.5L947.2 549.2L947.8 548.7L948.4 549.2L948.9 548.9L949.5 548.9L950.1 548.7L950.6 548.5L951.2 548.2L951.7 548.6L952.3 548.3L952.9 548.2L953.5 548.3L954.1 548.3L954.6 548.4L955.2 548.3L955.8 548.4L956.3 548.0L956.9 548.4L957.5 548.6L958.1 548.8L958.7 548.5L959.3 548.6L959.8 548.9L960.4 548.6L960.9 548.8L961.5 549.1L962.0 548.8L962.6 549.1L963.1 548.8L963.7 549.0L964.3 549.0L964.8 549.1L965.4 549.3L966.0 549.4L966.6 548.9L967.3 548.9L967.9 549.0L968.4 548.6L969.0 548.8L969.6 548.7L970.1 548.4L970.7 548.3L971.3 547.8L971.9 548.0L972.5 547.4L973.1 547.3L973.7 547.1L974.4 547.0L975.0 547.0L975.6 546.6L976.2 546.3L976.8 546.2L977.4 546.2L977.9 545.7L978.5 545.6L979.1 545.5L979.7 545.1L980.3 544.6L980.8 545.0L981.4 544.8L982.0 543.8L982.6 543.9L983.1 543.8L983.7 543.7L984.3 543.4L984.8 543.0L985.4 542.6L985.9 542.6L986.5 542.5L987.1 541.9L987.6 541.7L988.2 541.7L988.8 541.1L989.4 541.2L990.0 541.0L990.6 540.9L991.2 540.5L991.8 540.2L992.4 540.1L993.0 540.0L993.6 539.6L994.2 539.6L994.8 539.5L995.4 539.4L996.0 539.2L996.6 538.6L997.2 538.4L997.8 537.9L998.4 538.4L998.9 537.8L999.5 537.7L1000.1 537.6L1000.6 537.1L1001.2 537.2L1001.8 536.9L1002.4 536.4L1002.9 536.6L1003.5 536.5L1004.1 535.8L1004.7 536.1L1005.2 535.8L1005.8 535.6L1006.4 535.4L1006.9 535.3L1007.5 534.9L1008.1 534.8L1008.6 534.4L1009.2 534.4L1009.8 533.9L1010.4 533.8L1011.0 533.9L1011.6 533.4L1012.1 533.1L1012.7 532.7L1013.3 532.5L1013.9 532.5L1014.4 532.4L1015.0 532.1L1015.5 531.9L1016.1 531.5L1016.6 531.6L1017.1 531.0L1017.8 530.7L1018.4 530.7L1019.0 530.2L1019.6 529.8L1020.2 529.4L1020.8 529.2L1021.4 529.0L1021.9 528.7L1022.5 528.1L1023.1 528.1L1023.6 527.8L1024.2 527.3L1024.8 527.3L1025.4 526.9L1026.0 526.7L1026.6 526.7L1027.1 526.5L1027.7 526.0L1028.3 526.0L1028.9 525.6L1029.5 525.9L1030.1 525.3L1030.7 525.4L1031.3 525.0L1031.9 525.1L1032.5 525.2L1033.0 524.3L1033.6 524.5L1034.2 524.6L1034.7 524.4L1035.3 524.3L1035.9 524.7L1036.4 524.3L1037.0 523.9L1037.6 524.4L1038.2 523.8L1038.8 524.3L1039.4 523.9L1040.0 524.0L1040.6 524.1L1041.2 523.8L1041.8 523.5L1042.4 523.3L1042.9 523.7L1043.5 523.5L1044.1 523.1L1044.7 523.3L1045.3 523.1L1045.9 523.0L1046.6 522.4L1047.2 522.5L1047.8 522.6L1048.4 522.5L1049.0 522.4L1049.6 521.7L1050.2 522.0L1050.8 522.0L1051.4 522.2L1051.9 521.6L1052.5 521.6L1053.1 521.6L1053.6 521.7L1054.2 521.4L1054.7 521.6L1055.3 521.2L1055.9 521.4L1056.4 521.2L1057.0 521.2L1057.6 521.0L1058.1 520.8L1058.7 521.3L1059.3 521.1L1059.8 520.9L1060.4 521.0L1061.0 521.2L1061.5 520.8L1062.1 520.9L1062.7 521.0L1063.2 521.0L1063.8 520.9L1064.4 520.6L1065.0 521.2L1065.5 521.0L1066.1 521.0L1066.7 520.9L1067.3 521.0L1067.8 520.9L1068.4 520.8L1069.0 520.9L1069.5 520.9L1070.1 520.9L1070.7 520.8L1071.3 521.1L1071.9 520.8L1072.6 521.1L1073.2 520.8L1073.9 521.1L1074.5 521.2L1075.2 521.0L1075.8 520.9L1076.4 521.0L1077.0 521.0L1077.6 520.7L1078.1 520.9L1078.6 521.0L1079.0 520.9L1079.4 521.0L1079.7 521.1L1081.5 522.0L1083.2 527.0L1084.8 530.8L1086.2 505.0L1087.7 496.0L1088.8 497.0L1090.2 515.0L1091.6 525.0L1092.6 512.0L1094.0 510.0L1095.5 511.0L1096.5 530.8L1097.5 518.0L1099.0 518.0L1100.3 545.6L1101.5 523.0L1102.5 540.0L1103.5 555.4L1104.5 538.0L1106.0 548.0L1107.5 560.0L1109.0 556.0L1110.5 568.0L1112.0 572.0L1113.5 578.0L1115.5 581.0L1116.5 580.4L1116.8 581.4L1117.1 582.2L1117.7 582.5L1118.6 582.9L1119.0 583.0L1119.5 582.5L1120.0 583.1L1120.5 581.3L1121.1 581.6L1121.7 580.6L1122.4 581.2L1123.0 581.1L1123.7 579.3L1124.3 579.6L1125.0 579.3L1125.6 578.6L1126.1 578.6L1126.7 577.3L1127.2 578.0L1127.8 577.4L1128.3 576.9L1128.8 576.3L1129.4 576.4L1130.0 575.6L1130.5 575.5L1131.1 574.9L1131.7 574.0L1132.3 574.4L1132.9 574.1L1133.5 574.0L1134.0 573.2L1134.6 573.3L1135.2 573.3L1135.8 572.9L1136.3 573.0L1136.9 573.1L1137.5 571.8L1138.1 571.3L1138.8 572.1L1139.4 572.1L1140.0 571.7L1140.5 571.5L1141.1 570.7L1141.7 570.5L1142.3 570.8L1142.8 570.0L1143.4 569.4L1144.0 569.5L1144.6 570.3L1145.2 570.1L1145.7 569.0L1146.3 568.8L1146.8 568.9L1147.4 568.4L1147.9 568.9L1148.5 568.2L1149.0 567.6L1149.6 568.2L1150.1 567.3L1150.7 567.3L1151.3 566.9L1151.9 566.4L1152.5 566.2L1153.1 565.4L1153.7 564.6L1154.3 564.1L1154.9 563.9L1155.5 563.7L1156.1 563.5L1156.7 563.0L1157.3 562.8L1157.9 562.2L1158.5 561.4L1159.1 561.0L1159.7 560.1L1160.3 560.4L1161.0 560.2L1161.6 559.7L1162.2 559.1L1162.8 558.6L1163.4 558.6L1164.0 557.8L1164.6 557.7L1165.2 557.2L1165.8 556.7L1166.3 556.7L1166.9 555.5L1167.5 555.2L1168.1 554.5L1168.6 554.1L1169.1 554.5L1169.7 554.2L1170.2 553.1L1170.7 552.9L1171.3 552.7L1171.9 552.2L1172.5 551.9L1173.0 550.7L1173.5 550.7L1174.1 550.8L1174.6 550.8L1175.2 550.1L1175.8 549.5L1176.4 549.4L1176.9 549.0L1177.5 548.7L1178.1 549.2L1178.7 548.2L1179.3 548.2L1179.8 548.6L1180.4 548.0L1181.0 547.4L1181.6 546.8L1182.2 546.8L1182.8 547.0L1183.4 546.3L1184.0 546.3L1184.6 545.5L1185.2 545.4L1185.8 544.8L1186.4 544.8L1187.0 544.8L1187.6 543.5L1188.2 543.7L1188.8 543.5L1189.4 542.9L1190.0 542.7L1190.6 542.8L1191.2 543.0L1191.8 542.2L1192.4 541.8L1193.0 540.8L1193.6 541.8L1194.2 540.8L1194.8 540.4L1195.4 539.7L1196.0 539.8L1196.6 539.1L1197.2 539.1L1197.8 538.9L1198.4 538.4L1199.0 538.1L1199.6 537.3L1200.2 537.7L1200.8 536.6L1201.4 535.8L1202.0 536.0L1202.6 535.5L1203.2 535.0L1203.8 535.0L1204.4 534.9L1205.0 534.1L1205.6 534.2L1206.2 534.5L1206.8 534.0L1207.4 533.5L1208.0 533.3L1208.6 533.0L1209.2 532.8L1209.8 532.9L1210.4 532.4L1211.0 531.5L1211.6 532.0L1212.2 531.5L1212.7 531.9L1213.3 531.2L1213.9 531.3L1214.4 531.8L1215.0 530.5L1215.5 530.3L1216.1 530.1L1216.7 529.7L1217.2 529.6L1217.8 530.2L1218.4 529.7L1218.9 529.1L1219.5 529.1L1220.1 529.6L1220.7 529.0L1221.3 528.9L1221.9 529.0L1222.5 529.2L1223.1 529.2L1223.7 528.7L1224.3 528.2L1224.9 528.0L1225.5 528.4L1226.1 528.1L1226.7 527.3L1227.3 527.5L1227.9 527.3L1228.5 527.0L1229.0 526.7L1229.6 526.3L1230.2 526.5L1230.8 526.0L1231.3 526.9L1231.9 526.5L1232.5 525.8L1233.1 526.6L1233.8 526.3L1234.4 525.2L1235.1 526.4L1235.6 525.9L1236.1 526.2L1236.7 524.9L1237.2 525.4L1237.8 525.3L1238.3 525.1L1238.9 524.9L1239.5 525.1L1240.1 524.0L1240.7 524.0L1241.3 523.8L1241.9 524.0L1242.5 523.9L1243.0 524.1L1243.6 523.9L1244.2 523.7L1244.8 523.4L1245.4 523.3L1246.0 523.7L1246.6 523.5L1247.1 523.2L1247.7 522.9L1248.3 523.5L1248.9 522.6L1249.5 523.0L1250.1 523.1L1250.6 522.5L1251.2 522.8L1251.8 522.0L1252.4 522.7L1253.0 522.3L1253.6 521.6L1254.2 522.3L1254.7 521.7L1255.3 522.3L1255.9 521.5L1256.5 521.6L1257.1 521.7L1257.6 521.4L1258.2 521.5L1258.8 521.1L1259.4 521.4L1259.9 521.1L1260.5 521.0L1261.1 520.2L1261.7 521.2L1262.3 520.7L1262.8 519.9L1263.4 520.5L1264.0 520.6L1264.6 520.7L1265.1 519.8L1265.7 520.7L1266.3 520.0L1266.9 520.8L1267.5 519.9L1268.0 520.2L1268.6 519.7L1269.2 519.4L1269.8 520.2L1270.4 520.1L1271.0 520.3L1271.5 520.0L1272.1 519.5L1272.7 519.0L1273.3 519.4L1273.9 519.3L1274.5 519.3L1275.1 519.8L1275.6 519.6L1276.2 519.4L1276.8 519.6L1277.4 519.4L1278.0 519.5L1278.5 519.7L1279.1 519.8L1279.7 519.2L1280.3 518.9L1280.9 520.0L1281.4 519.5L1282.0 519.9L1282.6 518.9L1283.2 519.4L1283.7 519.6L1284.3 519.1L1284.9 519.4L1285.5 519.9L1286.0 520.0L1286.6 520.2L1287.2 519.4L1287.8 519.2L1288.4 519.9L1289.0 520.1L1289.6 519.9L1290.2 519.4L1290.8 520.2L1291.4 520.2L1292.0 520.1L1292.6 519.8L1293.2 520.1L1293.8 520.3L1294.4 519.9L1295.0 519.5L1295.5 520.3L1296.1 520.4L1296.6 520.3L1297.1 520.7L1297.6 520.2L1298.3 520.5L1299.0 520.5L1299.6 520.9L1300.2 521.4L1300.8 520.8L1301.3 521.8L1301.9 521.7L1302.4 521.6L1302.9 521.6L1303.5 522.2L1304.0 521.6L1304.6 521.8L1305.2 521.5L1305.8 522.2L1306.3 522.6L1306.9 522.5L1307.5 522.5L1308.0 522.4L1308.6 522.7L1309.2 522.2L1309.8 523.2L1310.3 522.8L1310.9 522.7L1311.5 522.9L1312.1 523.0L1312.7 523.7L1313.2 523.9L1313.8 523.2L1314.4 524.2L1315.0 524.3L1315.6 523.9L1316.2 523.7L1316.7 524.0L1317.3 524.2L1317.9 524.6L1318.5 524.5L1319.1 524.0L1319.7 524.8L1320.3 524.3L1320.8 525.2L1321.4 524.5L1322.0 524.8L1322.6 524.8L1323.2 524.9L1323.8 525.6L1324.3 525.5L1324.9 525.5L1325.5 525.4L1326.1 524.8L1326.7 525.2L1327.2 525.2L1327.8 525.1L1328.4 525.7L1329.0 525.2L1329.5 525.3L1330.1 525.2L1330.7 524.9L1331.2 525.8L1331.8 526.1L1332.4 525.7L1333.0 525.2L1333.6 524.9L1334.2 525.6L1334.9 526.0L1335.5 525.6L1336.1 525.8L1336.7 526.0L1337.3 525.9L1337.9 525.3L1338.4 525.8L1338.9 525.6L1339.4 524.7L1340.2 525.1L1340.8 524.6L1341.4 525.0L1341.8 525.1L1342.3 524.4L1342.9 523.9L1343.5 524.9L1344.1 524.4L1344.7 524.6L1345.3 523.4L1345.8 524.1L1346.3 524.3L1346.6 524.2L1348.0 519.0L1349.0 527.0L1350.0 518.0L1351.0 528.0L1352.0 517.0L1353.0 529.0L1354.0 516.0L1355.0 530.0L1356.0 514.0L1357.0 531.0L1358.0 513.0L1359.0 532.0L1360.0 514.0L1361.0 530.0L1362.0 516.0L1363.5 549.0L1365.2 485.0L1366.5 560.0L1367.9 621.0L1368.2 377.0L1369.5 500.0L1370.5 600.0L1372.1 217.0L1372.8 217.0L1373.4 769.0L1374.5 600.0L1375.0 769.0L1376.1 769.0L1377.5 452.0L1378.5 650.0L1379.5 470.0L1381.3 679.0L1382.7 410.0L1383.7 410.0L1385.0 600.0L1386.5 698.0L1387.5 450.0L1388.7 698.0L1389.7 443.0L1390.5 600.0L1391.2 675.0L1391.6 443.0L1393.0 529.0L1393.6 601.0L1394.5 560.0L1395.5 601.0L1396.8 580.0L1397.6 601.0L1398.6 590.0L1399.6 601.0L1401.5 590.0L1402.4 673.0L1403.0 673.0L1404.5 600.0L1407.5 569.0L1408.6 569.0L1409.6 738.0L1411.0 650.0L1413.0 738.0L1414.0 655.0L1416.0 701.0L1418.0 656.0L1420.0 680.0L1422.0 662.0L1424.9 681.0L1427.0 668.0L1430.0 672.0L1433.8 668.0L1436.0 676.0L1438.2 670.0L1439.5 668.1L1439.7 665.4L1440.0 661.3L1440.9 657.5L1441.3 656.4L1441.8 655.3L1442.3 654.5L1442.9 653.9L1443.5 653.2L1444.2 652.7L1444.9 652.4L1445.6 651.7L1446.2 650.1L1446.9 648.3L1447.5 647.4L1448.1 647.7L1448.7 647.9L1449.3 647.7L1449.9 646.5L1450.5 645.3L1451.1 643.7L1451.7 642.2L1452.3 641.1L1452.9 640.5L1453.5 640.1L1454.1 639.4L1454.7 638.6L1455.3 637.6L1455.9 636.5L1456.6 635.4L1457.2 634.5L1457.8 633.7L1458.4 633.1L1459.0 632.7L1459.5 632.2L1460.1 631.3L1460.6 630.3L1461.3 629.5L1461.9 628.8L1462.5 628.2L1463.1 627.4L1463.6 627.0L1464.1 626.7L1464.6 626.8L1465.0 627.1L1465.7 627.1L1466.3 627.5L1466.8 627.2L1467.2 626.7L1467.7 625.4L1468.0 624.5L1468.5 623.1L1468.9 622.0L1469.4 620.9L1469.9 619.7L1470.5 617.4L1471.0 615.4L1471.5 613.5L1472.0 612.4L1472.6 611.4L1473.2 610.2L1473.8 609.0L1474.3 608.1L1474.8 607.2L1475.3 606.5L1475.8 605.9L1476.3 605.4L1476.9 604.4L1477.5 602.6L1478.2 600.7L1478.7 600.0L1479.3 599.4L1479.8 599.2L1480.4 599.2L1481.0 599.3L1481.6 598.8L1482.2 597.4L1482.9 596.2L1483.5 595.5L1484.1 595.6L1484.7 595.2L1485.3 595.0L1485.9 594.7L1486.5 594.4L1487.1 593.7L1487.7 593.1L1488.3 592.3L1488.9 591.7L1489.5 590.8L1490.1 590.0L1490.7 589.6L1491.3 590.1L1491.8 590.3L1492.4 589.7L1492.9 588.4L1493.4 587.1L1493.9 586.1L1494.5 585.5L1495.0 585.6L1495.5 586.0L1496.1 585.7L1496.7 584.5L1497.3 583.6L1497.9 583.3L1498.4 583.5L1499.0 582.6L1499.5 581.0L1500.1 580.1L1500.7 580.4L1501.3 581.1L1501.9 580.7L1502.6 580.1L1503.2 579.4L1503.8 578.8L1504.4 577.7L1505.0 577.2L1505.5 577.2L1506.1 577.8L1506.6 577.3L1507.2 576.5L1507.8 575.4L1508.4 575.4L1508.9 575.5L1509.4 575.5L1510.0 574.9L1510.5 574.5L1511.0 574.1L1511.5 573.5L1512.1 572.8L1512.6 572.2L1513.2 571.4L1513.8 570.7L1514.3 570.4L1514.9 570.2L1515.5 570.1L1516.1 570.4L1516.7 570.9L1517.3 571.8L1517.9 571.9L1518.5 571.4L1519.1 570.7L1519.7 570.7L1520.3 571.4L1520.9 571.6L1521.5 571.2L1522.1 570.4L1522.7 570.2L1523.2 569.9L1523.8 569.8L1524.4 569.2L1525.0 568.4L1525.6 566.8L1526.2 565.8L1526.7 565.3L1527.3 565.4L1527.9 564.7L1528.5 563.8L1529.1 563.0L1529.7 562.7L1530.3 562.3L1530.9 562.1L1531.5 561.7L1532.1 561.3L1532.6 560.9L1533.2 560.9L1533.8 560.8L1534.4 560.9L1535.0 560.3L1535.6 559.2L1536.2 557.9L1536.8 557.7L1537.4 557.8L1538.0 557.8L1538.5 557.1L1539.1 556.8L1539.7 557.0L1540.3 557.4L1540.9 557.8L1541.5 557.4L1542.0 556.4L1542.6 555.4L1543.2 555.4L1543.8 556.4L1544.4 557.1L1545.0 557.2L1545.6 556.5L1546.2 556.2L1546.8 555.8L1547.3 556.1L1547.9 556.3L1548.5 556.3L1549.1 555.2L1549.7 554.5L1550.3 554.8L1550.9 555.9L1551.5 556.4L1552.1 556.5L1552.7 556.3L1553.3 556.4L1553.9 556.7L1554.6 557.5L1555.2 558.5L1555.8 559.6L1556.4 560.4L1557.0 560.7L1557.6 561.0L1558.1 561.3L1558.7 561.6L1559.2 560.8L1559.9 560.3L1560.6 560.2L1561.2 560.2L1561.9 561.0L1562.5 562.2L1563.0 563.5L1563.6 563.4L1564.1 562.8L1564.6 562.4L1565.3 563.5L1565.8 564.6L1566.3 565.2L1566.8 566.3L1567.3 567.4L1567.9 570.1L1568.4 572.3L1568.9 573.7L1569.4 573.7L1569.9 573.8L1570.5 574.1L1571.1 574.3L1571.8 574.3L1572.5 574.9L1573.0 576.1L1573.5 578.1L1574.0 579.5L1574.6 580.1L1575.2 579.7L1575.8 579.9L1576.4 580.3L1577.0 581.5L1577.6 582.6L1578.2 584.6L1578.8 586.0L1579.4 587.1L1580.0 587.0L1580.6 587.2L1581.2 587.0L1581.7 587.6L1582.3 589.0L1582.9 591.2L1583.5 592.3L1584.0 592.2L1584.6 592.5L1585.2 594.1L1585.8 595.9L1586.3 595.8L1586.9 594.3L1587.5 593.4L1588.1 594.6L1588.7 596.2L1589.3 596.7L1589.9 595.4L1590.5 593.5L1591.1 592.5L1591.7 592.1L1592.3 592.6L1592.9 592.3L1593.4 591.7L1594.0 590.4L1594.5 589.9L1595.0 590.2L1595.6 590.5L1596.2 590.2L1596.6 589.4L1597.0 588.9L1597.5 588.4L1598.0 588.0L1598.5 587.6L1599.2 587.9L1600.0 587.3L1600.4 586.2L1600.9 584.3L1601.5 584.1L1602.0 584.3L1602.6 584.4L1603.2 583.0L1603.8 582.0L1604.4 581.7L1605.1 582.0L1605.7 582.1L1606.4 581.9L1607.1 582.4L1607.7 583.7L1608.4 584.5L1609.0 583.7L1609.6 582.1L1610.2 580.8L1610.8 580.6L1611.3 581.2L1612.0 582.5L1612.6 583.8L1613.3 584.5L1613.9 584.6L1614.5 585.0L1615.1 586.0L1615.7 586.5L1616.3 585.9L1616.9 584.7L1617.5 584.5L1618.0 585.6L1618.5 586.7L1619.0 587.1L1619.5 587.4L1620.0 588.3L1620.7 589.5L1621.3 590.3L1621.8 590.2L1622.3 589.8L1622.8 588.5L1623.3 587.8L1623.8 587.3L1624.4 587.7L1625.0 588.2L1625.5 588.9L1626.0 589.5L1626.5 590.3L1627.0 591.2L1627.6 591.4L1628.2 591.2L1628.7 590.8L1629.3 590.9L1629.9 591.8L1630.5 593.7L1631.2 595.9L1631.8 597.2L1632.5 597.6L1633.0 596.3L1633.6 594.7L1634.2 594.3L1634.8 594.4L1635.4 595.0L1636.0 595.4L1636.7 596.2L1637.3 595.6L1638.0 594.9L1638.6 593.7L1639.2 594.2L1639.8 594.9L1640.4 595.8L1641.0 595.9L1641.5 595.2L1642.0 594.1L1642.5 592.4L1643.3 592.5L1644.0 592.7L1644.7 594.4L1645.3 595.2L1645.8 595.3L1646.3 595.4L1646.7 596.9L1647.2 599.0L1647.6 600.1L1648.2 601.0L1648.5 601.3L1648.8 601.5L1649.2 603.1L1650.0 604.9L1650.4 606.1L1650.9 608.3L1651.4 610.3L1652.0 611.7L1652.6 611.2L1653.2 610.7L1653.9 610.7L1654.5 611.9L1655.2 612.7L1655.8 612.8L1656.5 612.0L1657.0 611.9L1657.6 611.8L1658.2 611.8L1658.8 610.9L1659.4 611.5L1660.0 612.1L1660.5 614.1L1661.1 615.3L1661.6 615.4L1662.1 614.7L1662.7 615.1L1663.2 615.6L1663.8 616.5L1664.4 617.9L1665.0 619.6L1665.6 620.7L1666.3 620.9L1666.9 620.7L1667.5 620.5L1668.1 621.0L1668.7 621.5L1669.2 622.1L1669.6 622.3L1670.0 622.3L1670.5 625.3L1670.5 629.5L1671.3 633.4L1671.7 634.4L1672.1 634.9L1672.6 635.2L1673.1 635.0L1673.6 634.0L1674.2 634.7L1674.9 636.3L1675.5 636.9L1676.2 637.2L1676.8 635.7L1677.5 634.0L1678.1 633.8L1678.8 634.4L1679.4 634.6L1680.0 634.1L1680.6 633.8L1681.2 633.9L1681.8 634.2L1682.4 633.7L1683.1 633.1L1683.7 633.2L1684.3 634.0L1684.9 634.4L1685.5 633.8L1686.1 633.1L1686.7 632.5L1687.3 631.8L1687.8 630.9L1688.3 630.5L1688.8 630.6L1689.5 631.2L1690.2 632.2L1690.8 633.5L1691.4 634.0L1692.0 634.6L1692.5 635.3L1692.9 635.5L1693.4 634.2L1693.8 633.9L1694.5 635.7L1695.0 638.9L1695.5 641.5L1695.9 644.2L1696.3 647.0L1696.7 651.2L1696.9 653.2L1697.6 655.4L1698.0 655.5L1698.5 656.2L1699.0 657.4L1699.6 658.3L1700.2 659.4L1700.8 660.7L1701.4 662.4L1702.0 663.3L1702.6 663.6L1703.1 662.8L1703.7 662.0L1704.2 660.5L1704.8 658.7L1705.3 656.7L1705.8 655.7L1706.4 654.8L1707.0 653.7L1707.6 652.5L1708.1 652.8L1708.7 654.9L1709.3 657.8L1709.9 660.2L1710.5 661.6L1711.1 663.2L1711.7 665.2L1712.2 667.0L1712.8 668.1L1713.3 669.4L1713.8 670.5L1714.5 670.3L1715.1 668.5L1715.7 666.1L1716.3 664.0L1716.8 662.0L1717.2 660.7L1717.6 659.7L1718.3 659.5L1718.7 660.5L1719.0 662.0L1719.5 664.5L1720.1 669.0L1720.7 667.3L1721.3 668.5L1721.9 668.2L1722.5 670.2L1722.9 652.7L1723.1 668.0L1723.7 669.7L1724.3 668.7L1724.9 670.3L1725.5 669.2L1726.1 693.1L1726.7 669.0L1727.3 693.2L1727.9 669.4L1728.5 693.2L1729.1 669.1L1729.7 693.0L1730.3 669.7L1730.9 692.8L1731.5 668.9L1732.1 702.5L1732.7 668.6L1733.3 702.4L1733.8 660.1L1733.9 667.9L1734.5 702.3L1735.1 668.5L1735.7 715.5L1736.3 667.7L1736.9 715.5L1737.5 667.5L1738.1 716.0L1738.7 668.0L1739.3 715.8L1739.9 667.2L1740.5 715.9L1741.1 667.3L1741.7 715.2L1742.3 667.0L1742.9 728.4L1743.5 667.7L1744.1 728.3L1744.7 667.0L1745.3 707.9L1745.9 667.2L1746.5 708.0L1747.1 666.9L1747.7 708.4L1748.3 666.5L1748.9 707.8L1749.5 665.2L1750.1 708.4L1750.7 664.4L1751.3 708.0L1751.9 662.4L1752.5 708.4L1753.1 661.6L1753.7 708.4L1754.3 660.9L1754.5 655.0L1754.9 707.6L1755.5 659.5L1756.1 755.4L1756.7 659.2L1757.3 742.8L1757.9 658.4L1758.5 742.1L1759.1 657.9L1759.7 742.6L1760.3 658.3" fill="none" stroke="#FF3D62" stroke-width="7.5" stroke-linejoin="round" stroke-linecap="round"/><g font-family="Liberation Serif, serif" font-size="75.5" fill="#000"><text transform="translate(176.95,1048.28) scale(1,1.03)">0</text><text transform="translate(121.96,912.38) scale(1,1.03)">0.1</text><text transform="translate(121.60,776.06) scale(1,1.03)">0.2</text><text transform="translate(120.40,639.95) scale(1,1.03)">0.3</text><text transform="translate(118.61,503.82) scale(1,1.03)">0.4</text><text transform="translate(120.40,367.71) scale(1,1.03)">0.5</text><text transform="translate(119.69,231.60) scale(1,1.03)">0.6</text><text transform="translate(119.60,95.48) scale(1,1.03)">0.7</text><text transform="translate(280.25,1137.36) scale(1,1.03)" text-anchor="middle">0</text><text transform="translate(576.40,1137.36) scale(1,1.03)" text-anchor="middle">500</text><text transform="translate(872.55,1137.36) scale(1,1.03)" text-anchor="middle">1000</text><text transform="translate(1168.70,1137.36) scale(1,1.03)" text-anchor="middle">1500</text><text transform="translate(1464.85,1137.36) scale(1,1.03)" text-anchor="middle">2000</text><text transform="translate(1761.00,1137.36) scale(1,1.03)" text-anchor="middle">2500</text><text x="542.13" y="157.89">Soil1</text><text x="985.23" y="157.89">Soil2</text><text x="1429.13" y="157.89">Soil3</text><text x="542.13" y="239.79">Soil4</text><text x="985.23" y="239.79">Soil5</text><text x="726.51" y="1248.74" font-size="85.3">Wavelength (nm)</text><text transform="translate(90.84,752.87) rotate(-90)" x="0" y="0" font-size="85.8">Reflectance</text></g></svg></body></html>
